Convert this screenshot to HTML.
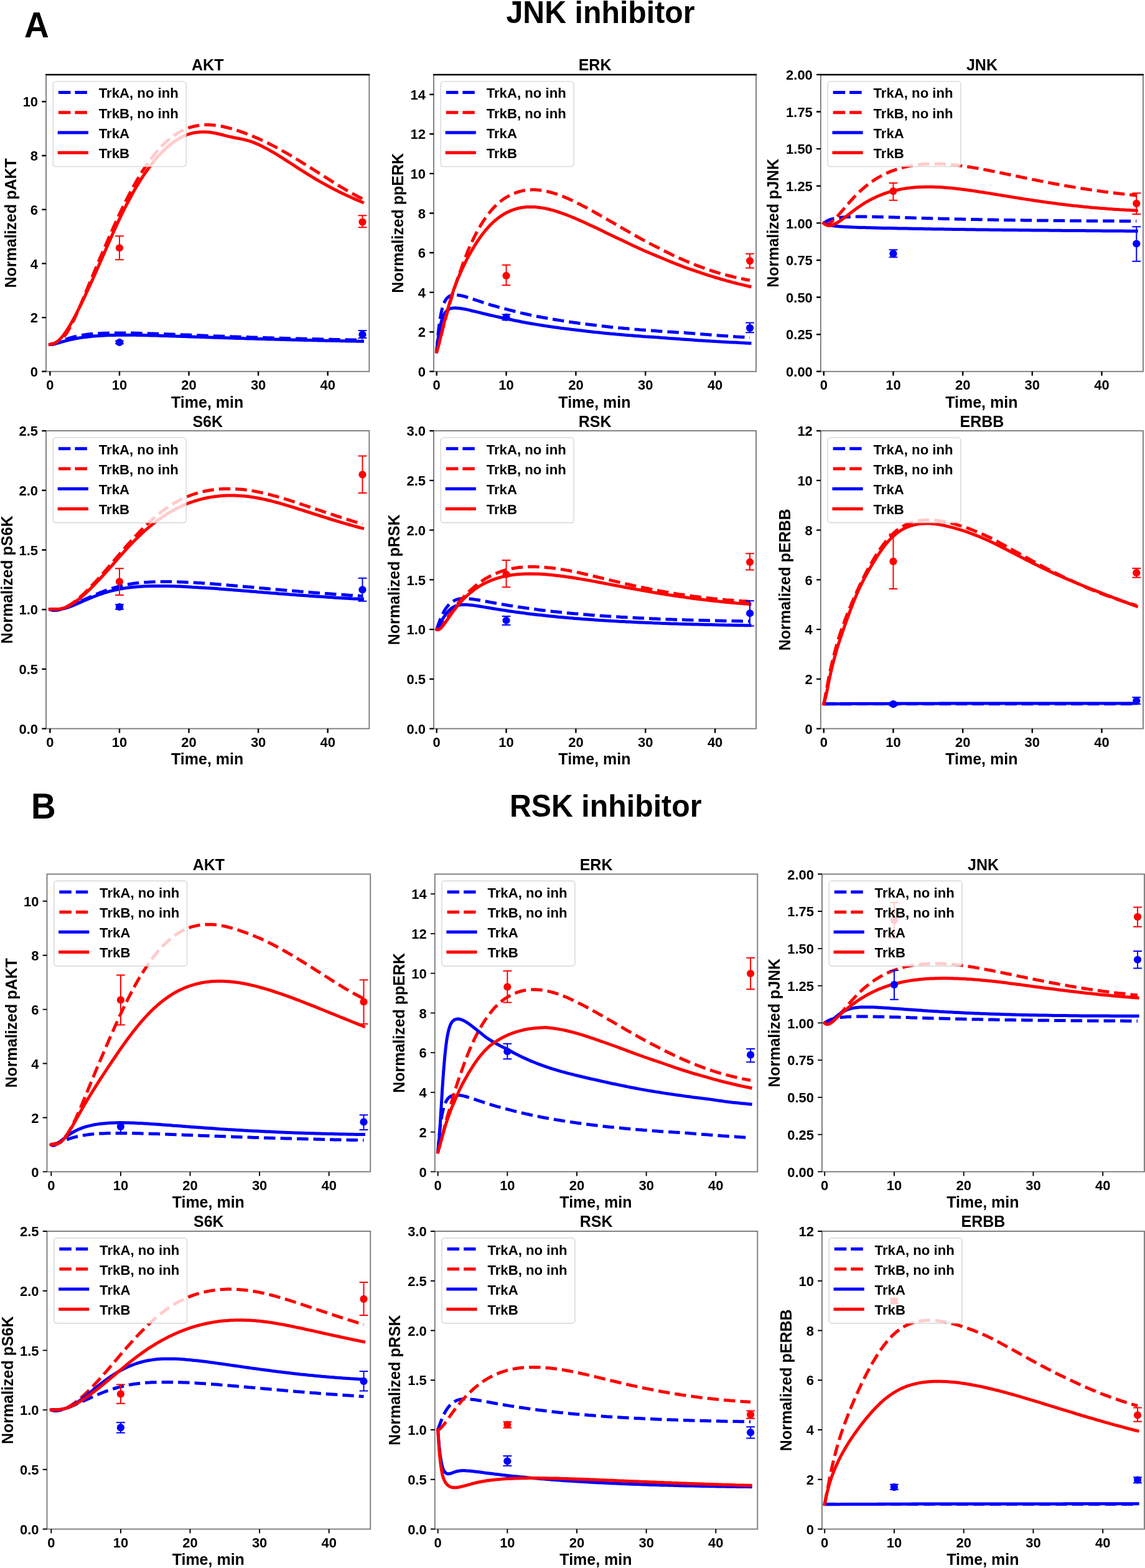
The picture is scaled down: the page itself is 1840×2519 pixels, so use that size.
<!DOCTYPE html>
<html lang="en"><head><meta charset="utf-8"><title>JNK inhibitor / RSK inhibitor</title>
<style>html,body{margin:0;padding:0;background:#fff;}svg{display:block;}text{font-family:"Liberation Sans", Arial, Helvetica, sans-serif;font-weight:bold;fill:#000;}</style>
</head><body>
<svg xmlns="http://www.w3.org/2000/svg" width="1840" height="2519" viewBox="0 0 1840 2519">
<rect x="0" y="0" width="1840" height="2519" fill="#ffffff"/>
<text transform="translate(39.00 60.00) scale(1 1.035)" font-size="55.0">A</text>
<text transform="translate(813.50 36.80) scale(1 1.035)" font-size="48.3">JNK inhibitor</text>
<text transform="translate(50.00 1314.60) scale(1 1.035)" font-size="55.0">B</text>
<text transform="translate(819.00 1312.20) scale(1 1.035)" font-size="48.3">RSK inhibitor</text>
<g id="panel-A1">
<clipPath id="clip0"><rect x="74.10" y="119.90" width="519.25" height="476.90"/></clipPath>
<g clip-path="url(#clip0)" fill="none" stroke-width="5.00" stroke-linejoin="round">
<path d="M80.4 553.4L81.3 553.5L82.2 553.5L83.1 553.4L84.0 553.2L84.9 553.0L85.8 552.8L86.6 552.5L87.5 552.2L88.4 551.9L89.3 551.6L90.2 551.3L91.1 550.9L92.0 550.5L92.9 550.2L93.8 549.8L94.7 549.5L95.6 549.1L96.5 548.7L97.4 548.4L98.3 548.0L99.1 547.7L100.0 547.3L100.9 547.0L101.8 546.6L102.7 546.3L103.6 545.9L104.5 545.6L105.4 545.3L106.3 545.0L107.2 544.7L108.1 544.4L109.0 544.1L109.9 543.8L110.7 543.5L111.6 543.2L112.5 543.0L113.4 542.7L114.3 542.4L115.2 542.2L116.1 541.9L117.0 541.7L117.9 541.5L118.8 541.2L119.7 541.0L120.6 540.8L121.5 540.6L122.4 540.4L123.2 540.2L124.1 540.0L125.0 539.8L129.2 538.9L133.4 538.2L137.6 537.6L141.8 537.1L146.0 536.6L150.2 536.3L154.4 536.0L158.6 535.7L162.8 535.5L167.0 535.3L171.2 535.2L175.4 535.1L179.6 535.0L183.8 535.0L188.0 534.9L192.2 534.9L196.4 534.9L200.6 535.0L204.8 535.0L209.0 535.1L213.2 535.1L217.4 535.2L221.6 535.3L225.7 535.4L229.9 535.5L234.1 535.7L238.3 535.8L242.5 535.9L246.7 536.0L250.9 536.2L255.1 536.3L259.3 536.5L263.5 536.6L267.7 536.8L271.9 537.0L276.1 537.1L280.3 537.3L284.5 537.4L288.7 537.6L292.9 537.8L297.1 537.9L301.3 538.1L305.5 538.3L309.7 538.4L313.9 538.6L318.1 538.7L322.3 538.9L326.5 539.1L330.7 539.2L334.9 539.4L339.1 539.5L343.3 539.7L347.5 539.9L351.6 540.0L355.8 540.2L360.0 540.3L364.2 540.5L368.4 540.6L372.6 540.8L376.8 540.9L381.0 541.1L385.2 541.2L389.4 541.4L393.6 541.5L397.8 541.6L402.0 541.8L406.2 541.9L410.4 542.0L414.6 542.2L418.8 542.3L423.0 542.4L427.2 542.6L431.4 542.7L435.6 542.8L439.8 542.9L444.0 543.1L448.2 543.2L452.4 543.3L456.6 543.4L460.8 543.5L465.0 543.7L469.2 543.8L473.4 543.9L477.5 544.0L481.7 544.1L485.9 544.2L490.1 544.3L494.3 544.4L498.5 544.5L502.7 544.6L506.9 544.7L511.1 544.8L515.3 544.9L519.5 545.0L523.7 545.1L527.9 545.2L532.1 545.3L536.3 545.4L540.5 545.5L544.7 545.6L548.9 545.7L553.1 545.8L557.3 545.8L561.5 545.9L565.7 546.0L569.9 546.1L574.1 546.2L578.3 546.2L582.5 546.3" stroke="#0000ff" stroke-dasharray="18.5 8.0"/>
<path d="M80.4 553.4L81.3 553.0L82.2 552.6L83.2 552.4L84.1 552.2L85.0 552.1L85.9 551.9L86.9 551.7L87.8 551.6L88.7 551.3L89.6 551.1L90.6 550.7L91.5 550.4L92.4 549.9L93.3 549.5L94.3 548.9L95.2 548.3L96.1 547.6L97.0 546.9L98.0 546.1L98.9 545.2L99.8 544.3L100.7 543.3L101.7 542.3L102.6 541.2L103.5 540.0L104.4 538.8L105.3 537.6L106.3 536.2L107.2 534.9L108.1 533.5L109.0 532.0L109.9 530.5L110.8 528.9L111.7 527.3L112.7 525.7L113.6 524.0L114.5 522.3L115.4 520.5L116.3 518.7L117.2 516.9L118.1 515.0L119.1 513.1L120.0 511.1L120.9 509.2L121.8 507.2L122.7 505.2L123.6 503.1L124.5 501.0L125.4 499.0L126.4 496.8L130.7 486.8L135.0 476.5L139.3 466.0L143.6 455.5L148.0 445.1L152.3 434.6L156.7 424.3L161.0 414.0L165.4 403.9L169.7 393.9L174.0 384.0L178.3 374.3L182.5 364.8L186.8 355.3L191.0 346.1L195.2 337.1L199.5 328.3L203.7 319.8L208.0 311.6L212.1 303.7L216.3 296.1L220.5 288.8L224.6 281.8L228.8 275.2L233.0 268.8L237.2 262.8L241.3 257.1L245.4 251.7L249.4 246.6L253.5 241.8L257.6 237.3L261.6 233.1L265.7 229.2L269.8 225.6L273.8 222.2L277.7 219.2L281.7 216.3L285.6 213.8L289.6 211.5L293.5 209.4L297.5 207.6L301.4 206.0L305.5 204.6L309.7 203.5L313.9 202.5L318.1 201.7L322.3 201.2L326.5 200.8L330.7 200.6L334.9 200.6L339.1 200.7L343.3 201.0L347.5 201.5L351.6 202.1L355.8 202.8L360.0 203.7L364.2 204.7L368.4 205.8L372.6 206.9L376.8 208.2L381.0 209.5L385.2 210.9L389.4 212.4L393.6 213.9L397.8 215.5L402.0 217.1L406.2 218.8L410.4 220.6L414.6 222.4L418.8 224.3L423.0 226.2L427.2 228.2L431.4 230.3L435.6 232.4L439.8 234.6L444.0 236.8L448.2 239.1L452.4 241.4L456.6 243.8L460.8 246.2L465.0 248.7L469.2 251.1L473.4 253.6L477.5 256.2L481.7 258.7L485.9 261.3L490.1 263.9L494.3 266.5L498.5 269.1L502.7 271.8L506.9 274.5L511.1 277.1L515.3 279.8L519.5 282.5L523.7 285.2L527.9 287.9L532.1 290.5L536.3 293.2L540.5 295.8L544.7 298.4L548.9 300.9L553.1 303.4L557.3 305.9L561.5 308.3L565.7 310.6L569.9 312.9L574.1 315.1L578.3 317.3L582.5 319.4" stroke="#ff0000" stroke-dasharray="18.5 8.0"/>
<path d="M80.4 553.4L81.3 553.5L82.2 553.4L83.1 553.4L84.0 553.3L84.9 553.1L85.8 553.0L86.6 552.8L87.5 552.6L88.4 552.3L89.3 552.1L90.2 551.9L91.1 551.6L92.0 551.4L92.9 551.1L93.8 550.9L94.7 550.6L95.6 550.3L96.5 550.1L97.4 549.8L98.3 549.6L99.1 549.3L100.0 549.1L100.9 548.8L101.8 548.6L102.7 548.3L103.6 548.1L104.5 547.8L105.4 547.6L106.3 547.4L107.2 547.1L108.1 546.9L109.0 546.7L109.9 546.5L110.7 546.2L111.6 546.0L112.5 545.8L113.4 545.6L114.3 545.4L115.2 545.2L116.1 545.0L117.0 544.9L117.9 544.7L118.8 544.5L119.7 544.3L120.6 544.1L121.5 544.0L122.4 543.8L123.2 543.6L124.1 543.5L125.0 543.3L129.2 542.6L133.4 542.0L137.6 541.4L141.8 540.9L146.0 540.5L150.2 540.1L154.4 539.7L158.6 539.4L162.8 539.2L167.0 538.9L171.2 538.7L175.4 538.6L179.6 538.5L183.8 538.4L188.0 538.3L192.2 538.2L196.4 538.2L200.6 538.2L204.8 538.2L209.0 538.2L213.2 538.3L217.4 538.3L221.6 538.4L225.7 538.5L229.9 538.6L234.1 538.7L238.3 538.8L242.5 538.9L246.7 539.0L250.9 539.1L255.1 539.2L259.3 539.4L263.5 539.5L267.7 539.6L271.9 539.7L276.1 539.9L280.3 540.0L284.5 540.2L288.7 540.3L292.9 540.4L297.1 540.6L301.3 540.7L305.5 540.9L309.7 541.0L313.9 541.2L318.1 541.3L322.3 541.4L326.5 541.6L330.7 541.7L334.9 541.9L339.1 542.0L343.3 542.2L347.5 542.3L351.6 542.4L355.8 542.6L360.0 542.7L364.2 542.8L368.4 543.0L372.6 543.1L376.8 543.2L381.0 543.4L385.2 543.5L389.4 543.6L393.6 543.8L397.8 543.9L402.0 544.0L406.2 544.1L410.4 544.3L414.6 544.4L418.8 544.5L423.0 544.6L427.2 544.8L431.4 544.9L435.6 545.0L439.8 545.1L444.0 545.2L448.2 545.3L452.4 545.4L456.6 545.6L460.8 545.7L465.0 545.8L469.2 545.9L473.4 546.0L477.5 546.1L481.7 546.2L485.9 546.3L490.1 546.4L494.3 546.5L498.5 546.6L502.7 546.7L506.9 546.8L511.1 546.9L515.3 547.0L519.5 547.1L523.7 547.2L527.9 547.3L532.1 547.3L536.3 547.4L540.5 547.5L544.7 547.6L548.9 547.7L553.1 547.8L557.3 547.9L561.5 547.9L565.7 548.0L569.9 548.1L574.1 548.2L578.3 548.3L582.5 548.3" stroke="#0000ff" stroke-linecap="square"/>
<path d="M80.4 553.4L81.3 553.3L82.2 553.1L83.2 552.9L84.1 552.7L85.0 552.4L85.9 552.1L86.9 551.8L87.8 551.3L88.7 550.9L89.6 550.3L90.6 549.8L91.5 549.1L92.4 548.4L93.3 547.7L94.3 546.9L95.2 546.0L96.1 545.1L97.0 544.2L98.0 543.2L98.9 542.2L99.8 541.1L100.7 540.0L101.7 538.8L102.6 537.6L103.5 536.3L104.4 535.1L105.3 533.8L106.3 532.4L107.2 531.0L108.1 529.6L109.0 528.2L109.9 526.7L110.8 525.3L111.7 523.7L112.7 522.2L113.6 520.6L114.5 519.0L115.4 517.4L116.3 515.8L117.2 514.1L118.1 512.4L119.1 510.7L120.0 509.0L120.9 507.3L121.8 505.5L122.7 503.8L123.6 502.0L124.5 500.2L125.4 498.4L126.4 496.6L130.7 487.8L135.0 478.8L139.3 469.5L143.6 460.1L148.0 450.6L152.3 440.9L156.7 431.2L161.0 421.3L165.4 411.4L169.7 401.5L174.0 391.7L178.3 381.9L182.5 372.4L186.8 363.0L191.0 353.9L195.2 345.1L199.5 336.5L203.7 328.2L208.0 320.2L212.1 312.5L216.3 305.1L220.5 298.0L224.6 291.2L228.8 284.7L233.0 278.4L237.2 272.5L241.3 266.9L245.4 261.6L249.4 256.5L253.5 251.7L257.6 247.3L261.6 243.1L265.7 239.2L269.8 235.5L273.8 232.2L277.7 229.1L281.7 226.3L285.6 223.8L289.6 221.5L293.5 219.4L297.5 217.7L301.4 216.1L305.5 214.8L309.7 213.8L313.9 213.0L318.1 212.4L322.3 212.0L326.5 211.9L330.7 211.9L334.9 212.3L339.1 212.8L343.3 213.5L347.5 214.3L351.6 215.3L355.8 216.3L360.0 217.3L364.2 218.4L368.4 219.4L372.6 220.3L376.8 221.2L381.0 222.0L385.2 222.8L389.4 223.6L393.6 224.6L397.8 225.7L402.0 226.9L406.2 228.4L410.4 230.1L414.6 231.9L418.8 233.8L423.0 235.9L427.2 238.1L431.4 240.4L435.6 242.8L439.8 245.2L444.0 247.7L448.2 250.3L452.4 252.9L456.6 255.6L460.8 258.3L465.0 261.0L469.2 263.7L473.4 266.4L477.5 269.1L481.7 271.8L485.9 274.5L490.1 277.2L494.3 279.8L498.5 282.4L502.7 284.9L506.9 287.5L511.1 289.9L515.3 292.3L519.5 294.7L523.7 297.0L527.9 299.3L532.1 301.5L536.3 303.7L540.5 305.8L544.7 307.9L548.9 309.9L553.1 311.9L557.3 313.9L561.5 315.8L565.7 317.7L569.9 319.6L574.1 321.4L578.3 323.2L582.5 325.0" stroke="#ff0000" stroke-linecap="square"/>
</g>
<g clip-path="url(#clip0)">
<path d="M191.97 552.14 V547.81 M185.07 552.14 H198.87 M185.07 547.81 H198.87" stroke="#0000ff" stroke-width="2.00" fill="none"/>
<circle cx="191.97" cy="549.98" r="6.10" fill="#0000ff"/>
<path d="M582.47 543.04 V530.90 M575.57 543.04 H589.37 M575.57 530.90 H589.37" stroke="#0000ff" stroke-width="2.00" fill="none"/>
<circle cx="582.47" cy="537.40" r="6.10" fill="#0000ff"/>
<path d="M191.97 417.31 V379.16 M185.07 417.31 H198.87 M185.07 379.16 H198.87" stroke="#ff0000" stroke-width="2.00" fill="none"/>
<circle cx="191.97" cy="398.24" r="6.10" fill="#ff0000"/>
<path d="M582.47 365.29 V346.21 M575.57 365.29 H589.37 M575.57 346.21 H589.37" stroke="#ff0000" stroke-width="2.00" fill="none"/>
<circle cx="582.47" cy="356.62" r="6.10" fill="#ff0000"/>
</g>
<rect x="74.10" y="119.90" width="519.25" height="476.90" fill="none" stroke="#7d7d7d" stroke-width="1.90"/>
<path d="M73.20 119.90 H594.25" stroke="#000" stroke-width="2.5" fill="none"/>
<path d="M80.40 596.80 v6.80 M191.97 596.80 v6.80 M303.54 596.80 v6.80 M415.11 596.80 v6.80 M526.68 596.80 v6.80 M74.10 596.80 h-6.80 M74.10 510.09 h-6.80 M74.10 423.38 h-6.80 M74.10 336.67 h-6.80 M74.10 249.96 h-6.80 M74.10 163.25 h-6.80" stroke="#000" stroke-width="2.40" fill="none"/>
<text transform="translate(80.40 626.40) scale(1 1.035)" font-size="22.0" text-anchor="middle">0</text>
<text transform="translate(191.97 626.40) scale(1 1.035)" font-size="22.0" text-anchor="middle">10</text>
<text transform="translate(303.54 626.40) scale(1 1.035)" font-size="22.0" text-anchor="middle">20</text>
<text transform="translate(415.11 626.40) scale(1 1.035)" font-size="22.0" text-anchor="middle">30</text>
<text transform="translate(526.68 626.40) scale(1 1.035)" font-size="22.0" text-anchor="middle">40</text>
<text transform="translate(61.10 605.00) scale(1 1.035)" font-size="22.0" text-anchor="end">0</text>
<text transform="translate(61.10 518.29) scale(1 1.035)" font-size="22.0" text-anchor="end">2</text>
<text transform="translate(61.10 431.58) scale(1 1.035)" font-size="22.0" text-anchor="end">4</text>
<text transform="translate(61.10 344.87) scale(1 1.035)" font-size="22.0" text-anchor="end">6</text>
<text transform="translate(61.10 258.16) scale(1 1.035)" font-size="22.0" text-anchor="end">8</text>
<text transform="translate(61.10 171.45) scale(1 1.035)" font-size="22.0" text-anchor="end">10</text>
<text transform="translate(333.73 113.30) scale(1 1.035)" font-size="25.0" text-anchor="middle">AKT</text>
<text transform="translate(333.12 654.50) scale(1 1.035)" font-size="25.0" text-anchor="middle">Time, min</text>
<text transform="translate(25.50 358.35) rotate(-90) scale(1 1.035)" font-size="25.0" text-anchor="middle">Normalized pAKT</text>
<rect x="85.30" y="130.90" width="213.90" height="136.70" rx="4.5" ry="4.5" fill="#ffffff" fill-opacity="0.8" stroke="#cccccc" stroke-opacity="0.8" stroke-width="1.4"/>
<path d="M93.90 148.50 H140.70" stroke="#0000ff" stroke-width="5.00" stroke-dasharray="19.5 7.0" fill="none"/>
<text transform="translate(158.70 157.40) scale(1 1.035)" font-size="22.2">TrkA, no inh</text>
<path d="M93.90 180.73 H140.70" stroke="#ff0000" stroke-width="5.00" stroke-dasharray="19.5 7.0" fill="none"/>
<text transform="translate(158.70 189.63) scale(1 1.035)" font-size="22.2">TrkB, no inh</text>
<path d="M95.20 212.96 H139.40" stroke="#0000ff" stroke-width="5.00" stroke-linecap="square" fill="none"/>
<text transform="translate(158.70 221.86) scale(1 1.035)" font-size="22.2">TrkA</text>
<path d="M95.20 245.19 H139.40" stroke="#ff0000" stroke-width="5.00" stroke-linecap="square" fill="none"/>
<text transform="translate(158.70 254.09) scale(1 1.035)" font-size="22.2">TrkB</text>
</g>
<g id="panel-A2">
<clipPath id="clip1"><rect x="697.05" y="119.90" width="518.00" height="476.90"/></clipPath>
<g clip-path="url(#clip1)" fill="none" stroke-width="5.00" stroke-linejoin="round">
<path d="M701.7 565.2L702.6 553.1L703.5 542.7L704.4 533.6L705.3 525.7L706.2 518.9L707.1 512.9L708.0 507.7L708.9 503.1L709.8 499.1L710.6 495.6L711.5 492.5L712.4 489.8L713.3 487.5L714.2 485.5L715.1 483.7L716.0 482.1L716.9 480.8L717.8 479.6L718.7 478.6L719.6 477.8L720.5 477.0L721.4 476.4L722.3 475.8L723.2 475.4L724.1 475.0L725.0 474.7L725.9 474.5L726.8 474.2L727.6 474.1L728.5 474.0L729.4 473.9L730.3 473.8L731.2 473.8L732.1 473.8L733.0 473.9L733.9 473.9L734.8 474.0L735.7 474.1L736.6 474.2L737.5 474.3L738.4 474.5L739.3 474.6L740.2 474.8L741.1 475.0L742.0 475.1L742.9 475.3L743.8 475.6L744.7 475.8L745.5 476.0L746.4 476.2L750.6 477.5L754.9 478.8L759.1 480.1L763.3 481.6L767.5 483.0L771.7 484.4L775.9 485.8L780.1 487.2L784.3 488.5L788.5 489.8L792.7 491.0L796.9 492.2L801.1 493.4L805.3 494.5L809.5 495.6L813.8 496.7L818.0 497.8L822.2 498.9L826.4 500.0L830.6 501.1L834.8 502.1L839.0 503.1L843.2 504.0L847.4 505.0L851.6 505.9L855.8 506.8L860.0 507.6L864.2 508.5L868.4 509.3L872.7 510.1L876.9 510.8L881.1 511.6L885.3 512.3L889.5 513.0L893.7 513.7L897.9 514.4L902.1 515.1L906.3 515.7L910.5 516.4L914.7 517.0L918.9 517.6L923.1 518.2L927.3 518.8L931.6 519.4L935.8 519.9L940.0 520.5L944.2 521.0L948.4 521.6L952.6 522.1L956.8 522.6L961.0 523.1L965.2 523.6L969.4 524.0L973.6 524.5L977.8 524.9L982.0 525.4L986.3 525.8L990.5 526.2L994.7 526.7L998.9 527.1L1003.1 527.5L1007.3 527.8L1011.5 528.2L1015.7 528.6L1019.9 529.0L1024.1 529.3L1028.3 529.7L1032.5 530.0L1036.7 530.3L1040.9 530.7L1045.2 531.0L1049.4 531.3L1053.6 531.6L1057.8 531.9L1062.0 532.2L1066.2 532.5L1070.4 532.8L1074.6 533.1L1078.8 533.3L1083.0 533.6L1087.2 533.9L1091.4 534.1L1095.6 534.4L1099.8 534.6L1104.1 534.9L1108.3 535.2L1112.5 535.6L1116.7 535.9L1120.9 536.3L1125.1 536.6L1129.3 536.9L1133.5 537.3L1137.7 537.6L1141.9 537.9L1146.1 538.3L1150.3 538.6L1154.5 538.9L1158.7 539.2L1163.0 539.5L1167.2 539.8L1171.4 540.1L1175.6 540.4L1179.8 540.7L1184.0 541.0L1188.2 541.2L1192.4 541.5L1196.6 541.8L1200.8 542.1L1205.0 542.3" stroke="#0000ff" stroke-dasharray="18.5 8.0"/>
<path d="M701.7 565.2L702.8 561.4L703.9 557.5L704.9 553.5L706.0 549.4L707.1 545.3L708.2 541.2L709.3 537.1L710.4 532.9L711.4 528.8L712.5 524.8L713.6 520.7L714.7 516.7L715.8 512.8L716.8 508.9L717.9 505.0L719.0 501.2L720.1 497.5L721.2 493.8L722.2 490.2L723.2 486.6L724.2 483.1L725.2 479.7L726.2 476.3L727.2 472.9L728.2 469.6L729.2 466.4L730.2 463.2L731.2 460.1L732.2 457.0L733.2 454.0L734.2 451.0L735.2 448.1L736.2 445.2L737.2 442.4L738.3 439.6L739.3 436.9L740.3 434.2L741.2 431.6L742.1 429.0L743.0 426.4L743.9 423.9L744.8 421.5L745.7 419.0L746.6 416.6L747.5 414.3L748.4 412.0L749.3 409.7L750.2 407.5L751.0 405.3L751.9 403.1L756.1 393.4L760.4 384.3L764.6 375.9L768.8 368.2L773.0 361.0L777.2 354.4L781.4 348.4L785.6 342.8L789.5 337.9L793.5 333.5L797.5 329.4L801.4 325.8L805.4 322.6L809.3 319.7L813.3 317.1L817.3 314.9L821.4 312.8L825.5 310.9L829.7 309.3L833.8 308.0L838.0 306.9L842.1 306.0L846.3 305.4L850.4 305.0L854.5 304.8L858.6 304.8L862.7 305.1L866.8 305.4L870.9 306.0L875.0 306.7L879.1 307.5L883.2 308.5L887.3 309.6L891.4 310.8L895.5 312.2L899.6 313.6L903.7 315.2L907.8 316.9L911.9 318.6L916.0 320.5L920.1 322.4L924.2 324.4L928.3 326.5L932.5 328.5L936.6 330.7L940.8 332.8L944.9 335.1L949.0 337.3L953.2 339.6L957.3 342.0L961.5 344.3L965.6 346.7L969.8 349.0L973.9 351.4L978.1 353.8L982.2 356.1L986.3 358.5L990.5 360.9L994.7 363.3L998.9 365.8L1003.1 368.3L1007.3 370.7L1011.5 373.2L1015.7 375.6L1019.9 378.0L1024.1 380.3L1028.3 382.7L1032.5 385.0L1036.7 387.2L1040.9 389.5L1045.2 391.7L1049.4 393.9L1053.6 396.0L1057.8 398.1L1062.0 400.3L1066.2 402.4L1070.4 404.5L1074.6 406.6L1078.8 408.7L1083.0 410.7L1087.2 412.6L1091.4 414.6L1095.6 416.4L1099.8 418.3L1104.1 420.1L1108.3 421.8L1112.5 423.5L1116.7 425.2L1120.9 426.9L1125.1 428.4L1129.3 430.0L1133.5 431.5L1137.7 433.0L1141.9 434.4L1146.1 435.8L1150.3 437.1L1154.5 438.4L1158.7 439.6L1163.0 440.8L1167.2 441.9L1171.4 443.0L1175.6 444.0L1179.8 445.1L1184.0 446.0L1188.2 447.0L1192.4 447.8L1196.6 448.7L1200.8 449.5L1205.0 450.3" stroke="#ff0000" stroke-dasharray="18.5 8.0"/>
<path d="M701.7 565.1L702.6 556.1L703.5 548.2L704.4 541.4L705.3 535.4L706.2 530.1L707.1 525.5L708.0 521.5L708.9 518.0L709.8 514.9L710.6 512.1L711.5 509.7L712.4 507.6L713.3 505.7L714.2 504.1L715.1 502.7L716.0 501.4L716.9 500.4L717.8 499.4L718.7 498.6L719.6 497.9L720.5 497.3L721.4 496.8L722.3 496.3L723.2 496.0L724.1 495.7L725.0 495.4L725.9 495.2L726.8 495.1L727.6 494.9L728.5 494.9L729.4 494.8L730.3 494.8L731.2 494.8L732.1 494.8L733.0 494.9L733.9 494.9L734.8 495.0L735.7 495.1L736.6 495.1L737.5 495.2L738.4 495.3L739.3 495.4L740.2 495.5L741.1 495.6L742.0 495.8L742.9 495.9L743.8 496.0L744.7 496.2L745.5 496.4L746.4 496.5L750.6 497.4L754.9 498.4L759.1 499.5L763.3 500.4L767.5 501.4L771.7 502.4L775.9 503.5L780.1 504.5L784.3 505.5L788.5 506.5L792.7 507.4L796.9 508.4L801.1 509.3L805.3 510.2L809.5 511.1L813.8 512.0L818.0 512.9L822.2 513.8L826.4 514.7L830.6 515.5L834.8 516.3L839.0 517.2L843.2 518.0L847.4 518.7L851.6 519.5L855.8 520.2L860.0 520.9L864.2 521.6L868.4 522.3L872.7 523.0L876.9 523.6L881.1 524.3L885.3 524.9L889.5 525.5L893.7 526.1L897.9 526.6L902.1 527.2L906.3 527.7L910.5 528.2L914.7 528.8L918.9 529.3L923.1 529.7L927.3 530.2L931.6 530.8L935.8 531.3L940.0 531.8L944.2 532.3L948.4 532.7L952.6 533.2L956.8 533.7L961.0 534.1L965.2 534.6L969.4 535.0L973.6 535.4L977.8 535.8L982.0 536.2L986.3 536.6L990.5 537.0L994.7 537.3L998.9 537.7L1003.1 538.1L1007.3 538.4L1011.5 538.8L1015.7 539.1L1019.9 539.4L1024.1 539.7L1028.3 540.0L1032.5 540.4L1036.7 540.7L1040.9 540.9L1045.2 541.2L1049.4 541.5L1053.6 541.8L1057.8 542.0L1062.0 542.4L1066.2 542.7L1070.4 543.0L1074.6 543.4L1078.8 543.7L1083.0 544.0L1087.2 544.3L1091.4 544.6L1095.6 544.9L1099.8 545.2L1104.1 545.5L1108.3 545.8L1112.5 546.1L1116.7 546.4L1120.9 546.7L1125.1 546.9L1129.3 547.2L1133.5 547.5L1137.7 547.7L1141.9 548.0L1146.1 548.2L1150.3 548.5L1154.5 548.7L1158.7 549.0L1163.0 549.2L1167.2 549.4L1171.4 549.7L1175.6 549.9L1179.8 550.1L1184.0 550.3L1188.2 550.6L1192.4 550.8L1196.6 551.0L1200.8 551.2L1205.0 551.4" stroke="#0000ff" stroke-linecap="square"/>
<path d="M701.7 565.1L702.8 562.0L703.8 558.4L704.9 554.6L705.9 550.5L707.0 546.3L708.0 541.9L709.1 537.5L710.1 533.2L711.2 528.8L712.2 524.4L713.3 520.2L714.4 515.9L715.4 511.8L716.5 507.8L717.5 503.9L718.6 500.0L719.6 496.3L720.7 492.7L721.7 489.2L722.6 485.8L723.6 482.6L724.5 479.4L725.5 476.4L726.4 473.4L727.3 470.5L728.3 467.8L729.2 465.0L730.1 462.4L731.1 459.9L732.0 457.4L733.0 454.9L733.9 452.5L734.8 450.2L735.8 447.9L736.7 445.7L737.6 443.5L738.6 441.4L739.5 439.3L740.4 437.2L741.3 435.2L742.2 433.2L743.1 431.3L744.0 429.3L744.9 427.5L745.8 425.6L746.7 423.8L747.6 422.0L748.5 420.2L749.3 418.4L750.2 416.7L754.4 408.9L758.7 401.5L762.9 394.4L767.1 387.9L771.3 381.7L775.5 376.0L779.7 370.7L783.9 365.8L788.1 361.3L792.3 357.2L796.5 353.5L800.7 350.1L804.9 347.1L809.1 344.4L813.3 342.0L817.6 339.9L821.7 338.1L825.9 336.6L830.1 335.3L834.3 334.3L838.4 333.5L842.6 332.9L846.8 332.5L851.0 332.4L855.2 332.4L859.3 332.6L863.5 333.0L867.7 333.5L871.9 334.1L876.1 334.9L880.3 335.8L884.5 336.8L888.7 337.9L892.8 339.2L897.0 340.5L901.2 341.9L905.4 343.4L909.6 344.9L913.8 346.5L918.0 348.2L922.2 349.9L926.4 351.7L930.5 353.6L934.7 355.4L938.9 357.3L943.1 359.2L947.3 361.2L951.5 363.1L955.7 365.1L959.9 367.1L964.1 369.1L968.3 371.1L972.5 373.2L976.7 375.2L980.9 377.2L985.1 379.2L989.3 381.2L993.5 383.2L997.6 385.1L1001.7 387.1L1005.8 389.1L1010.0 391.1L1014.1 393.0L1018.2 394.9L1022.3 396.8L1026.4 398.7L1030.5 400.5L1034.6 402.4L1038.7 404.2L1042.9 406.0L1047.0 407.7L1051.1 409.4L1055.2 411.1L1059.3 412.8L1063.4 414.5L1067.5 416.3L1071.7 418.0L1075.8 419.7L1079.9 421.4L1084.0 423.0L1088.1 424.6L1092.2 426.2L1096.3 427.8L1100.4 429.3L1104.6 430.8L1108.7 432.3L1112.8 433.7L1116.9 435.2L1121.0 436.5L1125.1 437.9L1129.3 439.3L1133.5 440.7L1137.7 442.1L1141.9 443.4L1146.1 444.7L1150.3 446.0L1154.5 447.2L1158.7 448.5L1163.0 449.7L1167.2 450.9L1171.4 452.0L1175.6 453.1L1179.8 454.3L1184.0 455.3L1188.2 456.4L1192.4 457.4L1196.6 458.4L1200.8 459.4L1205.0 460.4" stroke="#ff0000" stroke-linecap="square"/>
</g>
<g clip-path="url(#clip1)">
<path d="M813.55 514.14 V505.24 M806.65 514.14 H820.45 M806.65 505.24 H820.45" stroke="#0000ff" stroke-width="2.00" fill="none"/>
<circle cx="813.55" cy="509.69" r="6.10" fill="#0000ff"/>
<path d="M1205.03 534.17 V518.59 M1198.12 534.17 H1211.93 M1198.12 518.59 H1211.93" stroke="#0000ff" stroke-width="2.00" fill="none"/>
<circle cx="1205.03" cy="526.85" r="6.10" fill="#0000ff"/>
<path d="M813.55 458.18 V425.75 M806.65 458.18 H820.45 M806.65 425.75 H820.45" stroke="#ff0000" stroke-width="2.00" fill="none"/>
<circle cx="813.55" cy="442.92" r="6.10" fill="#ff0000"/>
<path d="M1205.03 430.52 V407.63 M1198.12 430.52 H1211.93 M1198.12 407.63 H1211.93" stroke="#ff0000" stroke-width="2.00" fill="none"/>
<circle cx="1205.03" cy="419.08" r="6.10" fill="#ff0000"/>
</g>
<rect x="697.05" y="119.90" width="518.00" height="476.90" fill="none" stroke="#7d7d7d" stroke-width="1.90"/>
<path d="M696.15 119.90 H1215.95" stroke="#000" stroke-width="2.5" fill="none"/>
<path d="M701.70 596.80 v6.80 M813.55 596.80 v6.80 M925.40 596.80 v6.80 M1037.25 596.80 v6.80 M1149.10 596.80 v6.80 M697.05 596.80 h-6.80 M697.05 533.21 h-6.80 M697.05 469.63 h-6.80 M697.05 406.04 h-6.80 M697.05 342.45 h-6.80 M697.05 278.87 h-6.80 M697.05 215.28 h-6.80 M697.05 151.69 h-6.80" stroke="#000" stroke-width="2.40" fill="none"/>
<text transform="translate(701.70 626.40) scale(1 1.035)" font-size="22.0" text-anchor="middle">0</text>
<text transform="translate(813.55 626.40) scale(1 1.035)" font-size="22.0" text-anchor="middle">10</text>
<text transform="translate(925.40 626.40) scale(1 1.035)" font-size="22.0" text-anchor="middle">20</text>
<text transform="translate(1037.25 626.40) scale(1 1.035)" font-size="22.0" text-anchor="middle">30</text>
<text transform="translate(1149.10 626.40) scale(1 1.035)" font-size="22.0" text-anchor="middle">40</text>
<text transform="translate(684.05 605.00) scale(1 1.035)" font-size="22.0" text-anchor="end">0</text>
<text transform="translate(684.05 541.41) scale(1 1.035)" font-size="22.0" text-anchor="end">2</text>
<text transform="translate(684.05 477.83) scale(1 1.035)" font-size="22.0" text-anchor="end">4</text>
<text transform="translate(684.05 414.24) scale(1 1.035)" font-size="22.0" text-anchor="end">6</text>
<text transform="translate(684.05 350.65) scale(1 1.035)" font-size="22.0" text-anchor="end">8</text>
<text transform="translate(684.05 287.07) scale(1 1.035)" font-size="22.0" text-anchor="end">10</text>
<text transform="translate(684.05 223.48) scale(1 1.035)" font-size="22.0" text-anchor="end">12</text>
<text transform="translate(684.05 159.89) scale(1 1.035)" font-size="22.0" text-anchor="end">14</text>
<text transform="translate(956.05 113.30) scale(1 1.035)" font-size="25.0" text-anchor="middle">ERK</text>
<text transform="translate(955.45 654.50) scale(1 1.035)" font-size="25.0" text-anchor="middle">Time, min</text>
<text transform="translate(647.85 358.35) rotate(-90) scale(1 1.035)" font-size="25.0" text-anchor="middle">Normalized ppERK</text>
<rect x="708.25" y="130.90" width="213.90" height="136.70" rx="4.5" ry="4.5" fill="#ffffff" fill-opacity="0.8" stroke="#cccccc" stroke-opacity="0.8" stroke-width="1.4"/>
<path d="M716.85 148.50 H763.65" stroke="#0000ff" stroke-width="5.00" stroke-dasharray="19.5 7.0" fill="none"/>
<text transform="translate(781.65 157.40) scale(1 1.035)" font-size="22.2">TrkA, no inh</text>
<path d="M716.85 180.73 H763.65" stroke="#ff0000" stroke-width="5.00" stroke-dasharray="19.5 7.0" fill="none"/>
<text transform="translate(781.65 189.63) scale(1 1.035)" font-size="22.2">TrkB, no inh</text>
<path d="M718.15 212.96 H762.35" stroke="#0000ff" stroke-width="5.00" stroke-linecap="square" fill="none"/>
<text transform="translate(781.65 221.86) scale(1 1.035)" font-size="22.2">TrkA</text>
<path d="M718.15 245.19 H762.35" stroke="#ff0000" stroke-width="5.00" stroke-linecap="square" fill="none"/>
<text transform="translate(781.65 254.09) scale(1 1.035)" font-size="22.2">TrkB</text>
</g>
<g id="panel-A3">
<clipPath id="clip2"><rect x="1318.85" y="119.90" width="518.15" height="476.90"/></clipPath>
<g clip-path="url(#clip2)" fill="none" stroke-width="5.00" stroke-linejoin="round">
<path d="M1323.8 358.5L1324.7 357.8L1325.6 357.1L1326.5 356.5L1327.4 355.9L1328.3 355.4L1329.2 354.9L1330.1 354.4L1330.9 354.0L1331.8 353.6L1332.7 353.3L1333.6 352.9L1334.5 352.6L1335.4 352.3L1336.3 352.1L1337.2 351.8L1338.1 351.6L1339.0 351.4L1339.9 351.1L1340.8 350.9L1341.7 350.8L1342.6 350.6L1343.5 350.4L1344.3 350.3L1345.2 350.1L1346.1 350.0L1347.0 349.9L1347.9 349.7L1348.8 349.6L1349.7 349.5L1350.6 349.4L1351.5 349.3L1352.4 349.2L1353.3 349.1L1354.2 349.1L1355.1 349.0L1356.0 348.9L1356.9 348.8L1357.7 348.8L1358.6 348.7L1359.5 348.7L1360.4 348.6L1361.3 348.6L1362.2 348.5L1363.1 348.5L1364.0 348.4L1364.9 348.4L1365.8 348.4L1366.7 348.3L1367.6 348.3L1368.5 348.3L1372.7 348.2L1376.9 348.1L1381.1 348.1L1385.3 348.1L1389.5 348.1L1393.7 348.1L1397.9 348.2L1402.1 348.2L1406.3 348.3L1410.5 348.4L1414.7 348.5L1418.9 348.6L1423.1 348.7L1427.3 348.8L1431.5 348.9L1435.7 349.0L1439.9 349.2L1444.1 349.3L1448.3 349.4L1452.5 349.5L1456.7 349.7L1460.9 349.8L1465.1 349.9L1469.3 350.1L1473.5 350.2L1477.7 350.3L1481.9 350.4L1486.1 350.6L1490.3 350.7L1494.5 350.8L1498.7 350.9L1502.9 351.0L1507.1 351.1L1511.3 351.3L1515.5 351.4L1519.7 351.5L1523.9 351.6L1528.1 351.7L1532.3 351.8L1536.5 351.9L1540.7 352.0L1544.9 352.1L1549.1 352.2L1553.3 352.3L1557.5 352.4L1561.7 352.5L1565.9 352.6L1570.1 352.6L1574.3 352.7L1578.5 352.8L1582.7 352.9L1586.9 353.0L1591.1 353.0L1595.3 353.1L1599.5 353.2L1603.7 353.3L1607.9 353.3L1612.1 353.4L1616.3 353.5L1620.5 353.5L1624.7 353.6L1628.9 353.7L1633.1 353.7L1637.3 353.8L1641.5 353.8L1645.7 353.9L1649.9 354.0L1654.1 354.0L1658.3 354.1L1662.5 354.1L1666.7 354.2L1670.9 354.2L1675.1 354.3L1679.3 354.3L1683.5 354.3L1687.7 354.4L1691.9 354.4L1696.1 354.5L1700.3 354.5L1704.5 354.6L1708.7 354.6L1712.9 354.6L1717.1 354.7L1721.3 354.7L1725.5 354.7L1729.7 354.8L1733.9 354.8L1738.1 354.8L1742.3 354.9L1746.5 354.9L1750.7 354.9L1754.9 354.9L1759.1 355.0L1763.3 355.0L1767.5 355.0L1771.7 355.0L1775.9 355.0L1780.1 355.1L1784.3 355.1L1788.5 355.1L1792.7 355.1L1796.9 355.1L1801.1 355.2L1805.3 355.2L1809.5 355.2L1813.7 355.2L1817.9 355.2L1822.1 355.2L1826.3 355.2" stroke="#0000ff" stroke-dasharray="18.5 8.0"/>
<path d="M1323.8 358.3L1324.7 359.1L1325.6 359.7L1326.5 360.0L1327.4 360.2L1328.3 360.3L1329.2 360.2L1330.1 360.0L1330.9 359.7L1331.8 359.3L1332.7 358.9L1333.6 358.3L1334.5 357.8L1335.4 357.1L1336.3 356.4L1337.2 355.7L1338.1 354.9L1339.0 354.1L1339.9 353.3L1340.8 352.5L1341.7 351.6L1342.6 350.7L1343.5 349.7L1344.3 348.8L1345.2 347.8L1346.1 346.9L1347.0 345.9L1347.9 344.9L1348.8 343.9L1349.7 342.8L1350.6 341.8L1351.5 340.8L1352.4 339.7L1353.3 338.7L1354.2 337.7L1355.1 336.6L1356.0 335.6L1356.9 334.5L1357.7 333.5L1358.6 332.4L1359.5 331.4L1360.4 330.3L1361.3 329.3L1362.2 328.2L1363.1 327.2L1364.0 326.2L1364.9 325.2L1365.8 324.1L1366.7 323.1L1367.6 322.1L1368.5 321.2L1372.7 316.6L1376.9 312.3L1381.1 308.2L1385.3 304.4L1389.5 300.7L1393.7 297.3L1397.9 294.1L1402.1 291.1L1406.3 288.3L1410.5 285.7L1414.7 283.3L1418.9 281.1L1423.1 279.0L1427.3 277.1L1431.5 275.4L1435.7 273.8L1439.9 272.3L1444.1 271.0L1448.3 269.7L1452.5 268.6L1456.7 267.7L1460.9 266.8L1465.1 266.0L1469.3 265.4L1473.5 264.8L1477.7 264.3L1481.9 263.9L1486.1 263.6L1490.3 263.4L1494.5 263.2L1498.7 263.2L1502.9 263.2L1507.1 263.2L1511.3 263.3L1515.5 263.5L1519.7 263.8L1523.9 264.1L1528.1 264.4L1532.3 264.8L1536.5 265.3L1540.7 265.8L1544.9 266.4L1549.1 266.9L1553.3 267.6L1557.5 268.2L1561.7 268.9L1565.9 269.6L1570.1 270.3L1574.3 271.1L1578.5 271.8L1582.7 272.6L1586.9 273.4L1591.1 274.2L1595.3 275.1L1599.5 275.9L1603.7 276.8L1607.9 277.6L1612.1 278.5L1616.3 279.4L1620.5 280.2L1624.7 281.1L1628.9 282.0L1633.1 282.9L1637.3 283.7L1641.5 284.6L1645.7 285.5L1649.9 286.4L1654.1 287.2L1658.3 288.1L1662.5 288.9L1666.7 289.8L1670.9 290.6L1675.1 291.4L1679.3 292.3L1683.5 293.1L1687.7 293.9L1691.9 294.7L1696.1 295.5L1700.3 296.2L1704.5 297.0L1708.7 297.7L1712.9 298.5L1717.1 299.2L1721.3 299.9L1725.5 300.6L1729.7 301.3L1733.9 302.0L1738.1 302.7L1742.3 303.3L1746.5 304.0L1750.7 304.6L1754.9 305.2L1759.1 305.9L1763.3 306.5L1767.5 307.0L1771.7 307.6L1775.9 308.2L1780.1 308.7L1784.3 309.3L1788.5 309.8L1792.7 310.3L1796.9 310.8L1801.1 311.3L1805.3 311.7L1809.5 312.2L1813.7 312.6L1817.9 313.1L1822.1 313.5L1826.3 313.9" stroke="#ff0000" stroke-dasharray="18.5 8.0"/>
<path d="M1323.8 358.5L1324.7 359.0L1325.6 359.4L1326.5 359.7L1327.4 360.1L1328.3 360.4L1329.2 360.7L1330.1 360.9L1330.9 361.2L1331.8 361.4L1332.7 361.6L1333.6 361.8L1334.5 362.0L1335.4 362.1L1336.3 362.3L1337.2 362.4L1338.1 362.6L1339.0 362.7L1339.9 362.8L1340.8 363.0L1341.7 363.1L1342.6 363.2L1343.5 363.3L1344.3 363.4L1345.2 363.5L1346.1 363.5L1347.0 363.6L1347.9 363.7L1348.8 363.8L1349.7 363.9L1350.6 363.9L1351.5 364.0L1352.4 364.1L1353.3 364.1L1354.2 364.2L1355.1 364.2L1356.0 364.3L1356.9 364.3L1357.7 364.4L1358.6 364.4L1359.5 364.5L1360.4 364.5L1361.3 364.6L1362.2 364.6L1363.1 364.7L1364.0 364.7L1364.9 364.8L1365.8 364.8L1366.7 364.8L1367.6 364.9L1368.5 364.9L1372.7 365.1L1376.9 365.2L1381.1 365.4L1385.3 365.5L1389.5 365.6L1393.7 365.7L1397.9 365.8L1402.1 366.0L1406.3 366.1L1410.5 366.2L1414.7 366.3L1418.9 366.4L1423.1 366.5L1427.3 366.5L1431.5 366.6L1435.7 366.7L1439.9 366.8L1444.1 366.9L1448.3 367.0L1452.5 367.1L1456.7 367.1L1460.9 367.2L1465.1 367.3L1469.3 367.4L1473.5 367.4L1477.7 367.5L1481.9 367.6L1486.1 367.7L1490.3 367.7L1494.5 367.8L1498.7 367.9L1502.9 367.9L1507.1 368.0L1511.3 368.1L1515.5 368.1L1519.7 368.2L1523.9 368.3L1528.1 368.3L1532.3 368.4L1536.5 368.4L1540.7 368.5L1544.9 368.6L1549.1 368.6L1553.3 368.7L1557.5 368.7L1561.7 368.8L1565.9 368.8L1570.1 368.9L1574.3 368.9L1578.5 369.0L1582.7 369.0L1586.9 369.1L1591.1 369.2L1595.3 369.2L1599.5 369.2L1603.7 369.3L1607.9 369.3L1612.1 369.4L1616.3 369.4L1620.5 369.5L1624.7 369.5L1628.9 369.6L1633.1 369.6L1637.3 369.7L1641.5 369.7L1645.7 369.8L1649.9 369.8L1654.1 369.8L1658.3 369.9L1662.5 369.9L1666.7 370.0L1670.9 370.0L1675.1 370.1L1679.3 370.1L1683.5 370.1L1687.7 370.2L1691.9 370.2L1696.1 370.2L1700.3 370.3L1704.5 370.3L1708.7 370.4L1712.9 370.4L1717.1 370.4L1721.3 370.5L1725.5 370.5L1729.7 370.5L1733.9 370.6L1738.1 370.6L1742.3 370.6L1746.5 370.7L1750.7 370.7L1754.9 370.7L1759.1 370.8L1763.3 370.8L1767.5 370.8L1771.7 370.9L1775.9 370.9L1780.1 370.9L1784.3 371.0L1788.5 371.0L1792.7 371.0L1796.9 371.1L1801.1 371.1L1805.3 371.1L1809.5 371.2L1813.7 371.2L1817.9 371.2L1822.1 371.2L1826.3 371.3" stroke="#0000ff" stroke-linecap="square"/>
<path d="M1323.8 358.5L1324.7 359.4L1325.6 360.2L1326.5 360.8L1327.4 361.3L1328.3 361.7L1329.2 362.0L1330.1 362.2L1330.9 362.4L1331.8 362.4L1332.7 362.4L1333.6 362.3L1334.5 362.2L1335.4 362.0L1336.3 361.8L1337.2 361.6L1338.1 361.3L1339.0 360.9L1339.9 360.6L1340.8 360.2L1341.7 359.8L1342.6 359.3L1343.5 358.8L1344.3 358.3L1345.2 357.8L1346.1 357.3L1347.0 356.7L1347.9 356.2L1348.8 355.6L1349.7 355.0L1350.6 354.4L1351.5 353.8L1352.4 353.2L1353.3 352.5L1354.2 351.9L1355.1 351.2L1356.0 350.5L1356.9 349.9L1357.7 349.2L1358.6 348.5L1359.5 347.8L1360.4 347.1L1361.3 346.4L1362.2 345.7L1363.1 345.0L1364.0 344.3L1364.9 343.6L1365.8 342.9L1366.7 342.2L1367.6 341.5L1368.5 340.9L1372.7 337.7L1376.9 334.6L1381.1 331.7L1385.3 328.9L1389.5 326.2L1393.7 323.7L1397.9 321.4L1402.1 319.2L1406.3 317.2L1410.5 315.3L1414.7 313.5L1418.9 311.9L1423.1 310.4L1427.3 309.0L1431.5 307.8L1435.7 306.6L1439.9 305.6L1444.1 304.7L1448.3 303.9L1452.5 303.1L1456.7 302.5L1460.9 301.9L1465.1 301.5L1469.3 301.1L1473.5 300.8L1477.7 300.6L1481.9 300.4L1486.1 300.3L1490.3 300.2L1494.5 300.2L1498.7 300.3L1502.9 300.4L1507.1 300.6L1511.3 300.8L1515.5 301.1L1519.7 301.4L1523.9 301.8L1528.1 302.1L1532.3 302.6L1536.5 303.0L1540.7 303.5L1544.9 304.0L1549.1 304.6L1553.3 305.1L1557.5 305.7L1561.7 306.3L1565.9 306.9L1570.1 307.5L1574.3 308.2L1578.5 308.8L1582.7 309.5L1586.9 310.1L1591.1 310.8L1595.3 311.5L1599.5 312.2L1603.7 312.9L1607.9 313.5L1612.1 314.2L1616.3 314.9L1620.5 315.6L1624.7 316.3L1628.9 317.0L1633.1 317.6L1637.3 318.3L1641.5 319.0L1645.7 319.6L1649.9 320.3L1654.1 320.9L1658.3 321.5L1662.5 322.2L1666.7 322.8L1670.9 323.4L1675.1 324.0L1679.3 324.6L1683.5 325.2L1687.7 325.7L1691.9 326.3L1696.1 326.8L1700.3 327.4L1704.5 327.9L1708.7 328.4L1712.9 328.9L1717.1 329.4L1721.3 329.9L1725.5 330.4L1729.7 330.8L1733.9 331.3L1738.1 331.7L1742.3 332.2L1746.5 332.6L1750.7 333.0L1754.9 333.4L1759.1 333.7L1763.3 334.1L1767.5 334.5L1771.7 334.8L1775.9 335.1L1780.1 335.5L1784.3 335.8L1788.5 336.1L1792.7 336.4L1796.9 336.6L1801.1 336.9L1805.3 337.1L1809.5 337.4L1813.7 337.6L1817.9 337.8L1822.1 338.0L1826.3 338.2" stroke="#ff0000" stroke-linecap="square"/>
</g>
<g clip-path="url(#clip2)">
<path d="M1435.47 413.19 V401.27 M1428.57 413.19 H1442.37 M1428.57 401.27 H1442.37" stroke="#0000ff" stroke-width="2.00" fill="none"/>
<circle cx="1435.47" cy="407.47" r="6.10" fill="#0000ff"/>
<path d="M1826.32 419.63 V364.31 M1819.41 419.63 H1833.22 M1819.41 364.31 H1833.22" stroke="#0000ff" stroke-width="2.00" fill="none"/>
<circle cx="1826.32" cy="391.49" r="6.10" fill="#0000ff"/>
<path d="M1435.47 321.63 V293.97 M1428.57 321.63 H1442.37 M1428.57 293.97 H1442.37" stroke="#ff0000" stroke-width="2.00" fill="none"/>
<circle cx="1435.47" cy="307.08" r="6.10" fill="#ff0000"/>
<path d="M1826.32 344.04 V310.18 M1819.41 344.04 H1833.22 M1819.41 310.18 H1833.22" stroke="#ff0000" stroke-width="2.00" fill="none"/>
<circle cx="1826.32" cy="326.87" r="6.10" fill="#ff0000"/>
</g>
<rect x="1318.85" y="119.90" width="518.15" height="476.90" fill="none" stroke="#7d7d7d" stroke-width="1.90"/>
<path d="M1317.95 119.90 H1837.90" stroke="#000" stroke-width="2.5" fill="none"/>
<path d="M1323.80 596.80 v6.80 M1435.47 596.80 v6.80 M1547.14 596.80 v6.80 M1658.81 596.80 v6.80 M1770.48 596.80 v6.80 M1318.85 596.80 h-6.80 M1318.85 537.19 h-6.80 M1318.85 477.57 h-6.80 M1318.85 417.96 h-6.80 M1318.85 358.35 h-6.80 M1318.85 298.74 h-6.80 M1318.85 239.12 h-6.80 M1318.85 179.51 h-6.80 M1318.85 119.90 h-6.80" stroke="#000" stroke-width="2.40" fill="none"/>
<text transform="translate(1323.80 626.40) scale(1 1.035)" font-size="22.0" text-anchor="middle">0</text>
<text transform="translate(1435.47 626.40) scale(1 1.035)" font-size="22.0" text-anchor="middle">10</text>
<text transform="translate(1547.14 626.40) scale(1 1.035)" font-size="22.0" text-anchor="middle">20</text>
<text transform="translate(1658.81 626.40) scale(1 1.035)" font-size="22.0" text-anchor="middle">30</text>
<text transform="translate(1770.48 626.40) scale(1 1.035)" font-size="22.0" text-anchor="middle">40</text>
<text transform="translate(1305.85 605.00) scale(1 1.035)" font-size="22.0" text-anchor="end">0.00</text>
<text transform="translate(1305.85 545.39) scale(1 1.035)" font-size="22.0" text-anchor="end">0.25</text>
<text transform="translate(1305.85 485.77) scale(1 1.035)" font-size="22.0" text-anchor="end">0.50</text>
<text transform="translate(1305.85 426.16) scale(1 1.035)" font-size="22.0" text-anchor="end">0.75</text>
<text transform="translate(1305.85 366.55) scale(1 1.035)" font-size="22.0" text-anchor="end">1.00</text>
<text transform="translate(1305.85 306.94) scale(1 1.035)" font-size="22.0" text-anchor="end">1.25</text>
<text transform="translate(1305.85 247.32) scale(1 1.035)" font-size="22.0" text-anchor="end">1.50</text>
<text transform="translate(1305.85 187.71) scale(1 1.035)" font-size="22.0" text-anchor="end">1.75</text>
<text transform="translate(1305.85 128.10) scale(1 1.035)" font-size="22.0" text-anchor="end">2.00</text>
<text transform="translate(1577.92 113.30) scale(1 1.035)" font-size="25.0" text-anchor="middle">JNK</text>
<text transform="translate(1577.33 654.50) scale(1 1.035)" font-size="25.0" text-anchor="middle">Time, min</text>
<text transform="translate(1250.65 358.35) rotate(-90) scale(1 1.035)" font-size="25.0" text-anchor="middle">Normalized pJNK</text>
<rect x="1330.05" y="130.90" width="213.90" height="136.70" rx="4.5" ry="4.5" fill="#ffffff" fill-opacity="0.8" stroke="#cccccc" stroke-opacity="0.8" stroke-width="1.4"/>
<path d="M1338.65 148.50 H1385.45" stroke="#0000ff" stroke-width="5.00" stroke-dasharray="19.5 7.0" fill="none"/>
<text transform="translate(1403.45 157.40) scale(1 1.035)" font-size="22.2">TrkA, no inh</text>
<path d="M1338.65 180.73 H1385.45" stroke="#ff0000" stroke-width="5.00" stroke-dasharray="19.5 7.0" fill="none"/>
<text transform="translate(1403.45 189.63) scale(1 1.035)" font-size="22.2">TrkB, no inh</text>
<path d="M1339.95 212.96 H1384.15" stroke="#0000ff" stroke-width="5.00" stroke-linecap="square" fill="none"/>
<text transform="translate(1403.45 221.86) scale(1 1.035)" font-size="22.2">TrkA</text>
<path d="M1339.95 245.19 H1384.15" stroke="#ff0000" stroke-width="5.00" stroke-linecap="square" fill="none"/>
<text transform="translate(1403.45 254.09) scale(1 1.035)" font-size="22.2">TrkB</text>
</g>
<g id="panel-A4">
<clipPath id="clip3"><rect x="74.10" y="692.10" width="519.25" height="478.50"/></clipPath>
<g clip-path="url(#clip3)" fill="none" stroke-width="5.00" stroke-linejoin="round">
<path d="M80.4 979.1L81.3 979.5L82.2 979.8L83.1 980.1L84.0 980.3L84.9 980.5L85.8 980.6L86.6 980.6L87.5 980.6L88.4 980.6L89.3 980.6L90.2 980.5L91.1 980.4L92.0 980.2L92.9 980.1L93.8 979.9L94.7 979.7L95.6 979.5L96.5 979.3L97.4 979.0L98.3 978.7L99.1 978.5L100.0 978.2L100.9 977.9L101.8 977.6L102.7 977.3L103.6 977.0L104.5 976.7L105.4 976.3L106.3 976.0L107.2 975.6L108.1 975.3L109.0 974.9L109.9 974.6L110.7 974.2L111.6 973.9L112.5 973.5L113.4 973.1L114.3 972.7L115.2 972.4L116.1 972.0L117.0 971.6L117.9 971.2L118.8 970.8L119.7 970.4L120.6 970.0L121.5 969.6L122.4 969.2L123.2 968.8L124.1 968.5L125.0 968.1L129.2 966.2L133.4 964.3L137.6 962.4L141.8 960.5L146.0 958.6L150.2 956.7L154.4 954.9L158.6 953.1L162.8 951.4L167.0 949.8L171.2 948.2L175.4 946.8L179.6 945.4L183.8 944.1L188.0 942.9L192.2 941.8L196.4 940.8L200.6 939.9L204.8 939.0L209.0 938.3L213.2 937.6L217.4 937.1L221.6 936.6L225.7 936.1L229.9 935.7L234.1 935.4L238.3 935.2L242.5 934.9L246.7 934.8L250.9 934.6L255.1 934.5L259.3 934.5L263.5 934.5L267.7 934.5L271.9 934.5L276.1 934.6L280.3 934.7L284.5 934.8L288.7 934.9L292.9 935.1L297.1 935.2L301.3 935.4L305.5 935.6L309.7 935.9L313.9 936.1L318.1 936.4L322.3 936.6L326.5 936.9L330.7 937.2L334.9 937.5L339.1 937.8L343.3 938.1L347.5 938.4L351.6 938.8L355.8 939.1L360.0 939.4L364.2 939.8L368.4 940.2L372.6 940.5L376.8 940.9L381.0 941.3L385.2 941.6L389.4 942.0L393.6 942.4L397.8 942.8L402.0 943.1L406.2 943.5L410.4 943.9L414.6 944.3L418.8 944.7L423.0 945.0L427.2 945.4L431.4 945.8L435.6 946.2L439.8 946.6L444.0 946.9L448.2 947.3L452.4 947.7L456.6 948.0L460.8 948.4L465.0 948.8L469.2 949.1L473.4 949.5L477.5 949.8L481.7 950.2L485.9 950.5L490.1 950.9L494.3 951.2L498.5 951.6L502.7 951.9L506.9 952.2L511.1 952.6L515.3 952.9L519.5 953.2L523.7 953.5L527.9 953.8L532.1 954.1L536.3 954.4L540.5 954.7L544.7 955.0L548.9 955.3L553.1 955.6L557.3 955.9L561.5 956.2L565.7 956.4L569.9 956.7L574.1 957.0L578.3 957.3L582.5 957.5" stroke="#0000ff" stroke-dasharray="18.5 8.0"/>
<path d="M80.4 979.1L81.3 979.0L82.2 978.9L83.1 979.0L84.0 979.0L84.9 979.0L85.8 979.1L86.6 979.1L87.5 979.2L88.4 979.2L89.3 979.2L90.2 979.2L91.1 979.2L92.0 979.1L92.9 979.1L93.8 979.0L94.7 978.8L95.6 978.7L96.5 978.5L97.4 978.3L98.3 978.1L99.1 977.9L100.0 977.6L100.9 977.3L101.8 977.0L102.7 976.7L103.6 976.3L104.5 975.9L105.4 975.5L106.3 975.1L107.2 974.7L108.1 974.2L109.0 973.7L109.9 973.2L110.7 972.7L111.6 972.2L112.5 971.6L113.4 971.1L114.3 970.5L115.2 969.9L116.1 969.3L117.0 968.6L117.9 968.0L118.8 967.3L119.7 966.7L120.6 966.0L121.5 965.3L122.4 964.6L123.2 963.9L124.1 963.2L125.0 962.4L129.2 958.8L133.4 955.0L137.6 951.0L141.8 946.8L146.0 942.5L150.2 938.1L154.4 933.6L158.6 928.9L162.8 924.3L167.0 919.5L171.2 914.7L175.4 909.8L179.6 904.9L183.8 899.9L188.0 895.0L192.2 890.0L196.4 885.1L200.6 880.3L204.8 875.5L209.0 870.8L213.2 866.2L217.4 861.6L221.6 857.2L225.7 852.8L229.9 848.6L234.1 844.4L238.3 840.4L242.5 836.5L246.7 832.7L250.9 829.1L255.1 825.6L259.3 822.3L263.5 819.1L267.7 816.1L271.9 813.3L276.1 810.6L280.3 808.0L284.5 805.7L288.7 803.5L292.9 801.4L297.1 799.5L301.3 797.7L305.5 796.0L309.7 794.5L313.9 793.1L318.1 791.9L322.3 790.7L326.5 789.7L330.7 788.8L334.9 788.0L339.1 787.3L343.3 786.7L347.5 786.2L351.6 785.8L355.8 785.5L360.0 785.3L364.2 785.2L368.4 785.2L372.6 785.3L376.8 785.4L381.0 785.7L385.2 786.0L389.4 786.3L393.6 786.8L397.8 787.3L402.0 788.0L406.2 788.6L410.4 789.4L414.6 790.2L418.8 791.1L423.0 792.0L427.2 793.0L431.4 794.0L435.6 795.1L439.8 796.3L444.0 797.4L448.2 798.6L452.4 799.9L456.6 801.1L460.8 802.4L465.0 803.7L469.2 805.1L473.4 806.4L477.5 807.8L481.7 809.2L485.9 810.6L490.1 812.0L494.3 813.4L498.5 814.8L502.7 816.2L506.9 817.6L511.1 819.0L515.3 820.4L519.5 821.8L523.7 823.2L527.9 824.6L532.1 826.0L536.3 827.4L540.5 828.8L544.7 830.2L548.9 831.5L553.1 832.8L557.3 834.2L561.5 835.5L565.7 836.8L569.9 838.1L574.1 839.4L578.3 840.6L582.5 841.8" stroke="#ff0000" stroke-dasharray="18.5 8.0"/>
<path d="M80.4 978.9L81.3 978.9L82.2 978.9L83.1 978.9L84.0 978.9L84.9 979.0L85.8 979.0L86.6 979.1L87.5 979.1L88.4 979.1L89.3 979.1L90.2 979.1L91.1 979.1L92.0 979.1L92.9 979.1L93.8 979.0L94.7 978.9L95.6 978.8L96.5 978.7L97.4 978.6L98.3 978.5L99.1 978.3L100.0 978.2L100.9 978.0L101.8 977.8L102.7 977.6L103.6 977.4L104.5 977.2L105.4 977.0L106.3 976.7L107.2 976.4L108.1 976.2L109.0 975.9L109.9 975.6L110.7 975.3L111.6 975.0L112.5 974.6L113.4 974.3L114.3 974.0L115.2 973.6L116.1 973.3L117.0 972.9L117.9 972.5L118.8 972.2L119.7 971.8L120.6 971.4L121.5 971.0L122.4 970.6L123.2 970.2L124.1 969.8L125.0 969.4L129.2 967.6L133.4 965.7L137.6 963.9L141.8 962.1L146.0 960.4L150.2 958.7L154.4 957.1L158.6 955.5L162.8 954.1L167.0 952.7L171.2 951.4L175.4 950.2L179.6 949.1L183.8 948.1L188.0 947.2L192.2 946.4L196.4 945.6L200.6 944.9L204.8 944.3L209.0 943.8L213.2 943.3L217.4 942.9L221.6 942.6L225.7 942.3L229.9 942.0L234.1 941.8L238.3 941.7L242.5 941.6L246.7 941.5L250.9 941.4L255.1 941.4L259.3 941.4L263.5 941.5L267.7 941.5L271.9 941.6L276.1 941.7L280.3 941.8L284.5 942.0L288.7 942.1L292.9 942.3L297.1 942.5L301.3 942.7L305.5 942.9L309.7 943.2L313.9 943.4L318.1 943.7L322.3 943.9L326.5 944.2L330.7 944.5L334.9 944.7L339.1 945.0L343.3 945.3L347.5 945.6L351.6 945.9L355.8 946.3L360.0 946.6L364.2 946.9L368.4 947.2L372.6 947.6L376.8 947.9L381.0 948.2L385.2 948.6L389.4 948.9L393.6 949.3L397.8 949.6L402.0 949.9L406.2 950.3L410.4 950.6L414.6 951.0L418.8 951.3L423.0 951.7L427.2 952.0L431.4 952.3L435.6 952.7L439.8 953.0L444.0 953.3L448.2 953.7L452.4 954.0L456.6 954.3L460.8 954.6L465.0 955.0L469.2 955.3L473.4 955.6L477.5 955.9L481.7 956.2L485.9 956.5L490.1 956.8L494.3 957.1L498.5 957.4L502.7 957.7L506.9 958.0L511.1 958.3L515.3 958.6L519.5 958.8L523.7 959.1L527.9 959.4L532.1 959.6L536.3 959.9L540.5 960.2L544.7 960.4L548.9 960.7L553.1 960.9L557.3 961.2L561.5 961.4L565.7 961.7L569.9 961.9L574.1 962.1L578.3 962.4L582.5 962.6" stroke="#0000ff" stroke-linecap="square"/>
<path d="M80.4 978.9L81.3 978.7L82.2 978.5L83.1 978.5L84.0 978.5L84.9 978.5L85.8 978.5L86.6 978.5L87.5 978.6L88.4 978.6L89.3 978.6L90.2 978.7L91.1 978.7L92.0 978.6L92.9 978.6L93.8 978.5L94.7 978.4L95.6 978.3L96.5 978.2L97.4 978.1L98.3 977.9L99.1 977.7L100.0 977.5L100.9 977.3L101.8 977.0L102.7 976.7L103.6 976.4L104.5 976.1L105.4 975.7L106.3 975.4L107.2 975.0L108.1 974.6L109.0 974.2L109.9 973.7L110.7 973.3L111.6 972.8L112.5 972.3L113.4 971.8L114.3 971.3L115.2 970.7L116.1 970.2L117.0 969.6L117.9 969.0L118.8 968.4L119.7 967.8L120.6 967.2L121.5 966.5L122.4 965.9L123.2 965.2L124.1 964.5L125.0 963.9L129.2 960.5L133.4 956.9L137.6 953.1L141.8 949.2L146.0 945.1L150.2 940.8L154.4 936.5L158.6 932.1L162.8 927.5L167.0 922.9L171.2 918.3L175.4 913.5L179.6 908.8L183.8 904.0L188.0 899.1L192.2 894.4L196.4 889.6L200.6 885.0L204.8 880.4L209.0 875.9L213.2 871.5L217.4 867.2L221.6 863.1L225.7 859.1L229.9 855.2L234.1 851.4L238.3 847.8L242.5 844.3L246.7 840.9L250.9 837.7L255.1 834.6L259.3 831.7L263.5 828.8L267.7 826.1L271.9 823.6L276.1 821.1L280.3 818.8L284.5 816.6L288.7 814.5L292.9 812.6L297.1 810.8L301.3 809.0L305.5 807.4L309.7 806.0L313.9 804.6L318.1 803.3L322.3 802.2L326.5 801.1L330.7 800.2L334.9 799.3L339.1 798.6L343.3 797.9L347.5 797.4L351.6 796.9L355.8 796.5L360.0 796.3L364.2 796.1L368.4 796.0L372.6 796.0L376.8 796.0L381.0 796.2L385.2 796.4L389.4 796.7L393.6 797.1L397.8 797.6L402.0 798.1L406.2 798.7L410.4 799.4L414.6 800.2L418.8 801.0L423.0 801.9L427.2 802.8L431.4 803.8L435.6 804.8L439.8 805.9L444.0 807.0L448.2 808.2L452.4 809.4L456.6 810.6L460.8 811.8L465.0 813.1L469.2 814.4L473.4 815.7L477.5 817.0L481.7 818.3L485.9 819.7L490.1 821.0L494.3 822.3L498.5 823.7L502.7 825.0L506.9 826.4L511.1 827.7L515.3 829.0L519.5 830.4L523.7 831.7L527.9 833.0L532.1 834.3L536.3 835.6L540.5 836.9L544.7 838.1L548.9 839.4L553.1 840.6L557.3 841.8L561.5 843.0L565.7 844.2L569.9 845.3L574.1 846.5L578.3 847.6L582.5 848.7" stroke="#ff0000" stroke-linecap="square"/>
</g>
<g clip-path="url(#clip3)">
<path d="M191.97 978.82 V971.16 M185.07 978.82 H198.87 M185.07 971.16 H198.87" stroke="#0000ff" stroke-width="2.00" fill="none"/>
<circle cx="191.97" cy="974.99" r="6.10" fill="#0000ff"/>
<path d="M582.47 965.80 V928.86 M575.57 965.80 H589.37 M575.57 928.86 H589.37" stroke="#0000ff" stroke-width="2.00" fill="none"/>
<circle cx="582.47" cy="947.43" r="6.10" fill="#0000ff"/>
<path d="M191.97 956.04 V913.36 M185.07 956.04 H198.87 M185.07 913.36 H198.87" stroke="#ff0000" stroke-width="2.00" fill="none"/>
<circle cx="191.97" cy="934.41" r="6.10" fill="#ff0000"/>
<path d="M582.47 792.01 V732.49 M575.57 792.01 H589.37 M575.57 732.49 H589.37" stroke="#ff0000" stroke-width="2.00" fill="none"/>
<circle cx="582.47" cy="762.34" r="6.10" fill="#ff0000"/>
</g>
<rect x="74.10" y="692.10" width="519.25" height="478.50" fill="none" stroke="#7d7d7d" stroke-width="1.90"/>
<path d="M80.40 1170.60 v6.80 M191.97 1170.60 v6.80 M303.54 1170.60 v6.80 M415.11 1170.60 v6.80 M526.68 1170.60 v6.80 M74.10 1170.60 h-6.80 M74.10 1074.90 h-6.80 M74.10 979.20 h-6.80 M74.10 883.50 h-6.80 M74.10 787.80 h-6.80 M74.10 692.10 h-6.80" stroke="#000" stroke-width="2.40" fill="none"/>
<text transform="translate(80.40 1200.20) scale(1 1.035)" font-size="22.0" text-anchor="middle">0</text>
<text transform="translate(191.97 1200.20) scale(1 1.035)" font-size="22.0" text-anchor="middle">10</text>
<text transform="translate(303.54 1200.20) scale(1 1.035)" font-size="22.0" text-anchor="middle">20</text>
<text transform="translate(415.11 1200.20) scale(1 1.035)" font-size="22.0" text-anchor="middle">30</text>
<text transform="translate(526.68 1200.20) scale(1 1.035)" font-size="22.0" text-anchor="middle">40</text>
<text transform="translate(61.10 1178.80) scale(1 1.035)" font-size="22.0" text-anchor="end">0.0</text>
<text transform="translate(61.10 1083.10) scale(1 1.035)" font-size="22.0" text-anchor="end">0.5</text>
<text transform="translate(61.10 987.40) scale(1 1.035)" font-size="22.0" text-anchor="end">1.0</text>
<text transform="translate(61.10 891.70) scale(1 1.035)" font-size="22.0" text-anchor="end">1.5</text>
<text transform="translate(61.10 796.00) scale(1 1.035)" font-size="22.0" text-anchor="end">2.0</text>
<text transform="translate(61.10 700.30) scale(1 1.035)" font-size="22.0" text-anchor="end">2.5</text>
<text transform="translate(333.73 685.50) scale(1 1.035)" font-size="25.0" text-anchor="middle">S6K</text>
<text transform="translate(333.12 1228.30) scale(1 1.035)" font-size="25.0" text-anchor="middle">Time, min</text>
<text transform="translate(19.90 931.35) rotate(-90) scale(1 1.035)" font-size="25.0" text-anchor="middle">Normalized pS6K</text>
<rect x="85.30" y="703.10" width="213.90" height="136.70" rx="4.5" ry="4.5" fill="#ffffff" fill-opacity="0.8" stroke="#cccccc" stroke-opacity="0.8" stroke-width="1.4"/>
<path d="M93.90 720.70 H140.70" stroke="#0000ff" stroke-width="5.00" stroke-dasharray="19.5 7.0" fill="none"/>
<text transform="translate(158.70 729.60) scale(1 1.035)" font-size="22.2">TrkA, no inh</text>
<path d="M93.90 752.93 H140.70" stroke="#ff0000" stroke-width="5.00" stroke-dasharray="19.5 7.0" fill="none"/>
<text transform="translate(158.70 761.83) scale(1 1.035)" font-size="22.2">TrkB, no inh</text>
<path d="M95.20 785.16 H139.40" stroke="#0000ff" stroke-width="5.00" stroke-linecap="square" fill="none"/>
<text transform="translate(158.70 794.06) scale(1 1.035)" font-size="22.2">TrkA</text>
<path d="M95.20 817.39 H139.40" stroke="#ff0000" stroke-width="5.00" stroke-linecap="square" fill="none"/>
<text transform="translate(158.70 826.29) scale(1 1.035)" font-size="22.2">TrkB</text>
</g>
<g id="panel-A5">
<clipPath id="clip4"><rect x="697.05" y="692.10" width="518.00" height="478.50"/></clipPath>
<g clip-path="url(#clip4)" fill="none" stroke-width="5.00" stroke-linejoin="round">
<path d="M701.7 1010.9L702.6 1008.3L703.5 1005.8L704.4 1003.3L705.3 1000.9L706.2 998.5L707.1 996.2L708.0 994.0L708.9 991.9L709.8 989.9L710.6 988.0L711.5 986.1L712.4 984.4L713.3 982.7L714.2 981.1L715.1 979.6L716.0 978.2L716.9 976.9L717.8 975.6L718.7 974.5L719.6 973.4L720.5 972.3L721.4 971.3L722.3 970.4L723.2 969.6L724.1 968.8L725.0 968.0L725.9 967.3L726.8 966.7L727.6 966.1L728.5 965.6L729.4 965.1L730.3 964.7L731.2 964.2L732.1 963.9L733.0 963.5L733.9 963.2L734.8 963.0L735.7 962.7L736.6 962.5L737.5 962.3L738.4 962.2L739.3 962.0L740.2 961.9L741.1 961.8L742.0 961.8L742.9 961.7L743.8 961.6L744.7 961.6L745.5 961.6L746.4 961.6L750.6 961.7L754.9 962.1L759.1 962.5L763.3 963.1L767.5 963.8L771.7 964.5L775.9 965.3L780.1 966.0L784.3 966.8L788.5 967.6L792.7 968.3L796.9 969.1L801.1 969.8L805.3 970.5L809.5 971.3L813.8 972.0L818.0 972.7L822.2 973.3L826.4 974.0L830.6 974.7L834.8 975.3L839.0 975.9L843.2 976.5L847.4 977.1L851.6 977.7L855.8 978.3L860.0 978.8L864.2 979.4L868.4 979.9L872.7 980.4L876.9 980.9L881.1 981.4L885.3 981.9L889.5 982.4L893.7 982.8L897.9 983.3L902.1 983.7L906.3 984.2L910.5 984.6L914.7 985.0L918.9 985.4L923.1 985.8L927.3 986.1L931.6 986.5L935.8 986.9L940.0 987.2L944.2 987.6L948.4 987.9L952.6 988.2L956.8 988.6L961.0 988.9L965.2 989.2L969.4 989.5L973.6 989.8L977.8 990.0L982.0 990.3L986.3 990.6L990.5 990.8L994.7 991.1L998.9 991.4L1003.1 991.6L1007.3 991.8L1011.5 992.1L1015.7 992.3L1019.9 992.5L1024.1 992.7L1028.3 992.9L1032.5 993.1L1036.7 993.3L1040.9 993.5L1045.2 993.7L1049.4 993.9L1053.6 994.1L1057.8 994.3L1062.0 994.4L1066.2 994.6L1070.4 994.8L1074.6 994.9L1078.8 995.1L1083.0 995.2L1087.2 995.4L1091.4 995.5L1095.6 995.6L1099.8 995.8L1104.1 995.9L1108.3 996.0L1112.5 996.2L1116.7 996.3L1120.9 996.4L1125.1 996.5L1129.3 996.6L1133.5 996.7L1137.7 996.8L1141.9 996.9L1146.1 997.0L1150.3 997.1L1154.5 997.2L1158.7 997.3L1163.0 997.4L1167.2 997.5L1171.4 997.5L1175.6 997.6L1179.8 997.7L1184.0 997.7L1188.2 997.8L1192.4 997.9L1196.6 997.9L1200.8 998.0L1205.0 998.1" stroke="#0000ff" stroke-dasharray="18.5 8.0"/>
<path d="M701.7 1010.9L702.6 1010.8L703.5 1010.5L704.4 1010.0L705.3 1009.4L706.2 1008.6L707.1 1007.7L708.0 1006.8L708.9 1005.8L709.8 1004.7L710.6 1003.6L711.5 1002.5L712.4 1001.3L713.3 1000.1L714.2 998.8L715.1 997.6L716.0 996.3L716.9 995.1L717.8 993.8L718.7 992.5L719.6 991.3L720.5 990.0L721.4 988.7L722.3 987.5L723.2 986.2L724.1 985.0L725.0 983.8L725.9 982.5L726.8 981.3L727.6 980.1L728.5 978.9L729.4 977.7L730.3 976.6L731.2 975.4L732.1 974.3L733.0 973.1L733.9 972.0L734.8 970.9L735.7 969.8L736.6 968.7L737.5 967.6L738.4 966.6L739.3 965.5L740.2 964.5L741.1 963.5L742.0 962.4L742.9 961.4L743.8 960.5L744.7 959.5L745.5 958.5L746.4 957.6L750.6 953.2L754.9 949.2L759.1 945.3L763.3 941.7L767.5 938.4L771.7 935.3L775.9 932.4L780.1 929.7L784.3 927.3L788.5 925.1L792.7 923.0L796.9 921.2L801.1 919.5L805.3 918.0L809.5 916.7L813.8 915.5L818.0 914.4L822.2 913.5L826.4 912.8L830.6 912.1L834.8 911.6L839.0 911.2L843.2 910.9L847.4 910.6L851.6 910.5L855.8 910.5L860.0 910.5L864.2 910.7L868.4 910.9L872.7 911.1L876.9 911.5L881.1 911.9L885.3 912.3L889.5 912.8L893.7 913.4L897.9 914.0L902.1 914.6L906.3 915.3L910.5 916.1L914.7 916.8L918.9 917.7L923.1 918.5L927.3 919.4L931.6 920.3L935.8 921.3L940.0 922.2L944.2 923.2L948.4 924.2L952.6 925.2L956.8 926.2L961.0 927.2L965.2 928.3L969.4 929.3L973.6 930.3L977.8 931.3L982.0 932.4L986.3 933.4L990.5 934.4L994.7 935.4L998.9 936.4L1003.1 937.3L1007.3 938.3L1011.5 939.3L1015.7 940.2L1019.9 941.1L1024.1 942.0L1028.3 942.9L1032.5 943.8L1036.7 944.7L1040.9 945.5L1045.2 946.4L1049.4 947.2L1053.6 948.0L1057.8 948.8L1062.0 949.6L1066.2 950.3L1070.4 951.1L1074.6 951.8L1078.8 952.5L1083.0 953.2L1087.2 953.9L1091.4 954.6L1095.6 955.2L1099.8 955.8L1104.1 956.4L1108.3 957.0L1112.5 957.6L1116.7 958.2L1120.9 958.7L1125.1 959.3L1129.3 959.8L1133.5 960.3L1137.7 960.7L1141.9 961.2L1146.1 961.7L1150.3 962.1L1154.5 962.5L1158.7 962.9L1163.0 963.3L1167.2 963.7L1171.4 964.0L1175.6 964.3L1179.8 964.7L1184.0 965.0L1188.2 965.3L1192.4 965.6L1196.6 965.8L1200.8 966.1L1205.0 966.3" stroke="#ff0000" stroke-dasharray="18.5 8.0"/>
<path d="M701.7 1011.1L702.6 1010.0L703.5 1008.7L704.4 1007.2L705.3 1005.7L706.2 1004.1L707.1 1002.4L708.0 1000.7L708.9 999.1L709.8 997.4L710.6 995.8L711.5 994.3L712.4 992.8L713.3 991.3L714.2 989.9L715.1 988.6L716.0 987.3L716.9 986.1L717.8 984.9L718.7 983.8L719.6 982.8L720.5 981.8L721.4 980.9L722.3 980.0L723.2 979.2L724.1 978.4L725.0 977.7L725.9 977.1L726.8 976.4L727.6 975.9L728.5 975.3L729.4 974.9L730.3 974.4L731.2 974.0L732.1 973.7L733.0 973.3L733.9 973.1L734.8 972.8L735.7 972.6L736.6 972.4L737.5 972.2L738.4 972.0L739.3 971.9L740.2 971.8L741.1 971.7L742.0 971.6L742.9 971.5L743.8 971.5L744.7 971.5L745.5 971.5L746.4 971.4L750.6 971.6L754.9 971.9L759.1 972.3L763.3 972.9L767.5 973.5L771.7 974.2L775.9 974.9L780.1 975.6L784.3 976.3L788.5 977.0L792.7 977.7L796.9 978.4L801.1 979.1L805.3 979.8L809.5 980.4L813.8 981.0L818.0 981.7L822.2 982.3L826.4 982.9L830.6 983.5L834.8 984.0L839.0 984.6L843.2 985.1L847.4 985.7L851.6 986.2L855.8 986.7L860.0 987.2L864.2 987.7L868.4 988.1L872.7 988.6L876.9 989.1L881.1 989.5L885.3 989.9L889.5 990.3L893.7 990.8L897.9 991.2L902.1 991.5L906.3 991.9L910.5 992.3L914.7 992.7L918.9 993.0L923.1 993.4L927.3 993.7L931.6 994.0L935.8 994.4L940.0 994.7L944.2 995.0L948.4 995.3L952.6 995.6L956.8 995.9L961.0 996.2L965.2 996.4L969.4 996.7L973.6 997.0L977.8 997.2L982.0 997.5L986.3 997.7L990.5 997.9L994.7 998.2L998.9 998.4L1003.1 998.6L1007.3 998.9L1011.5 999.1L1015.7 999.3L1019.9 999.5L1024.1 999.7L1028.3 999.9L1032.5 1000.1L1036.7 1000.2L1040.9 1000.4L1045.2 1000.6L1049.4 1000.8L1053.6 1000.9L1057.8 1001.1L1062.0 1001.3L1066.2 1001.4L1070.4 1001.6L1074.6 1001.7L1078.8 1001.9L1083.0 1002.0L1087.2 1002.1L1091.4 1002.3L1095.6 1002.4L1099.8 1002.5L1104.1 1002.7L1108.3 1002.8L1112.5 1002.9L1116.7 1003.0L1120.9 1003.1L1125.1 1003.2L1129.3 1003.3L1133.5 1003.4L1137.7 1003.5L1141.9 1003.6L1146.1 1003.7L1150.3 1003.8L1154.5 1003.9L1158.7 1004.0L1163.0 1004.1L1167.2 1004.2L1171.4 1004.3L1175.6 1004.3L1179.8 1004.4L1184.0 1004.5L1188.2 1004.6L1192.4 1004.6L1196.6 1004.7L1200.8 1004.8L1205.0 1004.8" stroke="#0000ff" stroke-linecap="square"/>
<path d="M701.7 1011.1L702.6 1011.6L703.5 1011.8L704.4 1011.7L705.3 1011.4L706.2 1010.9L707.1 1010.3L708.0 1009.5L708.9 1008.7L709.8 1007.7L710.6 1006.7L711.5 1005.6L712.4 1004.4L713.3 1003.2L714.2 1002.0L715.1 1000.8L716.0 999.5L716.9 998.2L717.8 996.9L718.7 995.7L719.6 994.4L720.5 993.1L721.4 991.8L722.3 990.5L723.2 989.2L724.1 988.0L725.0 986.7L725.9 985.4L726.8 984.2L727.6 983.0L728.5 981.8L729.4 980.6L730.3 979.4L731.2 978.2L732.1 977.1L733.0 975.9L733.9 974.8L734.8 973.7L735.7 972.6L736.6 971.6L737.5 970.5L738.4 969.5L739.3 968.4L740.2 967.4L741.1 966.4L742.0 965.5L742.9 964.5L743.8 963.6L744.7 962.6L745.5 961.7L746.4 960.8L750.6 956.8L754.9 953.1L759.1 949.7L763.3 946.5L767.5 943.7L771.7 941.0L775.9 938.6L780.1 936.5L784.3 934.5L788.5 932.7L792.7 931.1L796.9 929.6L801.1 928.3L805.3 927.1L809.5 926.1L813.8 925.2L818.0 924.5L822.2 923.8L826.4 923.2L830.6 922.8L834.8 922.4L839.0 922.2L843.2 922.0L847.4 921.9L851.6 921.8L855.8 921.9L860.0 921.9L864.2 922.1L868.4 922.3L872.7 922.5L876.9 922.8L881.1 923.2L885.3 923.6L889.5 924.0L893.7 924.4L897.9 924.9L902.1 925.5L906.3 926.0L910.5 926.6L914.7 927.2L918.9 927.8L923.1 928.5L927.3 929.2L931.6 929.9L935.8 930.6L940.0 931.3L944.2 932.1L948.4 932.8L952.6 933.6L956.8 934.4L961.0 935.2L965.2 936.0L969.4 936.8L973.6 937.6L977.8 938.4L982.0 939.2L986.3 940.0L990.5 940.8L994.7 941.6L998.9 942.4L1003.1 943.2L1007.3 944.0L1011.5 944.7L1015.7 945.5L1019.9 946.3L1024.1 947.1L1028.3 947.8L1032.5 948.6L1036.7 949.4L1040.9 950.1L1045.2 950.8L1049.4 951.6L1053.6 952.3L1057.8 953.0L1062.0 953.7L1066.2 954.4L1070.4 955.0L1074.6 955.7L1078.8 956.3L1083.0 957.0L1087.2 957.6L1091.4 958.2L1095.6 958.8L1099.8 959.4L1104.1 960.0L1108.3 960.6L1112.5 961.2L1116.7 961.7L1120.9 962.2L1125.1 962.8L1129.3 963.3L1133.5 963.8L1137.7 964.3L1141.9 964.8L1146.1 965.2L1150.3 965.7L1154.5 966.1L1158.7 966.6L1163.0 967.0L1167.2 967.4L1171.4 967.8L1175.6 968.2L1179.8 968.5L1184.0 968.9L1188.2 969.2L1192.4 969.6L1196.6 969.9L1200.8 970.2L1205.0 970.5" stroke="#ff0000" stroke-linecap="square"/>
</g>
<g clip-path="url(#clip4)">
<path d="M813.55 1003.92 V989.89 M806.65 1003.92 H820.45 M806.65 989.89 H820.45" stroke="#0000ff" stroke-width="2.00" fill="none"/>
<circle cx="813.55" cy="996.74" r="6.10" fill="#0000ff"/>
<path d="M1205.03 1005.52 V965.32 M1198.12 1005.52 H1211.93 M1198.12 965.32 H1211.93" stroke="#0000ff" stroke-width="2.00" fill="none"/>
<circle cx="1205.03" cy="985.26" r="6.10" fill="#0000ff"/>
<path d="M813.55 943.31 V900.09 M806.65 943.31 H820.45 M806.65 900.09 H820.45" stroke="#ff0000" stroke-width="2.00" fill="none"/>
<circle cx="813.55" cy="922.74" r="6.10" fill="#ff0000"/>
<path d="M1205.03 915.40 V889.24 M1198.12 915.40 H1211.93 M1198.12 889.24 H1211.93" stroke="#ff0000" stroke-width="2.00" fill="none"/>
<circle cx="1205.03" cy="902.96" r="6.10" fill="#ff0000"/>
</g>
<rect x="697.05" y="692.10" width="518.00" height="478.50" fill="none" stroke="#7d7d7d" stroke-width="1.90"/>
<path d="M701.70 1170.60 v6.80 M813.55 1170.60 v6.80 M925.40 1170.60 v6.80 M1037.25 1170.60 v6.80 M1149.10 1170.60 v6.80 M697.05 1170.60 h-6.80 M697.05 1090.85 h-6.80 M697.05 1011.10 h-6.80 M697.05 931.35 h-6.80 M697.05 851.60 h-6.80 M697.05 771.85 h-6.80 M697.05 692.10 h-6.80" stroke="#000" stroke-width="2.40" fill="none"/>
<text transform="translate(701.70 1200.20) scale(1 1.035)" font-size="22.0" text-anchor="middle">0</text>
<text transform="translate(813.55 1200.20) scale(1 1.035)" font-size="22.0" text-anchor="middle">10</text>
<text transform="translate(925.40 1200.20) scale(1 1.035)" font-size="22.0" text-anchor="middle">20</text>
<text transform="translate(1037.25 1200.20) scale(1 1.035)" font-size="22.0" text-anchor="middle">30</text>
<text transform="translate(1149.10 1200.20) scale(1 1.035)" font-size="22.0" text-anchor="middle">40</text>
<text transform="translate(684.05 1178.80) scale(1 1.035)" font-size="22.0" text-anchor="end">0.0</text>
<text transform="translate(684.05 1099.05) scale(1 1.035)" font-size="22.0" text-anchor="end">0.5</text>
<text transform="translate(684.05 1019.30) scale(1 1.035)" font-size="22.0" text-anchor="end">1.0</text>
<text transform="translate(684.05 939.55) scale(1 1.035)" font-size="22.0" text-anchor="end">1.5</text>
<text transform="translate(684.05 859.80) scale(1 1.035)" font-size="22.0" text-anchor="end">2.0</text>
<text transform="translate(684.05 780.05) scale(1 1.035)" font-size="22.0" text-anchor="end">2.5</text>
<text transform="translate(684.05 700.30) scale(1 1.035)" font-size="22.0" text-anchor="end">3.0</text>
<text transform="translate(956.05 685.50) scale(1 1.035)" font-size="25.0" text-anchor="middle">RSK</text>
<text transform="translate(955.45 1228.30) scale(1 1.035)" font-size="25.0" text-anchor="middle">Time, min</text>
<text transform="translate(641.65 931.35) rotate(-90) scale(1 1.035)" font-size="25.0" text-anchor="middle">Normalized pRSK</text>
<rect x="708.25" y="703.10" width="213.90" height="136.70" rx="4.5" ry="4.5" fill="#ffffff" fill-opacity="0.8" stroke="#cccccc" stroke-opacity="0.8" stroke-width="1.4"/>
<path d="M716.85 720.70 H763.65" stroke="#0000ff" stroke-width="5.00" stroke-dasharray="19.5 7.0" fill="none"/>
<text transform="translate(781.65 729.60) scale(1 1.035)" font-size="22.2">TrkA, no inh</text>
<path d="M716.85 752.93 H763.65" stroke="#ff0000" stroke-width="5.00" stroke-dasharray="19.5 7.0" fill="none"/>
<text transform="translate(781.65 761.83) scale(1 1.035)" font-size="22.2">TrkB, no inh</text>
<path d="M718.15 785.16 H762.35" stroke="#0000ff" stroke-width="5.00" stroke-linecap="square" fill="none"/>
<text transform="translate(781.65 794.06) scale(1 1.035)" font-size="22.2">TrkA</text>
<path d="M718.15 817.39 H762.35" stroke="#ff0000" stroke-width="5.00" stroke-linecap="square" fill="none"/>
<text transform="translate(781.65 826.29) scale(1 1.035)" font-size="22.2">TrkB</text>
</g>
<g id="panel-A6">
<clipPath id="clip5"><rect x="1318.85" y="692.10" width="518.15" height="478.50"/></clipPath>
<g clip-path="url(#clip5)" fill="none" stroke-width="5.00" stroke-linejoin="round">
<path d="M1323.8 1130.7L1324.7 1130.7L1325.6 1130.7L1326.5 1130.7L1327.4 1130.7L1328.3 1130.7L1329.2 1130.7L1330.1 1130.7L1330.9 1130.7L1331.8 1130.7L1332.7 1130.7L1333.6 1130.7L1334.5 1130.7L1335.4 1130.7L1336.3 1130.7L1337.2 1130.7L1338.1 1130.7L1339.0 1130.7L1339.9 1130.7L1340.8 1130.7L1341.7 1130.7L1342.6 1130.7L1343.5 1130.7L1344.3 1130.7L1345.2 1130.7L1346.1 1130.7L1347.0 1130.7L1347.9 1130.7L1348.8 1130.7L1349.7 1130.7L1350.6 1130.7L1351.5 1130.7L1352.4 1130.7L1353.3 1130.7L1354.2 1130.7L1355.1 1130.7L1356.0 1130.7L1356.9 1130.7L1357.7 1130.7L1358.6 1130.7L1359.5 1130.7L1360.4 1130.7L1361.3 1130.7L1362.2 1130.7L1363.1 1130.7L1364.0 1130.7L1364.9 1130.7L1365.8 1130.7L1366.7 1130.7L1367.6 1130.7L1368.5 1130.7L1372.7 1130.7L1376.9 1130.7L1381.1 1130.7L1385.3 1130.7L1389.5 1130.7L1393.7 1130.7L1397.9 1130.7L1402.1 1130.7L1406.3 1130.7L1410.5 1130.7L1414.7 1130.7L1418.9 1130.7L1423.1 1130.7L1427.3 1130.7L1431.5 1130.7L1435.7 1130.7L1439.9 1130.7L1444.1 1130.7L1448.3 1130.7L1452.5 1130.7L1456.7 1130.7L1460.9 1130.7L1465.1 1130.7L1469.3 1130.7L1473.5 1130.7L1477.7 1130.7L1481.9 1130.7L1486.1 1130.7L1490.3 1130.7L1494.5 1130.7L1498.7 1130.7L1502.9 1130.7L1507.1 1130.7L1511.3 1130.7L1515.5 1130.7L1519.7 1130.7L1523.9 1130.7L1528.1 1130.7L1532.3 1130.7L1536.5 1130.7L1540.7 1130.7L1544.9 1130.7L1549.1 1130.7L1553.3 1130.7L1557.5 1130.7L1561.7 1130.7L1565.9 1130.7L1570.1 1130.7L1574.3 1130.7L1578.5 1130.7L1582.7 1130.7L1586.9 1130.7L1591.1 1130.7L1595.3 1130.7L1599.5 1130.7L1603.7 1130.7L1607.9 1130.7L1612.1 1130.7L1616.3 1130.7L1620.5 1130.7L1624.7 1130.7L1628.9 1130.7L1633.1 1130.7L1637.3 1130.7L1641.5 1130.7L1645.7 1130.7L1649.9 1130.7L1654.1 1130.7L1658.3 1130.7L1662.5 1130.7L1666.7 1130.7L1670.9 1130.7L1675.1 1130.7L1679.3 1130.7L1683.5 1130.7L1687.7 1130.7L1691.9 1130.7L1696.1 1130.7L1700.3 1130.7L1704.5 1130.7L1708.7 1130.7L1712.9 1130.7L1717.1 1130.7L1721.3 1130.7L1725.5 1130.7L1729.7 1130.7L1733.9 1130.7L1738.1 1130.7L1742.3 1130.7L1746.5 1130.7L1750.7 1130.7L1754.9 1130.7L1759.1 1130.7L1763.3 1130.7L1767.5 1130.7L1771.7 1130.7L1775.9 1130.7L1780.1 1130.7L1784.3 1130.7L1788.5 1130.7L1792.7 1130.7L1796.9 1130.7L1801.1 1130.7L1805.3 1130.7L1809.5 1130.7L1813.7 1130.7L1817.9 1130.7L1822.1 1130.7L1826.3 1130.7" stroke="#0000ff" stroke-dasharray="18.5 8.0"/>
<path d="M1323.8 1130.7L1324.7 1126.1L1325.6 1121.4L1326.5 1116.6L1327.4 1111.9L1328.3 1107.2L1329.2 1102.5L1330.1 1097.9L1330.9 1093.3L1331.8 1088.9L1332.7 1084.5L1333.6 1080.2L1334.5 1076.0L1335.4 1071.9L1336.3 1068.0L1337.2 1064.1L1338.1 1060.3L1339.0 1056.6L1339.9 1053.0L1340.8 1049.5L1341.7 1046.1L1342.6 1042.8L1343.5 1039.6L1344.3 1036.5L1345.2 1033.4L1346.1 1030.4L1347.0 1027.5L1347.9 1024.7L1348.8 1021.9L1349.7 1019.1L1350.6 1016.4L1351.5 1013.8L1352.4 1011.2L1353.3 1008.6L1354.2 1006.1L1355.1 1003.6L1356.0 1001.2L1356.9 998.8L1357.7 996.4L1358.6 994.0L1359.5 991.7L1360.4 989.4L1361.3 987.1L1362.2 984.8L1363.1 982.6L1364.0 980.4L1364.9 978.2L1365.8 976.0L1366.7 973.9L1367.6 971.7L1368.5 969.6L1372.7 959.8L1376.9 950.4L1381.1 941.3L1385.3 932.6L1389.5 924.2L1393.7 916.2L1397.9 908.6L1402.1 901.2L1406.3 894.2L1410.5 887.6L1414.7 881.4L1418.9 875.6L1423.1 870.2L1427.3 865.2L1431.5 860.7L1435.7 856.7L1439.9 853.0L1444.1 849.8L1448.3 847.0L1452.5 844.6L1456.7 842.5L1460.9 840.7L1465.1 839.2L1469.3 837.9L1473.5 836.9L1477.7 836.2L1481.9 835.6L1486.1 835.3L1490.3 835.2L1494.5 835.2L1498.7 835.4L1502.9 835.7L1507.1 836.2L1511.3 836.8L1515.5 837.6L1519.7 838.4L1523.9 839.4L1528.1 840.4L1532.3 841.4L1536.5 842.5L1540.7 843.8L1544.9 845.1L1549.1 846.4L1553.3 847.9L1557.5 849.4L1561.7 851.0L1565.9 852.7L1570.1 854.4L1574.3 856.2L1578.5 858.0L1582.7 859.9L1586.9 861.8L1591.1 863.8L1595.3 865.9L1599.5 868.1L1603.7 870.4L1607.9 872.7L1612.1 875.0L1616.3 877.3L1620.5 879.6L1624.7 881.9L1628.9 884.3L1633.1 886.6L1637.3 889.0L1641.5 891.3L1645.7 893.7L1649.9 896.0L1654.1 898.3L1658.3 900.6L1662.5 902.9L1666.7 905.2L1670.9 907.5L1675.1 909.7L1679.3 911.9L1683.5 914.1L1687.7 916.3L1691.9 918.4L1696.1 920.5L1700.3 922.6L1704.5 924.7L1708.7 926.7L1712.9 928.7L1717.1 930.7L1721.3 932.6L1725.5 934.6L1729.7 936.5L1733.9 938.5L1738.1 940.4L1742.3 942.2L1746.5 944.1L1750.7 945.9L1754.9 947.7L1759.1 949.4L1763.3 951.1L1767.5 952.8L1771.7 954.4L1775.9 956.0L1780.1 957.5L1784.3 959.1L1788.5 960.6L1792.7 962.0L1796.9 963.5L1801.1 964.9L1805.3 966.3L1809.5 967.6L1813.7 968.9L1817.9 970.2L1822.1 971.4L1826.3 972.6" stroke="#ff0000" stroke-dasharray="18.5 8.0"/>
<path d="M1323.8 1130.7L1324.7 1130.7L1325.6 1130.8L1326.5 1130.8L1327.4 1130.8L1328.3 1130.8L1329.2 1130.8L1330.1 1130.8L1330.9 1130.8L1331.8 1130.8L1332.7 1130.8L1333.6 1130.8L1334.5 1130.8L1335.4 1130.8L1336.3 1130.8L1337.2 1130.8L1338.1 1130.8L1339.0 1130.8L1339.9 1130.8L1340.8 1130.8L1341.7 1130.8L1342.6 1130.8L1343.5 1130.8L1344.3 1130.8L1345.2 1130.8L1346.1 1130.8L1347.0 1130.8L1347.9 1130.8L1348.8 1130.8L1349.7 1130.7L1350.6 1130.7L1351.5 1130.7L1352.4 1130.7L1353.3 1130.7L1354.2 1130.7L1355.1 1130.7L1356.0 1130.7L1356.9 1130.7L1357.7 1130.7L1358.6 1130.7L1359.5 1130.7L1360.4 1130.7L1361.3 1130.7L1362.2 1130.7L1363.1 1130.7L1364.0 1130.7L1364.9 1130.7L1365.8 1130.7L1366.7 1130.7L1367.6 1130.6L1368.5 1130.6L1372.7 1130.6L1376.9 1130.6L1381.1 1130.6L1385.3 1130.6L1389.5 1130.5L1393.7 1130.5L1397.9 1130.5L1402.1 1130.5L1406.3 1130.5L1410.5 1130.4L1414.7 1130.4L1418.9 1130.4L1423.1 1130.4L1427.3 1130.4L1431.5 1130.4L1435.7 1130.3L1439.9 1130.3L1444.1 1130.3L1448.3 1130.3L1452.5 1130.3L1456.7 1130.3L1460.9 1130.3L1465.1 1130.2L1469.3 1130.2L1473.5 1130.2L1477.7 1130.2L1481.9 1130.2L1486.1 1130.2L1490.3 1130.2L1494.5 1130.2L1498.7 1130.2L1502.9 1130.2L1507.1 1130.2L1511.3 1130.1L1515.5 1130.1L1519.7 1130.1L1523.9 1130.1L1528.1 1130.1L1532.3 1130.1L1536.5 1130.1L1540.7 1130.1L1544.9 1130.1L1549.1 1130.1L1553.3 1130.1L1557.5 1130.1L1561.7 1130.1L1565.9 1130.1L1570.1 1130.1L1574.3 1130.0L1578.5 1130.0L1582.7 1130.0L1586.9 1130.0L1591.1 1130.0L1595.3 1130.0L1599.5 1130.0L1603.7 1130.0L1607.9 1130.0L1612.1 1130.0L1616.3 1130.0L1620.5 1130.0L1624.7 1130.0L1628.9 1130.0L1633.1 1130.0L1637.3 1130.0L1641.5 1130.0L1645.7 1130.0L1649.9 1130.0L1654.1 1130.0L1658.3 1130.0L1662.5 1130.0L1666.7 1130.0L1670.9 1130.0L1675.1 1130.0L1679.3 1130.0L1683.5 1130.0L1687.7 1130.0L1691.9 1130.0L1696.1 1130.0L1700.3 1130.0L1704.5 1130.0L1708.7 1129.9L1712.9 1129.9L1717.1 1129.9L1721.3 1129.9L1725.5 1129.9L1729.7 1129.9L1733.9 1129.9L1738.1 1129.9L1742.3 1129.9L1746.5 1129.9L1750.7 1129.9L1754.9 1129.9L1759.1 1129.9L1763.3 1129.9L1767.5 1129.9L1771.7 1129.9L1775.9 1129.9L1780.1 1129.9L1784.3 1129.9L1788.5 1129.9L1792.7 1129.9L1796.9 1129.9L1801.1 1129.9L1805.3 1129.9L1809.5 1129.9L1813.7 1129.9L1817.9 1129.9L1822.1 1129.9L1826.3 1129.9" stroke="#0000ff" stroke-linecap="square"/>
<path d="M1323.8 1130.7L1324.7 1128.1L1325.6 1124.9L1326.5 1121.2L1327.4 1117.3L1328.3 1113.2L1329.2 1108.9L1330.1 1104.6L1330.9 1100.2L1331.8 1095.8L1332.7 1091.5L1333.6 1087.3L1334.5 1083.1L1335.4 1079.1L1336.3 1075.2L1337.2 1071.4L1338.1 1067.7L1339.0 1064.2L1339.9 1060.7L1340.8 1057.4L1341.7 1054.1L1342.6 1051.0L1343.5 1047.9L1344.3 1044.8L1345.2 1041.9L1346.1 1038.9L1347.0 1036.1L1347.9 1033.2L1348.8 1030.5L1349.7 1027.7L1350.6 1025.0L1351.5 1022.3L1352.4 1019.7L1353.3 1017.1L1354.2 1014.5L1355.1 1011.9L1356.0 1009.3L1356.9 1006.8L1357.7 1004.3L1358.6 1001.8L1359.5 999.3L1360.4 996.8L1361.3 994.4L1362.2 991.9L1363.1 989.5L1364.0 987.1L1364.9 984.6L1365.8 982.2L1366.7 979.9L1367.6 977.5L1368.5 975.1L1372.7 964.4L1376.9 954.3L1381.1 944.9L1385.3 936.3L1389.5 928.1L1393.7 920.4L1397.9 913.1L1402.1 906.0L1406.3 899.1L1410.5 892.5L1414.7 886.2L1418.9 880.3L1423.1 874.8L1427.3 869.7L1431.5 865.2L1435.7 861.1L1439.9 857.5L1444.1 854.4L1448.3 851.7L1452.5 849.3L1456.7 847.3L1460.9 845.6L1465.1 844.3L1469.3 843.1L1473.5 842.3L1477.7 841.6L1481.9 841.2L1486.1 841.0L1490.3 841.0L1494.5 841.1L1498.7 841.4L1502.9 841.8L1507.1 842.4L1511.3 843.1L1515.5 843.9L1519.7 844.8L1523.9 845.9L1528.1 846.9L1532.3 847.9L1536.5 849.1L1540.7 850.3L1544.9 851.6L1549.1 853.0L1553.3 854.4L1557.5 855.9L1561.7 857.5L1565.9 859.1L1570.1 860.7L1574.3 862.4L1578.5 864.2L1582.7 866.0L1586.9 867.8L1591.1 869.7L1595.3 871.7L1599.5 873.8L1603.7 875.9L1607.9 878.0L1612.1 880.2L1616.3 882.3L1620.5 884.5L1624.7 886.7L1628.9 888.9L1633.1 891.0L1637.3 893.2L1641.5 895.4L1645.7 897.5L1649.9 899.7L1654.1 901.8L1658.3 903.9L1662.5 906.0L1666.7 908.1L1670.9 910.2L1675.1 912.2L1679.3 914.2L1683.5 916.2L1687.7 918.2L1691.9 920.1L1696.1 922.1L1700.3 923.9L1704.5 925.8L1708.7 927.6L1712.9 929.4L1717.1 931.2L1721.3 933.0L1725.5 934.7L1729.7 936.5L1733.9 938.2L1738.1 940.0L1742.3 941.7L1746.5 943.4L1750.7 945.1L1754.9 946.8L1759.1 948.4L1763.3 950.1L1767.5 951.7L1771.7 953.4L1775.9 955.0L1780.1 956.6L1784.3 958.2L1788.5 959.8L1792.7 961.3L1796.9 962.9L1801.1 964.5L1805.3 966.1L1809.5 967.7L1813.7 969.3L1817.9 970.9L1822.1 972.5L1826.3 974.0" stroke="#ff0000" stroke-linecap="square"/>
</g>
<g clip-path="url(#clip5)">
<path d="M1435.47 1133.52 V1128.73 M1428.57 1133.52 H1442.37 M1428.57 1128.73 H1442.37" stroke="#0000ff" stroke-width="2.00" fill="none"/>
<circle cx="1435.47" cy="1131.12" r="6.10" fill="#0000ff"/>
<path d="M1826.32 1131.12 V1120.16 M1819.41 1131.12 H1833.22 M1819.41 1120.16 H1833.22" stroke="#0000ff" stroke-width="2.00" fill="none"/>
<circle cx="1826.32" cy="1125.74" r="6.10" fill="#0000ff"/>
<path d="M1435.47 946.10 V857.98 M1428.57 946.10 H1442.37 M1428.57 857.98 H1442.37" stroke="#ff0000" stroke-width="2.00" fill="none"/>
<circle cx="1435.47" cy="901.84" r="6.10" fill="#ff0000"/>
<path d="M1826.32 927.76 V913.01 M1819.41 927.76 H1833.22 M1819.41 913.01 H1833.22" stroke="#ff0000" stroke-width="2.00" fill="none"/>
<circle cx="1826.32" cy="920.18" r="6.10" fill="#ff0000"/>
</g>
<rect x="1318.85" y="692.10" width="518.15" height="478.50" fill="none" stroke="#7d7d7d" stroke-width="1.90"/>
<path d="M1323.80 1170.60 v6.80 M1435.47 1170.60 v6.80 M1547.14 1170.60 v6.80 M1658.81 1170.60 v6.80 M1770.48 1170.60 v6.80 M1318.85 1170.60 h-6.80 M1318.85 1090.85 h-6.80 M1318.85 1011.10 h-6.80 M1318.85 931.35 h-6.80 M1318.85 851.60 h-6.80 M1318.85 771.85 h-6.80 M1318.85 692.10 h-6.80" stroke="#000" stroke-width="2.40" fill="none"/>
<text transform="translate(1323.80 1200.20) scale(1 1.035)" font-size="22.0" text-anchor="middle">0</text>
<text transform="translate(1435.47 1200.20) scale(1 1.035)" font-size="22.0" text-anchor="middle">10</text>
<text transform="translate(1547.14 1200.20) scale(1 1.035)" font-size="22.0" text-anchor="middle">20</text>
<text transform="translate(1658.81 1200.20) scale(1 1.035)" font-size="22.0" text-anchor="middle">30</text>
<text transform="translate(1770.48 1200.20) scale(1 1.035)" font-size="22.0" text-anchor="middle">40</text>
<text transform="translate(1305.85 1178.80) scale(1 1.035)" font-size="22.0" text-anchor="end">0</text>
<text transform="translate(1305.85 1099.05) scale(1 1.035)" font-size="22.0" text-anchor="end">2</text>
<text transform="translate(1305.85 1019.30) scale(1 1.035)" font-size="22.0" text-anchor="end">4</text>
<text transform="translate(1305.85 939.55) scale(1 1.035)" font-size="22.0" text-anchor="end">6</text>
<text transform="translate(1305.85 859.80) scale(1 1.035)" font-size="22.0" text-anchor="end">8</text>
<text transform="translate(1305.85 780.05) scale(1 1.035)" font-size="22.0" text-anchor="end">10</text>
<text transform="translate(1305.85 700.30) scale(1 1.035)" font-size="22.0" text-anchor="end">12</text>
<text transform="translate(1577.92 685.50) scale(1 1.035)" font-size="25.0" text-anchor="middle">ERBB</text>
<text transform="translate(1577.33 1228.30) scale(1 1.035)" font-size="25.0" text-anchor="middle">Time, min</text>
<text transform="translate(1270.05 931.35) rotate(-90) scale(1 1.035)" font-size="25.0" text-anchor="middle">Normalized pERBB</text>
<rect x="1330.05" y="703.10" width="213.90" height="136.70" rx="4.5" ry="4.5" fill="#ffffff" fill-opacity="0.8" stroke="#cccccc" stroke-opacity="0.8" stroke-width="1.4"/>
<path d="M1338.65 720.70 H1385.45" stroke="#0000ff" stroke-width="5.00" stroke-dasharray="19.5 7.0" fill="none"/>
<text transform="translate(1403.45 729.60) scale(1 1.035)" font-size="22.2">TrkA, no inh</text>
<path d="M1338.65 752.93 H1385.45" stroke="#ff0000" stroke-width="5.00" stroke-dasharray="19.5 7.0" fill="none"/>
<text transform="translate(1403.45 761.83) scale(1 1.035)" font-size="22.2">TrkB, no inh</text>
<path d="M1339.95 785.16 H1384.15" stroke="#0000ff" stroke-width="5.00" stroke-linecap="square" fill="none"/>
<text transform="translate(1403.45 794.06) scale(1 1.035)" font-size="22.2">TrkA</text>
<path d="M1339.95 817.39 H1384.15" stroke="#ff0000" stroke-width="5.00" stroke-linecap="square" fill="none"/>
<text transform="translate(1403.45 826.29) scale(1 1.035)" font-size="22.2">TrkB</text>
</g>
<g id="panel-B1">
<clipPath id="clip6"><rect x="75.50" y="1404.30" width="519.70" height="478.10"/></clipPath>
<g clip-path="url(#clip6)" fill="none" stroke-width="5.00" stroke-linejoin="round">
<path d="M82.3 1838.9L83.2 1839.0L84.1 1839.0L85.0 1838.9L85.9 1838.7L86.8 1838.5L87.7 1838.3L88.5 1838.0L89.4 1837.7L90.3 1837.4L91.2 1837.1L92.1 1836.7L93.0 1836.4L93.9 1836.0L94.8 1835.7L95.7 1835.3L96.6 1834.9L97.5 1834.6L98.4 1834.2L99.3 1833.9L100.2 1833.5L101.0 1833.1L101.9 1832.8L102.8 1832.4L103.7 1832.1L104.6 1831.8L105.5 1831.4L106.4 1831.1L107.3 1830.8L108.2 1830.5L109.1 1830.1L110.0 1829.8L110.9 1829.5L111.8 1829.3L112.7 1829.0L113.5 1828.7L114.4 1828.4L115.3 1828.2L116.2 1827.9L117.1 1827.6L118.0 1827.4L118.9 1827.1L119.8 1826.9L120.7 1826.7L121.6 1826.5L122.5 1826.2L123.4 1826.0L124.3 1825.8L125.2 1825.6L126.0 1825.4L126.9 1825.2L131.1 1824.4L135.3 1823.7L139.5 1823.1L143.7 1822.5L147.9 1822.1L152.1 1821.7L156.3 1821.4L160.5 1821.1L164.7 1820.9L168.9 1820.8L173.1 1820.6L177.3 1820.5L181.5 1820.4L185.7 1820.4L189.9 1820.4L194.1 1820.4L198.3 1820.4L202.5 1820.4L206.7 1820.5L210.9 1820.5L215.1 1820.6L219.3 1820.7L223.5 1820.8L227.7 1820.9L231.9 1821.0L236.1 1821.1L240.3 1821.2L244.5 1821.4L248.7 1821.5L252.9 1821.6L257.1 1821.8L261.3 1821.9L265.5 1822.1L269.7 1822.2L273.9 1822.4L278.1 1822.6L282.3 1822.7L286.5 1822.9L290.7 1823.1L294.9 1823.2L299.0 1823.4L303.2 1823.5L307.4 1823.7L311.6 1823.9L315.8 1824.0L320.0 1824.2L324.2 1824.4L328.4 1824.5L332.6 1824.7L336.8 1824.8L341.0 1825.0L345.2 1825.2L349.4 1825.3L353.6 1825.5L357.8 1825.6L362.0 1825.8L366.2 1825.9L370.4 1826.1L374.6 1826.2L378.8 1826.4L383.0 1826.5L387.2 1826.7L391.4 1826.8L395.6 1827.0L399.8 1827.1L404.0 1827.2L408.2 1827.4L412.4 1827.5L416.6 1827.6L420.8 1827.8L425.0 1827.9L429.2 1828.0L433.4 1828.2L437.6 1828.3L441.8 1828.4L446.0 1828.5L450.2 1828.7L454.4 1828.8L458.6 1828.9L462.8 1829.0L467.0 1829.1L471.2 1829.2L475.4 1829.4L479.6 1829.5L483.8 1829.6L488.0 1829.7L492.1 1829.8L496.3 1829.9L500.5 1830.0L504.7 1830.1L508.9 1830.2L513.1 1830.3L517.3 1830.4L521.5 1830.5L525.7 1830.6L529.9 1830.7L534.1 1830.8L538.3 1830.9L542.5 1831.0L546.7 1831.1L550.9 1831.1L555.1 1831.2L559.3 1831.3L563.5 1831.4L567.7 1831.5L571.9 1831.6L576.1 1831.6L580.3 1831.7L584.5 1831.8" stroke="#0000ff" stroke-dasharray="18.5 8.0"/>
<path d="M82.3 1838.9L83.2 1838.5L84.1 1838.1L85.1 1837.9L86.0 1837.7L86.9 1837.5L87.8 1837.4L88.8 1837.2L89.7 1837.0L90.6 1836.8L91.5 1836.6L92.5 1836.2L93.4 1835.9L94.3 1835.4L95.2 1834.9L96.2 1834.4L97.1 1833.8L98.0 1833.1L98.9 1832.4L99.9 1831.6L100.8 1830.7L101.7 1829.8L102.6 1828.8L103.6 1827.7L104.5 1826.6L105.4 1825.5L106.3 1824.3L107.2 1823.0L108.2 1821.7L109.1 1820.3L110.0 1818.9L110.9 1817.4L111.8 1815.9L112.7 1814.4L113.6 1812.8L114.6 1811.1L115.5 1809.4L116.4 1807.7L117.3 1805.9L118.2 1804.1L119.1 1802.3L120.0 1800.4L121.0 1798.5L121.9 1796.5L122.8 1794.6L123.7 1792.6L124.6 1790.5L125.5 1788.5L126.4 1786.4L127.4 1784.3L128.3 1782.2L132.6 1772.1L136.9 1761.8L141.2 1751.3L145.5 1740.8L149.9 1730.3L154.2 1719.8L158.6 1709.4L162.9 1699.2L167.3 1689.0L171.6 1679.0L175.9 1669.1L180.2 1659.4L184.4 1649.8L188.7 1640.3L192.9 1631.1L197.2 1622.0L201.4 1613.3L205.7 1604.7L209.9 1596.5L214.1 1588.6L218.2 1580.9L222.4 1573.6L226.6 1566.6L230.8 1560.0L234.9 1553.6L239.1 1547.6L243.2 1541.8L247.3 1536.4L251.4 1531.3L255.4 1526.5L259.5 1522.0L263.6 1517.8L267.7 1513.9L271.7 1510.2L275.8 1506.9L279.7 1503.8L283.6 1501.0L287.6 1498.4L291.5 1496.1L295.5 1494.1L299.4 1492.2L303.4 1490.6L307.4 1489.2L311.6 1488.1L315.8 1487.1L320.0 1486.3L324.2 1485.8L328.4 1485.4L332.6 1485.2L336.8 1485.2L341.0 1485.3L345.2 1485.6L349.4 1486.1L353.6 1486.7L357.8 1487.4L362.0 1488.3L366.2 1489.3L370.4 1490.4L374.6 1491.6L378.8 1492.8L383.0 1494.2L387.2 1495.6L391.4 1497.1L395.6 1498.6L399.8 1500.2L404.0 1501.8L408.2 1503.5L412.4 1505.2L416.6 1507.0L420.8 1508.9L425.0 1510.9L429.2 1512.9L433.4 1515.0L437.6 1517.1L441.8 1519.3L446.0 1521.5L450.2 1523.8L454.4 1526.1L458.6 1528.5L462.8 1530.9L467.0 1533.4L471.2 1535.9L475.4 1538.4L479.6 1540.9L483.8 1543.5L488.0 1546.0L492.1 1548.7L496.3 1551.3L500.5 1553.9L504.7 1556.6L508.9 1559.3L513.1 1561.9L517.3 1564.6L521.5 1567.3L525.7 1570.0L529.9 1572.7L534.1 1575.4L538.3 1578.0L542.5 1580.6L546.7 1583.2L550.9 1585.8L555.1 1588.3L559.3 1590.7L563.5 1593.2L567.7 1595.5L571.9 1597.8L576.1 1600.0L580.3 1602.2L584.5 1604.3" stroke="#ff0000" stroke-dasharray="18.5 8.0"/>
<path d="M82.3 1838.9L83.2 1839.6L84.1 1840.0L85.0 1840.2L85.9 1840.2L86.8 1840.1L87.7 1839.8L88.5 1839.5L89.4 1839.0L90.3 1838.5L91.2 1838.0L92.1 1837.4L93.0 1836.7L93.9 1836.1L94.8 1835.4L95.7 1834.7L96.6 1834.0L97.5 1833.2L98.4 1832.5L99.3 1831.8L100.2 1831.1L101.0 1830.3L101.9 1829.6L102.8 1828.9L103.7 1828.2L104.6 1827.5L105.5 1826.8L106.4 1826.1L107.3 1825.5L108.2 1824.8L109.1 1824.2L110.0 1823.5L110.9 1822.9L111.8 1822.3L112.7 1821.7L113.5 1821.1L114.4 1820.6L115.3 1820.0L116.2 1819.5L117.1 1819.0L118.0 1818.5L118.9 1818.0L119.8 1817.5L120.7 1817.0L121.6 1816.6L122.5 1816.1L123.4 1815.7L124.3 1815.3L125.2 1814.8L126.0 1814.4L126.9 1814.1L131.1 1812.4L135.3 1810.9L139.5 1809.6L143.7 1808.6L147.9 1807.6L152.1 1806.8L156.3 1806.1L160.5 1805.5L164.7 1805.1L168.9 1804.7L173.1 1804.3L177.3 1804.1L181.5 1803.9L185.7 1803.8L189.9 1803.7L194.1 1803.6L198.3 1803.7L202.5 1803.7L206.7 1803.8L210.9 1803.9L215.1 1804.0L219.3 1804.2L223.5 1804.4L227.7 1804.6L231.9 1804.9L236.1 1805.1L240.3 1805.4L244.5 1805.7L248.7 1806.0L252.9 1806.3L257.1 1806.6L261.3 1806.9L265.5 1807.2L269.7 1807.5L273.9 1807.8L278.1 1808.2L282.3 1808.5L286.5 1808.8L290.7 1809.1L294.9 1809.4L299.0 1809.8L303.2 1810.1L307.4 1810.4L311.6 1810.7L315.8 1811.0L320.0 1811.3L324.2 1811.6L328.4 1811.9L332.6 1812.2L336.8 1812.5L341.0 1812.8L345.2 1813.1L349.4 1813.4L353.6 1813.7L357.8 1813.9L362.0 1814.2L366.2 1814.5L370.4 1814.7L374.6 1815.0L378.8 1815.3L383.0 1815.5L387.2 1815.7L391.4 1816.0L395.6 1816.2L399.8 1816.5L404.0 1816.7L408.2 1816.9L412.4 1817.1L416.6 1817.3L420.8 1817.5L425.0 1817.7L429.2 1817.9L433.4 1818.1L437.6 1818.3L441.8 1818.5L446.0 1818.7L450.2 1818.9L454.4 1819.1L458.6 1819.2L462.8 1819.4L467.0 1819.6L471.2 1819.7L475.4 1819.9L479.6 1820.0L483.8 1820.2L488.0 1820.3L492.1 1820.5L496.3 1820.6L500.5 1820.7L504.7 1820.8L508.9 1821.0L513.1 1821.1L517.3 1821.2L521.5 1821.3L525.7 1821.4L529.9 1821.5L534.1 1821.6L538.3 1821.7L542.5 1821.8L546.7 1821.9L550.9 1822.0L555.1 1822.1L559.3 1822.2L563.5 1822.3L567.7 1822.3L571.9 1822.4L576.1 1822.5L580.3 1822.6L584.5 1822.6" stroke="#0000ff" stroke-linecap="square"/>
<path d="M82.3 1838.9L83.2 1838.7L84.1 1838.6L85.0 1838.6L85.9 1838.6L86.8 1838.6L87.7 1838.5L88.5 1838.4L89.4 1838.3L90.3 1838.2L91.2 1838.0L92.1 1837.7L93.0 1837.4L93.9 1837.0L94.8 1836.5L95.7 1836.0L96.6 1835.4L97.5 1834.8L98.4 1834.1L99.3 1833.3L100.2 1832.5L101.0 1831.6L101.9 1830.6L102.8 1829.6L103.7 1828.6L104.6 1827.4L105.5 1826.3L106.4 1825.1L107.3 1823.8L108.2 1822.5L109.1 1821.1L110.0 1819.7L110.9 1818.3L111.8 1816.8L112.7 1815.4L113.5 1813.8L114.4 1812.3L115.3 1810.8L116.2 1809.2L117.1 1807.7L118.0 1806.1L118.9 1804.5L119.8 1802.9L120.7 1801.3L121.6 1799.7L122.5 1798.1L123.4 1796.5L124.3 1795.0L125.2 1793.4L126.0 1791.8L126.9 1790.2L131.1 1782.8L135.3 1775.6L139.5 1768.5L143.7 1761.5L147.9 1754.7L152.1 1747.9L156.3 1741.3L160.5 1734.7L164.7 1728.3L168.9 1721.9L173.1 1715.5L177.3 1709.2L181.5 1703.0L185.7 1696.8L189.9 1690.6L194.1 1684.5L198.3 1678.6L202.5 1672.7L206.7 1667.0L210.9 1661.4L215.1 1656.0L219.3 1650.7L223.5 1645.6L227.7 1640.7L231.9 1635.9L236.1 1631.4L240.3 1627.0L244.5 1622.8L248.7 1618.8L252.9 1615.0L257.1 1611.5L261.3 1608.1L265.5 1604.9L269.7 1601.9L273.9 1599.1L278.1 1596.4L282.3 1594.0L286.5 1591.8L290.7 1589.7L294.9 1587.8L299.0 1586.1L303.2 1584.5L307.4 1583.1L311.6 1581.8L315.8 1580.7L320.0 1579.7L324.2 1578.8L328.4 1578.1L332.6 1577.5L336.8 1577.0L341.0 1576.6L345.2 1576.4L349.4 1576.2L353.6 1576.2L357.8 1576.3L362.0 1576.4L366.2 1576.7L370.4 1577.0L374.6 1577.5L378.8 1578.0L383.0 1578.6L387.2 1579.3L391.4 1580.0L395.6 1580.8L399.8 1581.7L404.0 1582.6L408.2 1583.6L412.4 1584.7L416.6 1585.8L420.8 1587.0L425.0 1588.2L429.2 1589.4L433.4 1590.7L437.6 1592.0L441.8 1593.4L446.0 1594.8L450.2 1596.2L454.4 1597.7L458.6 1599.1L462.8 1600.6L467.0 1602.2L471.2 1603.7L475.4 1605.3L479.6 1606.9L483.8 1608.5L488.0 1610.1L492.1 1611.8L496.3 1613.4L500.5 1615.1L504.7 1616.7L508.9 1618.4L513.1 1620.1L517.3 1621.8L521.5 1623.5L525.7 1625.2L529.9 1626.9L534.1 1628.6L538.3 1630.3L542.5 1632.0L546.7 1633.7L550.9 1635.4L555.1 1637.1L559.3 1638.8L563.5 1640.5L567.7 1642.2L571.9 1643.9L576.1 1645.6L580.3 1647.3L584.5 1649.0" stroke="#ff0000" stroke-linecap="square"/>
</g>
<g clip-path="url(#clip6)">
<path d="M193.90 1818.94 V1802.43 M187.00 1818.94 H200.80 M187.00 1802.43 H200.80" stroke="#0000ff" stroke-width="2.00" fill="none"/>
<circle cx="193.90" cy="1809.82" r="6.10" fill="#0000ff"/>
<path d="M584.50 1815.03 V1791.13 M577.60 1815.03 H591.40 M577.60 1791.13 H591.40" stroke="#0000ff" stroke-width="2.00" fill="none"/>
<circle cx="584.50" cy="1802.43" r="6.10" fill="#0000ff"/>
<path d="M193.90 1646.39 V1566.42 M187.00 1646.39 H200.80 M187.00 1566.42 H200.80" stroke="#ff0000" stroke-width="2.00" fill="none"/>
<circle cx="193.90" cy="1606.41" r="6.10" fill="#ff0000"/>
<path d="M584.50 1645.09 V1574.24 M577.60 1645.09 H591.40 M577.60 1574.24 H591.40" stroke="#ff0000" stroke-width="2.00" fill="none"/>
<circle cx="584.50" cy="1609.45" r="6.10" fill="#ff0000"/>
</g>
<rect x="75.50" y="1404.30" width="519.70" height="478.10" fill="none" stroke="#7d7d7d" stroke-width="1.90"/>
<path d="M82.30 1882.40 v6.80 M193.90 1882.40 v6.80 M305.50 1882.40 v6.80 M417.10 1882.40 v6.80 M528.70 1882.40 v6.80 M75.50 1882.40 h-6.80 M75.50 1795.47 h-6.80 M75.50 1708.55 h-6.80 M75.50 1621.62 h-6.80 M75.50 1534.69 h-6.80 M75.50 1447.76 h-6.80" stroke="#000" stroke-width="1.90" fill="none"/>
<text transform="translate(82.30 1912.00) scale(1 1.035)" font-size="22.0" text-anchor="middle">0</text>
<text transform="translate(193.90 1912.00) scale(1 1.035)" font-size="22.0" text-anchor="middle">10</text>
<text transform="translate(305.50 1912.00) scale(1 1.035)" font-size="22.0" text-anchor="middle">20</text>
<text transform="translate(417.10 1912.00) scale(1 1.035)" font-size="22.0" text-anchor="middle">30</text>
<text transform="translate(528.70 1912.00) scale(1 1.035)" font-size="22.0" text-anchor="middle">40</text>
<text transform="translate(62.50 1890.60) scale(1 1.035)" font-size="22.0" text-anchor="end">0</text>
<text transform="translate(62.50 1803.67) scale(1 1.035)" font-size="22.0" text-anchor="end">2</text>
<text transform="translate(62.50 1716.75) scale(1 1.035)" font-size="22.0" text-anchor="end">4</text>
<text transform="translate(62.50 1629.82) scale(1 1.035)" font-size="22.0" text-anchor="end">6</text>
<text transform="translate(62.50 1542.89) scale(1 1.035)" font-size="22.0" text-anchor="end">8</text>
<text transform="translate(62.50 1455.96) scale(1 1.035)" font-size="22.0" text-anchor="end">10</text>
<text transform="translate(335.35 1397.70) scale(1 1.035)" font-size="25.0" text-anchor="middle">AKT</text>
<text transform="translate(334.75 1940.10) scale(1 1.035)" font-size="25.0" text-anchor="middle">Time, min</text>
<text transform="translate(26.90 1643.35) rotate(-90) scale(1 1.035)" font-size="25.0" text-anchor="middle">Normalized pAKT</text>
<rect x="86.70" y="1415.30" width="213.90" height="136.70" rx="4.5" ry="4.5" fill="#ffffff" fill-opacity="0.8" stroke="#cccccc" stroke-opacity="0.8" stroke-width="1.4"/>
<path d="M95.30 1432.90 H142.10" stroke="#0000ff" stroke-width="5.00" stroke-dasharray="19.5 7.0" fill="none"/>
<text transform="translate(160.10 1441.80) scale(1 1.035)" font-size="22.2">TrkA, no inh</text>
<path d="M95.30 1465.13 H142.10" stroke="#ff0000" stroke-width="5.00" stroke-dasharray="19.5 7.0" fill="none"/>
<text transform="translate(160.10 1474.03) scale(1 1.035)" font-size="22.2">TrkB, no inh</text>
<path d="M96.60 1497.36 H140.80" stroke="#0000ff" stroke-width="5.00" stroke-linecap="square" fill="none"/>
<text transform="translate(160.10 1506.26) scale(1 1.035)" font-size="22.2">TrkA</text>
<path d="M96.60 1529.59 H140.80" stroke="#ff0000" stroke-width="5.00" stroke-linecap="square" fill="none"/>
<text transform="translate(160.10 1538.49) scale(1 1.035)" font-size="22.2">TrkB</text>
</g>
<g id="panel-B2">
<clipPath id="clip7"><rect x="698.80" y="1404.30" width="518.50" height="478.10"/></clipPath>
<g clip-path="url(#clip7)" fill="none" stroke-width="5.00" stroke-linejoin="round">
<path d="M703.7 1850.7L704.6 1838.6L705.5 1828.1L706.4 1819.1L707.3 1811.2L708.2 1804.3L709.1 1798.3L710.0 1793.0L710.8 1788.4L711.7 1784.4L712.6 1780.9L713.5 1777.9L714.4 1775.2L715.3 1772.8L716.2 1770.8L717.1 1769.0L718.0 1767.4L718.9 1766.1L719.8 1764.9L720.7 1763.9L721.6 1763.1L722.5 1762.3L723.4 1761.7L724.2 1761.1L725.1 1760.7L726.0 1760.3L726.9 1760.0L727.8 1759.7L728.7 1759.5L729.6 1759.4L730.5 1759.3L731.4 1759.2L732.3 1759.1L733.2 1759.1L734.1 1759.1L735.0 1759.2L735.9 1759.2L736.7 1759.3L737.6 1759.4L738.5 1759.5L739.4 1759.6L740.3 1759.8L741.2 1759.9L742.1 1760.1L743.0 1760.2L743.9 1760.4L744.8 1760.6L745.7 1760.9L746.6 1761.1L747.5 1761.3L748.4 1761.5L752.6 1762.8L756.8 1764.1L761.0 1765.5L765.2 1766.9L769.4 1768.3L773.6 1769.7L777.8 1771.1L782.0 1772.5L786.2 1773.8L790.4 1775.1L794.6 1776.4L798.8 1777.6L803.0 1778.7L807.2 1779.9L811.4 1781.0L815.6 1782.1L819.8 1783.2L824.0 1784.3L828.2 1785.4L832.4 1786.4L836.6 1787.4L840.8 1788.4L845.0 1789.4L849.2 1790.3L853.4 1791.2L857.6 1792.1L861.8 1793.0L866.0 1793.8L870.2 1794.7L874.4 1795.5L878.6 1796.2L882.7 1797.0L886.9 1797.7L891.1 1798.4L895.3 1799.1L899.5 1799.8L903.7 1800.5L907.9 1801.1L912.1 1801.8L916.3 1802.4L920.5 1803.0L924.7 1803.6L928.9 1804.2L933.1 1804.8L937.3 1805.4L941.5 1805.9L945.7 1806.4L949.9 1807.0L954.1 1807.5L958.3 1808.0L962.5 1808.5L966.7 1809.0L970.9 1809.5L975.1 1809.9L979.3 1810.4L983.5 1810.8L987.7 1811.2L991.9 1811.7L996.1 1812.1L1000.3 1812.5L1004.5 1812.9L1008.7 1813.3L1012.9 1813.7L1017.1 1814.0L1021.3 1814.4L1025.5 1814.8L1029.7 1815.1L1033.9 1815.5L1038.1 1815.8L1042.3 1816.1L1046.5 1816.4L1050.7 1816.8L1054.9 1817.1L1059.1 1817.4L1063.3 1817.7L1067.5 1818.0L1071.7 1818.2L1075.9 1818.5L1080.1 1818.8L1084.3 1819.1L1088.5 1819.3L1092.7 1819.6L1096.9 1819.8L1101.1 1820.1L1105.3 1820.3L1109.5 1820.7L1113.7 1821.0L1117.9 1821.4L1122.1 1821.7L1126.3 1822.1L1130.5 1822.4L1134.7 1822.7L1138.9 1823.1L1143.1 1823.4L1147.3 1823.7L1151.5 1824.0L1155.7 1824.3L1159.9 1824.7L1164.1 1825.0L1168.3 1825.3L1172.5 1825.6L1176.7 1825.9L1180.9 1826.1L1185.1 1826.4L1189.3 1826.7L1193.5 1827.0L1197.7 1827.3L1201.9 1827.5L1206.1 1827.8" stroke="#0000ff" stroke-dasharray="18.5 8.0"/>
<path d="M703.7 1850.7L704.8 1846.9L705.9 1843.0L706.9 1839.0L708.0 1834.9L709.1 1830.8L710.2 1826.6L711.3 1822.5L712.3 1818.4L713.4 1814.3L714.5 1810.2L715.6 1806.1L716.7 1802.1L717.7 1798.2L718.8 1794.3L719.9 1790.4L721.0 1786.6L722.1 1782.9L723.1 1779.2L724.2 1775.5L725.2 1772.0L726.2 1768.4L727.2 1765.0L728.2 1761.6L729.2 1758.2L730.2 1754.9L731.2 1751.7L732.2 1748.5L733.2 1745.4L734.2 1742.3L735.2 1739.2L736.2 1736.3L737.2 1733.3L738.2 1730.5L739.2 1727.6L740.2 1724.8L741.2 1722.1L742.2 1719.4L743.1 1716.8L744.0 1714.2L744.9 1711.6L745.8 1709.1L746.7 1706.6L747.6 1704.2L748.5 1701.8L749.4 1699.4L750.3 1697.1L751.2 1694.8L752.1 1692.6L753.0 1690.4L753.9 1688.2L758.1 1678.4L762.3 1669.4L766.5 1661.0L770.7 1653.2L774.9 1646.0L779.1 1639.4L783.3 1633.3L787.5 1627.8L791.4 1622.9L795.3 1618.4L799.3 1614.4L803.2 1610.7L807.2 1607.5L811.1 1604.6L815.1 1602.0L819.1 1599.8L823.2 1597.7L827.3 1595.8L831.5 1594.2L835.6 1592.8L839.7 1591.8L843.9 1590.9L848.0 1590.3L852.1 1589.8L856.2 1589.7L860.3 1589.7L864.4 1589.9L868.5 1590.3L872.6 1590.9L876.7 1591.6L880.8 1592.4L884.9 1593.4L889.0 1594.5L893.1 1595.7L897.2 1597.1L901.3 1598.5L905.3 1600.1L909.4 1601.8L913.5 1603.5L917.6 1605.4L921.7 1607.3L925.8 1609.4L929.9 1611.4L934.1 1613.5L938.2 1615.6L942.3 1617.8L946.5 1620.0L950.6 1622.3L954.7 1624.6L958.9 1626.9L963.0 1629.3L967.2 1631.6L971.3 1634.0L975.4 1636.4L979.6 1638.8L983.7 1641.1L987.8 1643.5L992.0 1645.9L996.1 1648.3L1000.3 1650.8L1004.5 1653.3L1008.7 1655.8L1012.9 1658.2L1017.1 1660.6L1021.3 1663.0L1025.5 1665.4L1029.7 1667.7L1033.9 1670.0L1038.1 1672.3L1042.3 1674.6L1046.5 1676.8L1050.7 1679.0L1054.9 1681.1L1059.1 1683.2L1063.3 1685.4L1067.5 1687.5L1071.7 1689.7L1075.9 1691.8L1080.1 1693.8L1084.3 1695.8L1088.5 1697.8L1092.7 1699.7L1096.9 1701.6L1101.1 1703.4L1105.3 1705.2L1109.5 1707.0L1113.7 1708.7L1117.9 1710.4L1122.1 1712.0L1126.3 1713.6L1130.5 1715.2L1134.7 1716.7L1138.9 1718.2L1143.1 1719.6L1147.3 1721.0L1151.5 1722.3L1155.7 1723.6L1159.9 1724.8L1164.1 1726.0L1168.3 1727.1L1172.5 1728.2L1176.7 1729.3L1180.9 1730.3L1185.1 1731.2L1189.3 1732.2L1193.5 1733.1L1197.7 1733.9L1201.9 1734.7L1206.1 1735.5" stroke="#ff0000" stroke-dasharray="18.5 8.0"/>
<path d="M703.7 1850.7L704.6 1843.4L705.5 1832.9L706.4 1820.4L707.3 1806.5L708.2 1792.0L709.1 1777.3L710.0 1762.8L710.8 1748.9L711.7 1735.8L712.6 1723.4L713.5 1712.0L714.4 1701.5L715.3 1692.1L716.2 1683.7L717.1 1676.4L718.0 1670.1L718.9 1664.7L719.8 1660.0L720.7 1656.1L721.6 1652.7L722.5 1649.9L723.4 1647.5L724.2 1645.4L725.1 1643.8L726.0 1642.4L726.9 1641.2L727.8 1640.3L728.7 1639.5L729.6 1638.8L730.5 1638.3L731.4 1637.9L732.3 1637.6L733.2 1637.3L734.1 1637.1L735.0 1637.0L735.9 1637.0L736.7 1637.0L737.6 1637.1L738.5 1637.3L739.4 1637.5L740.3 1637.7L741.2 1638.0L742.1 1638.3L743.0 1638.7L743.9 1639.1L744.8 1639.5L745.7 1639.9L746.6 1640.4L747.5 1640.9L748.4 1641.4L752.6 1644.1L756.8 1647.2L761.0 1650.4L765.2 1653.7L769.4 1657.1L773.6 1660.5L777.8 1663.9L782.0 1667.2L786.2 1669.9L790.4 1672.5L794.6 1675.0L798.8 1677.3L803.0 1679.6L807.2 1681.8L811.4 1683.8L815.6 1685.8L819.8 1688.2L824.0 1690.5L828.2 1692.7L832.4 1694.9L836.6 1697.0L840.8 1699.0L845.0 1700.9L849.2 1702.7L853.4 1704.6L857.6 1706.3L861.8 1708.0L866.0 1709.6L870.2 1711.2L874.4 1712.7L878.6 1714.1L882.7 1715.5L886.9 1716.8L891.1 1718.1L895.3 1719.4L899.5 1720.6L903.7 1721.8L907.9 1722.9L912.1 1724.1L916.3 1725.1L920.5 1726.2L924.7 1727.3L928.9 1728.3L933.1 1729.3L937.3 1730.3L941.5 1731.3L945.7 1732.2L949.9 1733.2L954.1 1734.1L958.3 1735.0L962.5 1736.0L966.7 1737.0L970.9 1737.9L975.1 1738.8L979.3 1739.8L983.5 1740.7L987.7 1741.5L991.9 1742.4L996.1 1743.3L1000.3 1744.1L1004.5 1745.0L1008.7 1745.9L1012.9 1746.7L1017.1 1747.5L1021.3 1748.3L1025.5 1749.1L1029.7 1749.9L1033.9 1750.6L1038.1 1751.4L1042.3 1752.1L1046.5 1752.8L1050.7 1753.5L1054.9 1754.1L1059.1 1754.8L1063.3 1755.5L1067.5 1756.1L1071.7 1756.8L1075.9 1757.4L1080.1 1758.0L1084.3 1758.6L1088.5 1759.2L1092.7 1759.8L1096.9 1760.4L1101.1 1761.0L1105.3 1761.6L1109.5 1762.1L1113.7 1762.7L1117.9 1763.2L1122.1 1763.7L1126.3 1764.2L1130.5 1764.8L1134.7 1765.3L1138.9 1765.8L1143.1 1766.4L1147.3 1767.0L1151.5 1767.6L1155.7 1768.2L1159.9 1768.8L1164.1 1769.4L1168.3 1769.9L1172.5 1770.5L1176.7 1771.0L1180.9 1771.4L1185.1 1771.8L1189.3 1772.3L1193.5 1772.7L1197.7 1773.1L1201.9 1773.5L1206.1 1774.0" stroke="#0000ff" stroke-linecap="square"/>
<path d="M703.7 1850.7L704.6 1847.8L705.5 1844.8L706.4 1841.7L707.3 1838.5L708.2 1835.3L709.1 1832.0L710.0 1828.8L710.8 1825.6L711.7 1822.3L712.6 1819.2L713.5 1816.0L714.4 1812.9L715.3 1809.9L716.2 1806.9L717.1 1803.9L718.0 1801.2L718.9 1798.5L719.8 1795.9L720.7 1793.4L721.6 1790.9L722.5 1788.5L723.4 1786.1L724.2 1783.8L725.1 1781.5L726.0 1779.3L726.9 1777.2L727.8 1775.1L728.7 1773.0L729.6 1771.0L730.5 1769.1L731.4 1766.8L732.3 1764.7L733.2 1762.6L734.1 1760.5L735.0 1758.5L735.9 1756.5L736.7 1754.6L737.6 1752.7L738.5 1750.8L739.4 1748.9L740.3 1747.1L741.2 1745.3L742.1 1743.5L743.0 1741.7L743.9 1740.0L744.8 1738.4L745.7 1736.8L746.6 1735.2L747.5 1733.6L748.4 1732.0L752.6 1724.5L756.8 1717.7L761.0 1711.1L765.2 1704.9L769.4 1699.3L773.6 1694.1L777.8 1689.3L782.0 1685.0L786.2 1681.0L790.4 1677.7L794.6 1674.8L798.8 1672.0L803.0 1669.4L807.2 1667.0L811.4 1664.9L815.6 1662.9L819.8 1661.2L824.0 1659.6L828.2 1658.2L832.4 1656.9L836.6 1655.8L840.8 1654.7L845.0 1653.7L849.2 1653.0L853.4 1652.5L857.6 1651.9L861.8 1651.5L866.0 1651.2L870.2 1651.0L874.4 1650.8L878.6 1650.8L882.7 1651.2L886.9 1651.7L891.1 1652.2L895.3 1652.9L899.5 1653.6L903.7 1654.4L907.9 1655.2L912.1 1656.2L916.3 1657.2L920.5 1658.3L924.7 1659.4L928.9 1660.6L933.1 1661.9L937.3 1663.2L941.5 1664.5L945.7 1665.9L949.9 1667.4L954.1 1668.7L958.3 1670.2L962.5 1671.6L966.7 1673.1L970.9 1674.5L975.1 1676.0L979.3 1677.5L983.5 1679.0L987.7 1680.5L991.9 1682.0L996.1 1683.6L1000.3 1685.2L1004.5 1686.7L1008.7 1688.3L1012.9 1689.9L1017.1 1691.4L1021.3 1693.0L1025.5 1694.5L1029.7 1696.0L1033.9 1697.5L1038.1 1699.0L1042.3 1700.5L1046.5 1701.9L1050.7 1703.3L1054.9 1704.7L1059.1 1706.1L1063.3 1707.5L1067.5 1709.0L1071.7 1710.5L1075.9 1711.9L1080.1 1713.4L1084.3 1714.9L1088.5 1716.3L1092.7 1717.7L1096.9 1719.0L1101.1 1720.4L1105.3 1721.7L1109.5 1723.0L1113.7 1724.3L1117.9 1725.5L1122.1 1726.7L1126.3 1727.9L1130.5 1729.1L1134.7 1730.2L1138.9 1731.4L1143.1 1732.6L1147.3 1733.8L1151.5 1734.9L1155.7 1736.1L1159.9 1737.2L1164.1 1738.2L1168.3 1739.3L1172.5 1740.3L1176.7 1741.3L1180.9 1742.3L1185.1 1743.3L1189.3 1744.2L1193.5 1745.1L1197.7 1746.0L1201.9 1746.8L1206.1 1747.7" stroke="#ff0000" stroke-linecap="square"/>
</g>
<g clip-path="url(#clip7)">
<path d="M815.35 1701.36 V1676.82 M808.45 1701.36 H822.25 M808.45 1676.82 H822.25" stroke="#0000ff" stroke-width="2.00" fill="none"/>
<circle cx="815.35" cy="1689.25" r="6.10" fill="#0000ff"/>
<path d="M1206.12 1706.14 V1685.10 M1199.22 1706.14 H1213.03 M1199.22 1685.10 H1213.03" stroke="#0000ff" stroke-width="2.00" fill="none"/>
<circle cx="1206.12" cy="1694.67" r="6.10" fill="#0000ff"/>
<path d="M815.35 1610.52 V1559.84 M808.45 1610.52 H822.25 M808.45 1559.84 H822.25" stroke="#ff0000" stroke-width="2.00" fill="none"/>
<circle cx="815.35" cy="1585.34" r="6.10" fill="#ff0000"/>
<path d="M1206.12 1589.17 V1538.81 M1199.22 1589.17 H1213.03 M1199.22 1538.81 H1213.03" stroke="#ff0000" stroke-width="2.00" fill="none"/>
<circle cx="1206.12" cy="1563.99" r="6.10" fill="#ff0000"/>
</g>
<rect x="698.80" y="1404.30" width="518.50" height="478.10" fill="none" stroke="#7d7d7d" stroke-width="1.90"/>
<path d="M703.70 1882.40 v6.80 M815.35 1882.40 v6.80 M927.00 1882.40 v6.80 M1038.65 1882.40 v6.80 M1150.30 1882.40 v6.80 M698.80 1882.40 h-6.80 M698.80 1818.65 h-6.80 M698.80 1754.91 h-6.80 M698.80 1691.16 h-6.80 M698.80 1627.41 h-6.80 M698.80 1563.67 h-6.80 M698.80 1499.92 h-6.80 M698.80 1436.17 h-6.80" stroke="#000" stroke-width="1.90" fill="none"/>
<text transform="translate(703.70 1912.00) scale(1 1.035)" font-size="22.0" text-anchor="middle">0</text>
<text transform="translate(815.35 1912.00) scale(1 1.035)" font-size="22.0" text-anchor="middle">10</text>
<text transform="translate(927.00 1912.00) scale(1 1.035)" font-size="22.0" text-anchor="middle">20</text>
<text transform="translate(1038.65 1912.00) scale(1 1.035)" font-size="22.0" text-anchor="middle">30</text>
<text transform="translate(1150.30 1912.00) scale(1 1.035)" font-size="22.0" text-anchor="middle">40</text>
<text transform="translate(685.80 1890.60) scale(1 1.035)" font-size="22.0" text-anchor="end">0</text>
<text transform="translate(685.80 1826.85) scale(1 1.035)" font-size="22.0" text-anchor="end">2</text>
<text transform="translate(685.80 1763.11) scale(1 1.035)" font-size="22.0" text-anchor="end">4</text>
<text transform="translate(685.80 1699.36) scale(1 1.035)" font-size="22.0" text-anchor="end">6</text>
<text transform="translate(685.80 1635.61) scale(1 1.035)" font-size="22.0" text-anchor="end">8</text>
<text transform="translate(685.80 1571.87) scale(1 1.035)" font-size="22.0" text-anchor="end">10</text>
<text transform="translate(685.80 1508.12) scale(1 1.035)" font-size="22.0" text-anchor="end">12</text>
<text transform="translate(685.80 1444.37) scale(1 1.035)" font-size="22.0" text-anchor="end">14</text>
<text transform="translate(958.05 1397.70) scale(1 1.035)" font-size="25.0" text-anchor="middle">ERK</text>
<text transform="translate(957.45 1940.10) scale(1 1.035)" font-size="25.0" text-anchor="middle">Time, min</text>
<text transform="translate(649.60 1643.35) rotate(-90) scale(1 1.035)" font-size="25.0" text-anchor="middle">Normalized ppERK</text>
<rect x="710.00" y="1415.30" width="213.90" height="136.70" rx="4.5" ry="4.5" fill="#ffffff" fill-opacity="0.8" stroke="#cccccc" stroke-opacity="0.8" stroke-width="1.4"/>
<path d="M718.60 1432.90 H765.40" stroke="#0000ff" stroke-width="5.00" stroke-dasharray="19.5 7.0" fill="none"/>
<text transform="translate(783.40 1441.80) scale(1 1.035)" font-size="22.2">TrkA, no inh</text>
<path d="M718.60 1465.13 H765.40" stroke="#ff0000" stroke-width="5.00" stroke-dasharray="19.5 7.0" fill="none"/>
<text transform="translate(783.40 1474.03) scale(1 1.035)" font-size="22.2">TrkB, no inh</text>
<path d="M719.90 1497.36 H764.10" stroke="#0000ff" stroke-width="5.00" stroke-linecap="square" fill="none"/>
<text transform="translate(783.40 1506.26) scale(1 1.035)" font-size="22.2">TrkA</text>
<path d="M719.90 1529.59 H764.10" stroke="#ff0000" stroke-width="5.00" stroke-linecap="square" fill="none"/>
<text transform="translate(783.40 1538.49) scale(1 1.035)" font-size="22.2">TrkB</text>
</g>
<g id="panel-B3">
<clipPath id="clip8"><rect x="1321.00" y="1404.30" width="518.00" height="478.10"/></clipPath>
<g clip-path="url(#clip8)" fill="none" stroke-width="5.00" stroke-linejoin="round">
<path d="M1325.2 1643.5L1326.1 1642.8L1327.0 1642.1L1327.9 1641.5L1328.8 1640.9L1329.7 1640.4L1330.6 1639.9L1331.5 1639.4L1332.4 1639.0L1333.2 1638.6L1334.1 1638.3L1335.0 1637.9L1335.9 1637.6L1336.8 1637.3L1337.7 1637.1L1338.6 1636.8L1339.5 1636.6L1340.4 1636.3L1341.3 1636.1L1342.2 1635.9L1343.1 1635.7L1344.0 1635.6L1344.9 1635.4L1345.8 1635.3L1346.7 1635.1L1347.5 1635.0L1348.4 1634.8L1349.3 1634.7L1350.2 1634.6L1351.1 1634.5L1352.0 1634.4L1352.9 1634.3L1353.8 1634.2L1354.7 1634.1L1355.6 1634.0L1356.5 1634.0L1357.4 1633.9L1358.3 1633.8L1359.2 1633.8L1360.1 1633.7L1361.0 1633.6L1361.9 1633.6L1362.7 1633.5L1363.6 1633.5L1364.5 1633.5L1365.4 1633.4L1366.3 1633.4L1367.2 1633.3L1368.1 1633.3L1369.0 1633.3L1369.9 1633.3L1374.1 1633.1L1378.3 1633.1L1382.5 1633.1L1386.7 1633.0L1390.9 1633.1L1395.1 1633.1L1399.3 1633.1L1403.5 1633.2L1407.7 1633.3L1411.9 1633.4L1416.1 1633.5L1420.3 1633.6L1424.5 1633.7L1428.7 1633.8L1433.0 1633.9L1437.2 1634.0L1441.4 1634.1L1445.6 1634.3L1449.8 1634.4L1454.0 1634.5L1458.2 1634.6L1462.4 1634.8L1466.6 1634.9L1470.8 1635.0L1475.0 1635.2L1479.2 1635.3L1483.4 1635.4L1487.6 1635.5L1491.8 1635.7L1496.0 1635.8L1500.2 1635.9L1504.4 1636.0L1508.6 1636.1L1512.8 1636.2L1517.0 1636.3L1521.2 1636.5L1525.4 1636.6L1529.6 1636.7L1533.8 1636.8L1538.0 1636.9L1542.2 1637.0L1546.4 1637.1L1550.6 1637.2L1554.9 1637.3L1559.1 1637.4L1563.3 1637.5L1567.5 1637.5L1571.7 1637.6L1575.9 1637.7L1580.1 1637.8L1584.3 1637.9L1588.5 1638.0L1592.7 1638.0L1596.9 1638.1L1601.1 1638.2L1605.3 1638.3L1609.5 1638.3L1613.7 1638.4L1617.9 1638.5L1622.1 1638.5L1626.3 1638.6L1630.5 1638.7L1634.7 1638.7L1638.9 1638.8L1643.1 1638.8L1647.3 1638.9L1651.5 1639.0L1655.7 1639.0L1659.9 1639.1L1664.1 1639.1L1668.3 1639.2L1672.5 1639.2L1676.8 1639.3L1681.0 1639.3L1685.2 1639.3L1689.4 1639.4L1693.6 1639.4L1697.8 1639.5L1702.0 1639.5L1706.2 1639.6L1710.4 1639.6L1714.6 1639.6L1718.8 1639.7L1723.0 1639.7L1727.2 1639.7L1731.4 1639.8L1735.6 1639.8L1739.8 1639.8L1744.0 1639.8L1748.2 1639.9L1752.4 1639.9L1756.6 1639.9L1760.8 1640.0L1765.0 1640.0L1769.2 1640.0L1773.4 1640.0L1777.6 1640.0L1781.8 1640.1L1786.0 1640.1L1790.2 1640.1L1794.4 1640.1L1798.7 1640.1L1802.9 1640.1L1807.1 1640.2L1811.3 1640.2L1815.5 1640.2L1819.7 1640.2L1823.9 1640.2L1828.1 1640.2" stroke="#0000ff" stroke-dasharray="18.5 8.0"/>
<path d="M1325.2 1643.3L1326.1 1644.1L1327.0 1644.7L1327.9 1645.0L1328.8 1645.2L1329.7 1645.3L1330.6 1645.2L1331.5 1645.0L1332.4 1644.7L1333.2 1644.3L1334.1 1643.9L1335.0 1643.3L1335.9 1642.8L1336.8 1642.1L1337.7 1641.4L1338.6 1640.7L1339.5 1639.9L1340.4 1639.1L1341.3 1638.3L1342.2 1637.4L1343.1 1636.5L1344.0 1635.6L1344.9 1634.7L1345.8 1633.8L1346.7 1632.8L1347.5 1631.8L1348.4 1630.8L1349.3 1629.8L1350.2 1628.8L1351.1 1627.8L1352.0 1626.8L1352.9 1625.7L1353.8 1624.7L1354.7 1623.7L1355.6 1622.6L1356.5 1621.6L1357.4 1620.5L1358.3 1619.4L1359.2 1618.4L1360.1 1617.3L1361.0 1616.3L1361.9 1615.2L1362.7 1614.2L1363.6 1613.2L1364.5 1612.1L1365.4 1611.1L1366.3 1610.1L1367.2 1609.1L1368.1 1608.1L1369.0 1607.1L1369.9 1606.1L1374.1 1601.5L1378.3 1597.2L1382.5 1593.1L1386.7 1589.2L1390.9 1585.6L1395.1 1582.2L1399.3 1579.0L1403.5 1576.0L1407.7 1573.2L1411.9 1570.6L1416.1 1568.1L1420.3 1565.9L1424.5 1563.8L1428.7 1561.9L1433.0 1560.2L1437.2 1558.5L1441.4 1557.1L1445.6 1555.7L1449.8 1554.5L1454.0 1553.4L1458.2 1552.4L1462.4 1551.6L1466.6 1550.8L1470.8 1550.1L1475.0 1549.6L1479.2 1549.1L1483.4 1548.7L1487.6 1548.4L1491.8 1548.2L1496.0 1548.0L1500.2 1547.9L1504.4 1547.9L1508.6 1548.0L1512.8 1548.1L1517.0 1548.3L1521.2 1548.5L1525.4 1548.8L1529.6 1549.2L1533.8 1549.6L1538.0 1550.1L1542.2 1550.6L1546.4 1551.1L1550.6 1551.7L1554.9 1552.3L1559.1 1553.0L1563.3 1553.6L1567.5 1554.4L1571.7 1555.1L1575.9 1555.8L1580.1 1556.6L1584.3 1557.4L1588.5 1558.2L1592.7 1559.0L1596.9 1559.9L1601.1 1560.7L1605.3 1561.6L1609.5 1562.4L1613.7 1563.3L1617.9 1564.2L1622.1 1565.0L1626.3 1565.9L1630.5 1566.8L1634.7 1567.7L1638.9 1568.6L1643.1 1569.4L1647.3 1570.3L1651.5 1571.2L1655.7 1572.0L1659.9 1572.9L1664.1 1573.8L1668.3 1574.6L1672.5 1575.4L1676.8 1576.3L1681.0 1577.1L1685.2 1577.9L1689.4 1578.7L1693.6 1579.5L1697.8 1580.3L1702.0 1581.1L1706.2 1581.8L1710.4 1582.6L1714.6 1583.3L1718.8 1584.1L1723.0 1584.8L1727.2 1585.5L1731.4 1586.2L1735.6 1586.9L1739.8 1587.5L1744.0 1588.2L1748.2 1588.9L1752.4 1589.5L1756.6 1590.1L1760.8 1590.7L1765.0 1591.3L1769.2 1591.9L1773.4 1592.5L1777.6 1593.0L1781.8 1593.6L1786.0 1594.1L1790.2 1594.7L1794.4 1595.2L1798.7 1595.7L1802.9 1596.1L1807.1 1596.6L1811.3 1597.1L1815.5 1597.5L1819.7 1598.0L1823.9 1598.4L1828.1 1598.8" stroke="#ff0000" stroke-dasharray="18.5 8.0"/>
<path d="M1325.2 1643.4L1326.1 1644.0L1327.0 1644.3L1327.9 1644.4L1328.8 1644.3L1329.7 1644.1L1330.6 1643.7L1331.5 1643.2L1332.4 1642.6L1333.2 1642.0L1334.1 1641.4L1335.0 1640.6L1335.9 1639.9L1336.8 1639.1L1337.7 1638.4L1338.6 1637.6L1339.5 1636.8L1340.4 1636.0L1341.3 1635.3L1342.2 1634.5L1343.1 1633.7L1344.0 1633.0L1344.9 1632.3L1345.8 1631.5L1346.7 1630.8L1347.5 1630.2L1348.4 1629.5L1349.3 1628.9L1350.2 1628.2L1351.1 1627.6L1352.0 1627.1L1352.9 1626.5L1353.8 1626.0L1354.7 1625.4L1355.6 1624.9L1356.5 1624.5L1357.4 1624.0L1358.3 1623.6L1359.2 1623.1L1360.1 1622.7L1361.0 1622.4L1361.9 1622.0L1362.7 1621.7L1363.6 1621.4L1364.5 1621.1L1365.4 1620.8L1366.3 1620.5L1367.2 1620.3L1368.1 1620.1L1369.0 1619.8L1369.9 1619.6L1374.1 1618.9L1378.3 1618.4L1382.5 1618.1L1386.7 1617.9L1390.9 1617.9L1395.1 1617.9L1399.3 1618.0L1403.5 1618.1L1407.7 1618.3L1411.9 1618.6L1416.1 1618.8L1420.3 1619.1L1424.5 1619.3L1428.7 1619.6L1433.0 1619.9L1437.2 1620.2L1441.4 1620.5L1445.6 1620.8L1449.8 1621.1L1454.0 1621.4L1458.2 1621.7L1462.4 1622.0L1466.6 1622.3L1470.8 1622.6L1475.0 1622.9L1479.2 1623.1L1483.4 1623.4L1487.6 1623.7L1491.8 1624.0L1496.0 1624.2L1500.2 1624.5L1504.4 1624.7L1508.6 1625.0L1512.8 1625.2L1517.0 1625.5L1521.2 1625.7L1525.4 1625.9L1529.6 1626.1L1533.8 1626.4L1538.0 1626.6L1542.2 1626.8L1546.4 1627.0L1550.6 1627.2L1554.9 1627.4L1559.1 1627.6L1563.3 1627.7L1567.5 1627.9L1571.7 1628.1L1575.9 1628.3L1580.1 1628.4L1584.3 1628.6L1588.5 1628.7L1592.7 1628.9L1596.9 1629.0L1601.1 1629.2L1605.3 1629.3L1609.5 1629.4L1613.7 1629.6L1617.9 1629.7L1622.1 1629.8L1626.3 1629.9L1630.5 1630.0L1634.7 1630.2L1638.9 1630.3L1643.1 1630.4L1647.3 1630.5L1651.5 1630.6L1655.7 1630.7L1659.9 1630.7L1664.1 1630.8L1668.3 1630.9L1672.5 1631.0L1676.8 1631.1L1681.0 1631.1L1685.2 1631.2L1689.4 1631.3L1693.6 1631.4L1697.8 1631.4L1702.0 1631.5L1706.2 1631.5L1710.4 1631.6L1714.6 1631.6L1718.8 1631.7L1723.0 1631.7L1727.2 1631.8L1731.4 1631.8L1735.6 1631.9L1739.8 1631.9L1744.0 1631.9L1748.2 1632.0L1752.4 1632.0L1756.6 1632.0L1760.8 1632.0L1765.0 1632.1L1769.2 1632.1L1773.4 1632.1L1777.6 1632.1L1781.8 1632.1L1786.0 1632.2L1790.2 1632.2L1794.4 1632.2L1798.7 1632.2L1802.9 1632.2L1807.1 1632.2L1811.3 1632.2L1815.5 1632.2L1819.7 1632.2L1823.9 1632.2L1828.1 1632.2" stroke="#0000ff" stroke-linecap="square"/>
<path d="M1325.2 1643.3L1326.1 1644.3L1327.0 1645.0L1327.9 1645.4L1328.8 1645.6L1329.7 1645.6L1330.6 1645.5L1331.5 1645.2L1332.4 1644.9L1333.2 1644.5L1334.1 1644.0L1335.0 1643.4L1335.9 1642.8L1336.8 1642.1L1337.7 1641.4L1338.6 1640.7L1339.5 1639.9L1340.4 1639.1L1341.3 1638.3L1342.2 1637.5L1343.1 1636.7L1344.0 1635.8L1344.9 1635.0L1345.8 1634.2L1346.7 1633.3L1347.5 1632.5L1348.4 1631.6L1349.3 1630.8L1350.2 1630.0L1351.1 1629.2L1352.0 1628.3L1352.9 1627.5L1353.8 1626.7L1354.7 1625.9L1355.6 1625.1L1356.5 1624.3L1357.4 1623.6L1358.3 1622.8L1359.2 1622.0L1360.1 1621.3L1361.0 1620.6L1361.9 1619.8L1362.7 1619.1L1363.6 1618.4L1364.5 1617.7L1365.4 1617.0L1366.3 1616.3L1367.2 1615.6L1368.1 1614.9L1369.0 1614.2L1369.9 1613.6L1374.1 1610.6L1378.3 1607.7L1382.5 1604.9L1386.7 1602.3L1390.9 1599.8L1395.1 1597.5L1399.3 1595.3L1403.5 1593.2L1407.7 1591.3L1411.9 1589.4L1416.1 1587.7L1420.3 1586.1L1424.5 1584.6L1428.7 1583.2L1433.0 1582.0L1437.2 1580.8L1441.4 1579.7L1445.6 1578.7L1449.8 1577.8L1454.0 1576.9L1458.2 1576.1L1462.4 1575.4L1466.6 1574.8L1470.8 1574.3L1475.0 1573.8L1479.2 1573.3L1483.4 1572.9L1487.6 1572.6L1491.8 1572.3L1496.0 1572.1L1500.2 1571.9L1504.4 1571.8L1508.6 1571.7L1512.8 1571.6L1517.0 1571.6L1521.2 1571.6L1525.4 1571.7L1529.6 1571.7L1533.8 1571.9L1538.0 1572.0L1542.2 1572.2L1546.4 1572.4L1550.6 1572.6L1554.9 1572.9L1559.1 1573.1L1563.3 1573.4L1567.5 1573.8L1571.7 1574.1L1575.9 1574.5L1580.1 1574.9L1584.3 1575.3L1588.5 1575.7L1592.7 1576.1L1596.9 1576.6L1601.1 1577.1L1605.3 1577.6L1609.5 1578.1L1613.7 1578.6L1617.9 1579.1L1622.1 1579.7L1626.3 1580.2L1630.5 1580.7L1634.7 1581.3L1638.9 1581.8L1643.1 1582.4L1647.3 1583.0L1651.5 1583.5L1655.7 1584.1L1659.9 1584.7L1664.1 1585.2L1668.3 1585.8L1672.5 1586.3L1676.8 1586.9L1681.0 1587.5L1685.2 1588.0L1689.4 1588.6L1693.6 1589.1L1697.8 1589.6L1702.0 1590.2L1706.2 1590.7L1710.4 1591.2L1714.6 1591.7L1718.8 1592.3L1723.0 1592.8L1727.2 1593.3L1731.4 1593.8L1735.6 1594.2L1739.8 1594.7L1744.0 1595.2L1748.2 1595.7L1752.4 1596.1L1756.6 1596.6L1760.8 1597.0L1765.0 1597.5L1769.2 1597.9L1773.4 1598.3L1777.6 1598.7L1781.8 1599.1L1786.0 1599.5L1790.2 1599.9L1794.4 1600.3L1798.7 1600.7L1802.9 1601.0L1807.1 1601.4L1811.3 1601.7L1815.5 1602.1L1819.7 1602.4L1823.9 1602.7L1828.1 1603.1" stroke="#ff0000" stroke-linecap="square"/>
</g>
<g clip-path="url(#clip8)">
<path d="M1436.95 1605.82 V1558.97 M1430.05 1605.82 H1443.85 M1430.05 1558.97 H1443.85" stroke="#0000ff" stroke-width="2.00" fill="none"/>
<circle cx="1436.95" cy="1581.91" r="6.10" fill="#0000ff"/>
<path d="M1828.08 1555.38 V1527.89 M1821.17 1555.38 H1834.98 M1821.17 1527.89 H1834.98" stroke="#0000ff" stroke-width="2.00" fill="none"/>
<circle cx="1828.08" cy="1541.75" r="6.10" fill="#0000ff"/>
<path d="M1436.95 1507.09 V1449.72 M1430.05 1507.09 H1443.85 M1430.05 1449.72 H1443.85" stroke="#ff0000" stroke-width="2.00" fill="none"/>
<circle cx="1436.95" cy="1478.41" r="6.10" fill="#ff0000"/>
<path d="M1828.08 1488.68 V1457.61 M1821.17 1488.68 H1834.98 M1821.17 1457.61 H1834.98" stroke="#ff0000" stroke-width="2.00" fill="none"/>
<circle cx="1828.08" cy="1472.91" r="6.10" fill="#ff0000"/>
</g>
<rect x="1321.00" y="1404.30" width="518.00" height="478.10" fill="none" stroke="#7d7d7d" stroke-width="1.90"/>
<path d="M1325.20 1882.40 v6.80 M1436.95 1882.40 v6.80 M1548.70 1882.40 v6.80 M1660.45 1882.40 v6.80 M1772.20 1882.40 v6.80 M1321.00 1882.40 h-6.80 M1321.00 1822.64 h-6.80 M1321.00 1762.88 h-6.80 M1321.00 1703.11 h-6.80 M1321.00 1643.35 h-6.80 M1321.00 1583.59 h-6.80 M1321.00 1523.83 h-6.80 M1321.00 1464.06 h-6.80 M1321.00 1404.30 h-6.80" stroke="#000" stroke-width="1.90" fill="none"/>
<text transform="translate(1325.20 1912.00) scale(1 1.035)" font-size="22.0" text-anchor="middle">0</text>
<text transform="translate(1436.95 1912.00) scale(1 1.035)" font-size="22.0" text-anchor="middle">10</text>
<text transform="translate(1548.70 1912.00) scale(1 1.035)" font-size="22.0" text-anchor="middle">20</text>
<text transform="translate(1660.45 1912.00) scale(1 1.035)" font-size="22.0" text-anchor="middle">30</text>
<text transform="translate(1772.20 1912.00) scale(1 1.035)" font-size="22.0" text-anchor="middle">40</text>
<text transform="translate(1308.00 1890.60) scale(1 1.035)" font-size="22.0" text-anchor="end">0.00</text>
<text transform="translate(1308.00 1830.84) scale(1 1.035)" font-size="22.0" text-anchor="end">0.25</text>
<text transform="translate(1308.00 1771.08) scale(1 1.035)" font-size="22.0" text-anchor="end">0.50</text>
<text transform="translate(1308.00 1711.31) scale(1 1.035)" font-size="22.0" text-anchor="end">0.75</text>
<text transform="translate(1308.00 1651.55) scale(1 1.035)" font-size="22.0" text-anchor="end">1.00</text>
<text transform="translate(1308.00 1591.79) scale(1 1.035)" font-size="22.0" text-anchor="end">1.25</text>
<text transform="translate(1308.00 1532.03) scale(1 1.035)" font-size="22.0" text-anchor="end">1.50</text>
<text transform="translate(1308.00 1472.26) scale(1 1.035)" font-size="22.0" text-anchor="end">1.75</text>
<text transform="translate(1308.00 1412.50) scale(1 1.035)" font-size="22.0" text-anchor="end">2.00</text>
<text transform="translate(1580.00 1397.70) scale(1 1.035)" font-size="25.0" text-anchor="middle">JNK</text>
<text transform="translate(1579.40 1940.10) scale(1 1.035)" font-size="25.0" text-anchor="middle">Time, min</text>
<text transform="translate(1252.80 1643.35) rotate(-90) scale(1 1.035)" font-size="25.0" text-anchor="middle">Normalized pJNK</text>
<rect x="1332.20" y="1415.30" width="213.90" height="136.70" rx="4.5" ry="4.5" fill="#ffffff" fill-opacity="0.8" stroke="#cccccc" stroke-opacity="0.8" stroke-width="1.4"/>
<path d="M1340.80 1432.90 H1387.60" stroke="#0000ff" stroke-width="5.00" stroke-dasharray="19.5 7.0" fill="none"/>
<text transform="translate(1405.60 1441.80) scale(1 1.035)" font-size="22.2">TrkA, no inh</text>
<path d="M1340.80 1465.13 H1387.60" stroke="#ff0000" stroke-width="5.00" stroke-dasharray="19.5 7.0" fill="none"/>
<text transform="translate(1405.60 1474.03) scale(1 1.035)" font-size="22.2">TrkB, no inh</text>
<path d="M1342.10 1497.36 H1386.30" stroke="#0000ff" stroke-width="5.00" stroke-linecap="square" fill="none"/>
<text transform="translate(1405.60 1506.26) scale(1 1.035)" font-size="22.2">TrkA</text>
<path d="M1342.10 1529.59 H1386.30" stroke="#ff0000" stroke-width="5.00" stroke-linecap="square" fill="none"/>
<text transform="translate(1405.60 1538.49) scale(1 1.035)" font-size="22.2">TrkB</text>
</g>
<g id="panel-B4">
<clipPath id="clip9"><rect x="75.50" y="1978.00" width="519.70" height="478.50"/></clipPath>
<g clip-path="url(#clip9)" fill="none" stroke-width="5.00" stroke-linejoin="round">
<path d="M82.3 2265.0L83.2 2265.4L84.1 2265.7L85.0 2266.0L85.9 2266.2L86.8 2266.4L87.7 2266.5L88.5 2266.5L89.4 2266.5L90.3 2266.5L91.2 2266.5L92.1 2266.4L93.0 2266.3L93.9 2266.1L94.8 2266.0L95.7 2265.8L96.6 2265.6L97.5 2265.4L98.4 2265.2L99.3 2264.9L100.2 2264.6L101.0 2264.4L101.9 2264.1L102.8 2263.8L103.7 2263.5L104.6 2263.2L105.5 2262.9L106.4 2262.6L107.3 2262.2L108.2 2261.9L109.1 2261.5L110.0 2261.2L110.9 2260.8L111.8 2260.5L112.7 2260.1L113.5 2259.8L114.4 2259.4L115.3 2259.0L116.2 2258.6L117.1 2258.3L118.0 2257.9L118.9 2257.5L119.8 2257.1L120.7 2256.7L121.6 2256.3L122.5 2255.9L123.4 2255.5L124.3 2255.1L125.2 2254.7L126.0 2254.4L126.9 2254.0L131.1 2252.1L135.3 2250.2L139.5 2248.3L143.7 2246.4L147.9 2244.5L152.1 2242.6L156.3 2240.8L160.5 2239.0L164.7 2237.3L168.9 2235.7L173.1 2234.1L177.3 2232.7L181.5 2231.3L185.7 2230.0L189.9 2228.8L194.1 2227.7L198.3 2226.7L202.5 2225.8L206.7 2224.9L210.9 2224.2L215.1 2223.5L219.3 2223.0L223.5 2222.5L227.7 2222.0L231.9 2221.6L236.1 2221.3L240.3 2221.1L244.5 2220.8L248.7 2220.7L252.9 2220.5L257.1 2220.4L261.3 2220.4L265.5 2220.4L269.7 2220.4L273.9 2220.4L278.1 2220.5L282.3 2220.6L286.5 2220.7L290.7 2220.8L294.9 2221.0L299.0 2221.1L303.2 2221.3L307.4 2221.5L311.6 2221.8L315.8 2222.0L320.0 2222.3L324.2 2222.5L328.4 2222.8L332.6 2223.1L336.8 2223.4L341.0 2223.7L345.2 2224.0L349.4 2224.3L353.6 2224.7L357.8 2225.0L362.0 2225.3L366.2 2225.7L370.4 2226.1L374.6 2226.4L378.8 2226.8L383.0 2227.2L387.2 2227.5L391.4 2227.9L395.6 2228.3L399.8 2228.7L404.0 2229.0L408.2 2229.4L412.4 2229.8L416.6 2230.2L420.8 2230.6L425.0 2230.9L429.2 2231.3L433.4 2231.7L437.6 2232.1L441.8 2232.5L446.0 2232.8L450.2 2233.2L454.4 2233.6L458.6 2233.9L462.8 2234.3L467.0 2234.7L471.2 2235.0L475.4 2235.4L479.6 2235.7L483.8 2236.1L488.0 2236.4L492.1 2236.8L496.3 2237.1L500.5 2237.5L504.7 2237.8L508.9 2238.1L513.1 2238.5L517.3 2238.8L521.5 2239.1L525.7 2239.4L529.9 2239.7L534.1 2240.0L538.3 2240.3L542.5 2240.6L546.7 2240.9L550.9 2241.2L555.1 2241.5L559.3 2241.8L563.5 2242.1L567.7 2242.3L571.9 2242.6L576.1 2242.9L580.3 2243.2L584.5 2243.4" stroke="#0000ff" stroke-dasharray="18.5 8.0"/>
<path d="M82.3 2265.0L83.2 2264.9L84.1 2264.8L85.0 2264.9L85.9 2264.9L86.8 2264.9L87.7 2265.0L88.5 2265.0L89.4 2265.1L90.3 2265.1L91.2 2265.1L92.1 2265.1L93.0 2265.1L93.9 2265.0L94.8 2265.0L95.7 2264.9L96.6 2264.7L97.5 2264.6L98.4 2264.4L99.3 2264.2L100.2 2264.0L101.0 2263.8L101.9 2263.5L102.8 2263.2L103.7 2262.9L104.6 2262.6L105.5 2262.2L106.4 2261.8L107.3 2261.4L108.2 2261.0L109.1 2260.6L110.0 2260.1L110.9 2259.6L111.8 2259.1L112.7 2258.6L113.5 2258.1L114.4 2257.5L115.3 2257.0L116.2 2256.4L117.1 2255.8L118.0 2255.2L118.9 2254.5L119.8 2253.9L120.7 2253.2L121.6 2252.6L122.5 2251.9L123.4 2251.2L124.3 2250.5L125.2 2249.8L126.0 2249.1L126.9 2248.3L131.1 2244.7L135.3 2240.9L139.5 2236.9L143.7 2232.7L147.9 2228.4L152.1 2224.0L156.3 2219.5L160.5 2214.8L164.7 2210.2L168.9 2205.4L173.1 2200.6L177.3 2195.7L181.5 2190.8L185.7 2185.8L189.9 2180.9L194.1 2175.9L198.3 2171.0L202.5 2166.2L206.7 2161.4L210.9 2156.7L215.1 2152.1L219.3 2147.5L223.5 2143.1L227.7 2138.7L231.9 2134.5L236.1 2130.3L240.3 2126.3L244.5 2122.4L248.7 2118.6L252.9 2115.0L257.1 2111.5L261.3 2108.2L265.5 2105.0L269.7 2102.0L273.9 2099.2L278.1 2096.5L282.3 2093.9L286.5 2091.6L290.7 2089.4L294.9 2087.3L299.0 2085.4L303.2 2083.6L307.4 2081.9L311.6 2080.4L315.8 2079.0L320.0 2077.8L324.2 2076.6L328.4 2075.6L332.6 2074.7L336.8 2073.9L341.0 2073.2L345.2 2072.6L349.4 2072.1L353.6 2071.7L357.8 2071.4L362.0 2071.2L366.2 2071.1L370.4 2071.1L374.6 2071.2L378.8 2071.3L383.0 2071.6L387.2 2071.9L391.4 2072.2L395.6 2072.7L399.8 2073.2L404.0 2073.9L408.2 2074.5L412.4 2075.3L416.6 2076.1L420.8 2077.0L425.0 2077.9L429.2 2078.9L433.4 2079.9L437.6 2081.0L441.8 2082.2L446.0 2083.3L450.2 2084.5L454.4 2085.8L458.6 2087.0L462.8 2088.3L467.0 2089.6L471.2 2091.0L475.4 2092.3L479.6 2093.7L483.8 2095.1L488.0 2096.5L492.1 2097.9L496.3 2099.3L500.5 2100.7L504.7 2102.1L508.9 2103.5L513.1 2104.9L517.3 2106.3L521.5 2107.7L525.7 2109.1L529.9 2110.5L534.1 2111.9L538.3 2113.3L542.5 2114.7L546.7 2116.1L550.9 2117.4L555.1 2118.7L559.3 2120.1L563.5 2121.4L567.7 2122.7L571.9 2124.0L576.1 2125.3L580.3 2126.5L584.5 2127.7" stroke="#ff0000" stroke-dasharray="18.5 8.0"/>
<path d="M82.3 2265.0L83.2 2264.8L84.1 2264.6L85.0 2264.5L85.9 2264.5L86.8 2264.5L87.7 2264.5L88.5 2264.5L89.4 2264.6L90.3 2264.6L91.2 2264.6L92.1 2264.6L93.0 2264.6L93.9 2264.6L94.8 2264.5L95.7 2264.4L96.6 2264.4L97.5 2264.3L98.4 2264.2L99.3 2264.0L100.2 2263.9L101.0 2263.7L101.9 2263.5L102.8 2263.3L103.7 2263.0L104.6 2262.8L105.5 2262.5L106.4 2262.2L107.3 2261.9L108.2 2261.5L109.1 2261.2L110.0 2260.8L110.9 2260.4L111.8 2260.0L112.7 2259.6L113.5 2259.2L114.4 2258.7L115.3 2258.3L116.2 2257.8L117.1 2257.3L118.0 2256.8L118.9 2256.3L119.8 2255.7L120.7 2255.2L121.6 2254.6L122.5 2254.0L123.4 2253.5L124.3 2252.9L125.2 2252.3L126.0 2251.6L126.9 2251.0L131.1 2247.9L135.3 2244.6L139.5 2241.2L143.7 2237.8L147.9 2234.3L152.1 2230.9L156.3 2227.5L160.5 2224.1L164.7 2220.9L168.9 2217.7L173.1 2214.7L177.3 2211.8L181.5 2209.0L185.7 2206.3L189.9 2203.8L194.1 2201.5L198.3 2199.3L202.5 2197.2L206.7 2195.3L210.9 2193.6L215.1 2192.0L219.3 2190.5L223.5 2189.2L227.7 2188.0L231.9 2186.9L236.1 2186.0L240.3 2185.2L244.5 2184.6L248.7 2184.0L252.9 2183.6L257.1 2183.3L261.3 2183.0L265.5 2182.9L269.7 2182.9L273.9 2182.9L278.1 2183.0L282.3 2183.1L286.5 2183.3L290.7 2183.5L294.9 2183.8L299.0 2184.2L303.2 2184.5L307.4 2184.9L311.6 2185.4L315.8 2185.8L320.0 2186.3L324.2 2186.8L328.4 2187.3L332.6 2187.8L336.8 2188.4L341.0 2188.9L345.2 2189.5L349.4 2190.1L353.6 2190.7L357.8 2191.3L362.0 2191.9L366.2 2192.5L370.4 2193.1L374.6 2193.7L378.8 2194.3L383.0 2194.9L387.2 2195.5L391.4 2196.1L395.6 2196.7L399.8 2197.3L404.0 2197.9L408.2 2198.4L412.4 2199.0L416.6 2199.6L420.8 2200.2L425.0 2200.7L429.2 2201.3L433.4 2201.8L437.6 2202.4L441.8 2202.9L446.0 2203.5L450.2 2204.0L454.4 2204.5L458.6 2205.0L462.8 2205.5L467.0 2206.0L471.2 2206.5L475.4 2206.9L479.6 2207.4L483.8 2207.9L488.0 2208.3L492.1 2208.7L496.3 2209.2L500.5 2209.6L504.7 2210.0L508.9 2210.4L513.1 2210.8L517.3 2211.2L521.5 2211.5L525.7 2211.9L529.9 2212.3L534.1 2212.6L538.3 2212.9L542.5 2213.3L546.7 2213.6L550.9 2213.9L555.1 2214.2L559.3 2214.5L563.5 2214.8L567.7 2215.0L571.9 2215.3L576.1 2215.6L580.3 2215.8L584.5 2216.0" stroke="#0000ff" stroke-linecap="square"/>
<path d="M82.3 2265.0L83.2 2264.8L84.1 2264.7L85.0 2264.7L85.9 2264.6L86.8 2264.6L87.7 2264.6L88.5 2264.6L89.4 2264.6L90.3 2264.6L91.2 2264.6L92.1 2264.6L93.0 2264.6L93.9 2264.5L94.8 2264.4L95.7 2264.4L96.6 2264.3L97.5 2264.2L98.4 2264.0L99.3 2263.9L100.2 2263.7L101.0 2263.6L101.9 2263.4L102.8 2263.1L103.7 2262.9L104.6 2262.7L105.5 2262.4L106.4 2262.2L107.3 2261.9L108.2 2261.6L109.1 2261.3L110.0 2260.9L110.9 2260.6L111.8 2260.2L112.7 2259.9L113.5 2259.5L114.4 2259.1L115.3 2258.7L116.2 2258.3L117.1 2257.9L118.0 2257.4L118.9 2257.0L119.8 2256.5L120.7 2256.0L121.6 2255.6L122.5 2255.1L123.4 2254.6L124.3 2254.1L125.2 2253.6L126.0 2253.0L126.9 2252.5L131.1 2249.9L135.3 2247.2L139.5 2244.3L143.7 2241.3L147.9 2238.2L152.1 2235.0L156.3 2231.8L160.5 2228.5L164.7 2225.1L168.9 2221.6L173.1 2218.1L177.3 2214.6L181.5 2211.1L185.7 2207.5L189.9 2203.9L194.1 2200.3L198.3 2196.8L202.5 2193.3L206.7 2189.9L210.9 2186.5L215.1 2183.3L219.3 2180.0L223.5 2176.9L227.7 2173.9L231.9 2170.9L236.1 2168.0L240.3 2165.2L244.5 2162.6L248.7 2160.0L252.9 2157.4L257.1 2155.0L261.3 2152.7L265.5 2150.4L269.7 2148.3L273.9 2146.2L278.1 2144.2L282.3 2142.3L286.5 2140.5L290.7 2138.8L294.9 2137.1L299.0 2135.6L303.2 2134.1L307.4 2132.7L311.6 2131.4L315.8 2130.2L320.0 2129.0L324.2 2127.9L328.4 2127.0L332.6 2126.0L336.8 2125.2L341.0 2124.4L345.2 2123.7L349.4 2123.1L353.6 2122.6L357.8 2122.1L362.0 2121.7L366.2 2121.4L370.4 2121.1L374.6 2120.9L378.8 2120.8L383.0 2120.7L387.2 2120.7L391.4 2120.7L395.6 2120.9L399.8 2121.0L404.0 2121.3L408.2 2121.5L412.4 2121.9L416.6 2122.3L420.8 2122.7L425.0 2123.3L429.2 2123.8L433.4 2124.4L437.6 2125.0L441.8 2125.7L446.0 2126.4L450.2 2127.2L454.4 2127.9L458.6 2128.7L462.8 2129.5L467.0 2130.4L471.2 2131.2L475.4 2132.1L479.6 2133.0L483.8 2133.8L488.0 2134.8L492.1 2135.7L496.3 2136.6L500.5 2137.5L504.7 2138.4L508.9 2139.4L513.1 2140.3L517.3 2141.3L521.5 2142.2L525.7 2143.1L529.9 2144.1L534.1 2145.0L538.3 2145.9L542.5 2146.8L546.7 2147.7L550.9 2148.6L555.1 2149.5L559.3 2150.4L563.5 2151.3L567.7 2152.2L571.9 2153.0L576.1 2153.9L580.3 2154.7L584.5 2155.6" stroke="#ff0000" stroke-linecap="square"/>
</g>
<g clip-path="url(#clip9)">
<path d="M193.90 2301.66 V2285.20 M187.00 2301.66 H200.80 M187.00 2285.20 H200.80" stroke="#0000ff" stroke-width="2.00" fill="none"/>
<circle cx="193.90" cy="2293.43" r="6.10" fill="#0000ff"/>
<path d="M584.50 2234.48 V2202.89 M577.60 2234.48 H591.40 M577.60 2202.89 H591.40" stroke="#0000ff" stroke-width="2.00" fill="none"/>
<circle cx="584.50" cy="2218.97" r="6.10" fill="#0000ff"/>
<path d="M193.90 2254.76 V2224.14 M187.00 2254.76 H200.80 M187.00 2224.14 H200.80" stroke="#ff0000" stroke-width="2.00" fill="none"/>
<circle cx="193.90" cy="2239.45" r="6.10" fill="#ff0000"/>
<path d="M584.50 2112.94 V2060.11 M577.60 2112.94 H591.40 M577.60 2060.11 H591.40" stroke="#ff0000" stroke-width="2.00" fill="none"/>
<circle cx="584.50" cy="2086.91" r="6.10" fill="#ff0000"/>
</g>
<rect x="75.50" y="1978.00" width="519.70" height="478.50" fill="none" stroke="#7d7d7d" stroke-width="1.90"/>
<path d="M82.30 2456.50 v6.80 M193.90 2456.50 v6.80 M305.50 2456.50 v6.80 M417.10 2456.50 v6.80 M528.70 2456.50 v6.80 M75.50 2456.50 h-6.80 M75.50 2360.80 h-6.80 M75.50 2265.10 h-6.80 M75.50 2169.40 h-6.80 M75.50 2073.70 h-6.80 M75.50 1978.00 h-6.80" stroke="#000" stroke-width="1.90" fill="none"/>
<text transform="translate(82.30 2486.10) scale(1 1.035)" font-size="22.0" text-anchor="middle">0</text>
<text transform="translate(193.90 2486.10) scale(1 1.035)" font-size="22.0" text-anchor="middle">10</text>
<text transform="translate(305.50 2486.10) scale(1 1.035)" font-size="22.0" text-anchor="middle">20</text>
<text transform="translate(417.10 2486.10) scale(1 1.035)" font-size="22.0" text-anchor="middle">30</text>
<text transform="translate(528.70 2486.10) scale(1 1.035)" font-size="22.0" text-anchor="middle">40</text>
<text transform="translate(62.50 2464.70) scale(1 1.035)" font-size="22.0" text-anchor="end">0.0</text>
<text transform="translate(62.50 2369.00) scale(1 1.035)" font-size="22.0" text-anchor="end">0.5</text>
<text transform="translate(62.50 2273.30) scale(1 1.035)" font-size="22.0" text-anchor="end">1.0</text>
<text transform="translate(62.50 2177.60) scale(1 1.035)" font-size="22.0" text-anchor="end">1.5</text>
<text transform="translate(62.50 2081.90) scale(1 1.035)" font-size="22.0" text-anchor="end">2.0</text>
<text transform="translate(62.50 1986.20) scale(1 1.035)" font-size="22.0" text-anchor="end">2.5</text>
<text transform="translate(335.35 1971.40) scale(1 1.035)" font-size="25.0" text-anchor="middle">S6K</text>
<text transform="translate(334.75 2514.20) scale(1 1.035)" font-size="25.0" text-anchor="middle">Time, min</text>
<text transform="translate(21.30 2217.25) rotate(-90) scale(1 1.035)" font-size="25.0" text-anchor="middle">Normalized pS6K</text>
<rect x="86.70" y="1989.00" width="213.90" height="136.70" rx="4.5" ry="4.5" fill="#ffffff" fill-opacity="0.8" stroke="#cccccc" stroke-opacity="0.8" stroke-width="1.4"/>
<path d="M95.30 2006.60 H142.10" stroke="#0000ff" stroke-width="5.00" stroke-dasharray="19.5 7.0" fill="none"/>
<text transform="translate(160.10 2015.50) scale(1 1.035)" font-size="22.2">TrkA, no inh</text>
<path d="M95.30 2038.83 H142.10" stroke="#ff0000" stroke-width="5.00" stroke-dasharray="19.5 7.0" fill="none"/>
<text transform="translate(160.10 2047.73) scale(1 1.035)" font-size="22.2">TrkB, no inh</text>
<path d="M96.60 2071.06 H140.80" stroke="#0000ff" stroke-width="5.00" stroke-linecap="square" fill="none"/>
<text transform="translate(160.10 2079.96) scale(1 1.035)" font-size="22.2">TrkA</text>
<path d="M96.60 2103.29 H140.80" stroke="#ff0000" stroke-width="5.00" stroke-linecap="square" fill="none"/>
<text transform="translate(160.10 2112.19) scale(1 1.035)" font-size="22.2">TrkB</text>
</g>
<g id="panel-B5">
<clipPath id="clip10"><rect x="698.80" y="1978.00" width="518.50" height="478.50"/></clipPath>
<g clip-path="url(#clip10)" fill="none" stroke-width="5.00" stroke-linejoin="round">
<path d="M703.7 2296.8L704.6 2294.2L705.5 2291.7L706.4 2289.2L707.3 2286.8L708.2 2284.4L709.1 2282.1L710.0 2279.9L710.8 2277.8L711.7 2275.8L712.6 2273.8L713.5 2272.0L714.4 2270.2L715.3 2268.6L716.2 2267.0L717.1 2265.5L718.0 2264.1L718.9 2262.8L719.8 2261.5L720.7 2260.4L721.6 2259.3L722.5 2258.2L723.4 2257.2L724.2 2256.3L725.1 2255.5L726.0 2254.7L726.9 2253.9L727.8 2253.2L728.7 2252.6L729.6 2252.0L730.5 2251.5L731.4 2251.0L732.3 2250.6L733.2 2250.1L734.1 2249.8L735.0 2249.4L735.9 2249.1L736.7 2248.9L737.6 2248.6L738.5 2248.4L739.4 2248.2L740.3 2248.1L741.2 2247.9L742.1 2247.8L743.0 2247.7L743.9 2247.7L744.8 2247.6L745.7 2247.5L746.6 2247.5L747.5 2247.5L748.4 2247.5L752.6 2247.6L756.8 2248.0L761.0 2248.4L765.2 2249.0L769.4 2249.7L773.6 2250.4L777.8 2251.2L782.0 2251.9L786.2 2252.7L790.4 2253.5L794.6 2254.2L798.8 2255.0L803.0 2255.7L807.2 2256.4L811.4 2257.2L815.6 2257.9L819.8 2258.6L824.0 2259.2L828.2 2259.9L832.4 2260.6L836.6 2261.2L840.8 2261.8L845.0 2262.4L849.2 2263.0L853.4 2263.6L857.6 2264.2L861.8 2264.7L866.0 2265.3L870.2 2265.8L874.4 2266.3L878.6 2266.8L882.7 2267.3L886.9 2267.8L891.1 2268.3L895.3 2268.7L899.5 2269.2L903.7 2269.6L907.9 2270.1L912.1 2270.5L916.3 2270.9L920.5 2271.3L924.7 2271.7L928.9 2272.0L933.1 2272.4L937.3 2272.8L941.5 2273.1L945.7 2273.5L949.9 2273.8L954.1 2274.1L958.3 2274.5L962.5 2274.8L966.7 2275.1L970.9 2275.4L975.1 2275.7L979.3 2275.9L983.5 2276.2L987.7 2276.5L991.9 2276.7L996.1 2277.0L1000.3 2277.3L1004.5 2277.5L1008.7 2277.7L1012.9 2278.0L1017.1 2278.2L1021.3 2278.4L1025.5 2278.6L1029.7 2278.8L1033.9 2279.0L1038.1 2279.2L1042.3 2279.4L1046.5 2279.6L1050.7 2279.8L1054.9 2280.0L1059.1 2280.2L1063.3 2280.3L1067.5 2280.5L1071.7 2280.7L1075.9 2280.8L1080.1 2281.0L1084.3 2281.1L1088.5 2281.3L1092.7 2281.4L1096.9 2281.5L1101.1 2281.7L1105.3 2281.8L1109.5 2281.9L1113.7 2282.1L1117.9 2282.2L1122.1 2282.3L1126.3 2282.4L1130.5 2282.5L1134.7 2282.6L1138.9 2282.7L1143.1 2282.8L1147.3 2282.9L1151.5 2283.0L1155.7 2283.1L1159.9 2283.2L1164.1 2283.3L1168.3 2283.4L1172.5 2283.4L1176.7 2283.5L1180.9 2283.6L1185.1 2283.6L1189.3 2283.7L1193.5 2283.8L1197.7 2283.8L1201.9 2283.9L1206.1 2284.0" stroke="#0000ff" stroke-dasharray="18.5 8.0"/>
<path d="M703.7 2296.8L704.6 2296.7L705.5 2296.4L706.4 2295.9L707.3 2295.3L708.2 2294.5L709.1 2293.6L710.0 2292.7L710.8 2291.7L711.7 2290.6L712.6 2289.5L713.5 2288.4L714.4 2287.2L715.3 2286.0L716.2 2284.7L717.1 2283.5L718.0 2282.2L718.9 2281.0L719.8 2279.7L720.7 2278.4L721.6 2277.2L722.5 2275.9L723.4 2274.6L724.2 2273.4L725.1 2272.1L726.0 2270.9L726.9 2269.7L727.8 2268.4L728.7 2267.2L729.6 2266.0L730.5 2264.8L731.4 2263.6L732.3 2262.5L733.2 2261.3L734.1 2260.2L735.0 2259.0L735.9 2257.9L736.7 2256.8L737.6 2255.7L738.5 2254.6L739.4 2253.5L740.3 2252.5L741.2 2251.4L742.1 2250.4L743.0 2249.4L743.9 2248.3L744.8 2247.3L745.7 2246.4L746.6 2245.4L747.5 2244.4L748.4 2243.5L752.6 2239.1L756.8 2235.1L761.0 2231.2L765.2 2227.6L769.4 2224.3L773.6 2221.2L777.8 2218.3L782.0 2215.6L786.2 2213.2L790.4 2211.0L794.6 2208.9L798.8 2207.1L803.0 2205.4L807.2 2203.9L811.4 2202.6L815.6 2201.4L819.8 2200.3L824.0 2199.4L828.2 2198.7L832.4 2198.0L836.6 2197.5L840.8 2197.1L845.0 2196.8L849.2 2196.5L853.4 2196.4L857.6 2196.4L861.8 2196.4L866.0 2196.6L870.2 2196.8L874.4 2197.0L878.6 2197.4L882.7 2197.8L886.9 2198.2L891.1 2198.7L895.3 2199.3L899.5 2199.9L903.7 2200.5L907.9 2201.2L912.1 2202.0L916.3 2202.8L920.5 2203.6L924.7 2204.4L928.9 2205.3L933.1 2206.2L937.3 2207.2L941.5 2208.1L945.7 2209.1L949.9 2210.1L954.1 2211.1L958.3 2212.1L962.5 2213.1L966.7 2214.2L970.9 2215.2L975.1 2216.2L979.3 2217.2L983.5 2218.3L987.7 2219.3L991.9 2220.3L996.1 2221.3L1000.3 2222.3L1004.5 2223.2L1008.7 2224.2L1012.9 2225.2L1017.1 2226.1L1021.3 2227.0L1025.5 2227.9L1029.7 2228.8L1033.9 2229.7L1038.1 2230.6L1042.3 2231.4L1046.5 2232.3L1050.7 2233.1L1054.9 2233.9L1059.1 2234.7L1063.3 2235.5L1067.5 2236.2L1071.7 2237.0L1075.9 2237.7L1080.1 2238.4L1084.3 2239.1L1088.5 2239.8L1092.7 2240.5L1096.9 2241.1L1101.1 2241.7L1105.3 2242.3L1109.5 2242.9L1113.7 2243.5L1117.9 2244.1L1122.1 2244.6L1126.3 2245.2L1130.5 2245.7L1134.7 2246.2L1138.9 2246.6L1143.1 2247.1L1147.3 2247.6L1151.5 2248.0L1155.7 2248.4L1159.9 2248.8L1164.1 2249.2L1168.3 2249.6L1172.5 2249.9L1176.7 2250.2L1180.9 2250.6L1185.1 2250.9L1189.3 2251.2L1193.5 2251.5L1197.7 2251.7L1201.9 2252.0L1206.1 2252.2" stroke="#ff0000" stroke-dasharray="18.5 8.0"/>
<path d="M703.7 2296.8L704.6 2309.8L705.5 2320.6L706.4 2329.6L707.3 2337.0L708.2 2343.2L709.1 2348.3L710.0 2352.5L710.8 2355.9L711.7 2358.7L712.6 2361.0L713.5 2362.8L714.4 2364.2L715.3 2365.3L716.2 2366.2L717.1 2366.8L718.0 2367.3L718.9 2367.5L719.8 2367.7L720.7 2367.7L721.6 2367.6L722.5 2367.5L723.4 2367.3L724.2 2367.1L725.1 2366.8L726.0 2366.5L726.9 2366.2L727.8 2365.8L728.7 2365.5L729.6 2365.2L730.5 2364.9L731.4 2364.5L732.3 2364.3L733.2 2364.0L734.1 2363.7L735.0 2363.5L735.9 2363.3L736.7 2363.2L737.6 2363.0L738.5 2362.9L739.4 2362.8L740.3 2362.7L741.2 2362.7L742.1 2362.6L743.0 2362.6L743.9 2362.6L744.8 2362.6L745.7 2362.6L746.6 2362.6L747.5 2362.6L748.4 2362.7L752.6 2362.9L756.8 2363.3L761.0 2363.8L765.2 2364.3L769.4 2364.8L773.6 2365.3L777.8 2365.9L782.0 2366.4L786.2 2366.9L790.4 2367.4L794.6 2368.0L798.8 2368.5L803.0 2369.0L807.2 2369.5L811.4 2369.9L815.6 2370.4L819.8 2370.9L824.0 2371.4L828.2 2371.8L832.4 2372.2L836.6 2372.7L840.8 2373.1L845.0 2373.5L849.2 2373.9L853.4 2374.3L857.6 2374.7L861.8 2375.1L866.0 2375.4L870.2 2375.8L874.4 2376.1L878.6 2376.5L882.7 2376.8L886.9 2377.2L891.1 2377.5L895.3 2377.8L899.5 2378.1L903.7 2378.4L907.9 2378.7L912.1 2379.0L916.3 2379.2L920.5 2379.5L924.7 2379.8L928.9 2380.0L933.1 2380.3L937.3 2380.5L941.5 2380.8L945.7 2381.0L949.9 2381.3L954.1 2381.5L958.3 2381.7L962.5 2381.9L966.7 2382.1L970.9 2382.3L975.1 2382.5L979.3 2382.7L983.5 2382.9L987.7 2383.1L991.9 2383.3L996.1 2383.5L1000.3 2383.7L1004.5 2383.8L1008.7 2384.0L1012.9 2384.2L1017.1 2384.3L1021.3 2384.5L1025.5 2384.6L1029.7 2384.8L1033.9 2384.9L1038.1 2385.1L1042.3 2385.2L1046.5 2385.4L1050.7 2385.5L1054.9 2385.6L1059.1 2385.7L1063.3 2385.9L1067.5 2386.0L1071.7 2386.1L1075.9 2386.2L1080.1 2386.3L1084.3 2386.4L1088.5 2386.6L1092.7 2386.7L1096.9 2386.8L1101.1 2386.9L1105.3 2387.0L1109.5 2387.1L1113.7 2387.1L1117.9 2387.2L1122.1 2387.3L1126.3 2387.4L1130.5 2387.5L1134.7 2387.6L1138.9 2387.7L1143.1 2387.7L1147.3 2387.8L1151.5 2387.9L1155.7 2388.0L1159.9 2388.0L1164.1 2388.1L1168.3 2388.2L1172.5 2388.2L1176.7 2388.3L1180.9 2388.3L1185.1 2388.4L1189.3 2388.5L1193.5 2388.5L1197.7 2388.6L1201.9 2388.6L1206.1 2388.7" stroke="#0000ff" stroke-linecap="square"/>
<path d="M703.7 2296.8L704.6 2312.7L705.5 2325.9L706.4 2336.7L707.3 2345.7L708.2 2353.1L709.1 2359.2L710.0 2364.2L710.8 2368.4L711.7 2371.8L712.6 2374.7L713.5 2377.0L714.4 2379.0L715.3 2380.7L716.2 2382.1L717.1 2383.3L718.0 2384.4L718.9 2385.3L719.8 2386.2L720.7 2386.9L721.6 2387.5L722.5 2388.0L723.4 2388.4L724.2 2388.8L725.1 2389.1L726.0 2389.4L726.9 2389.5L727.8 2389.7L728.7 2389.8L729.6 2389.8L730.5 2389.9L731.4 2389.8L732.3 2389.8L733.2 2389.7L734.1 2389.7L735.0 2389.5L735.9 2389.4L736.7 2389.3L737.6 2389.1L738.5 2388.9L739.4 2388.7L740.3 2388.5L741.2 2388.3L742.1 2388.1L743.0 2387.9L743.9 2387.7L744.8 2387.4L745.7 2387.2L746.6 2386.9L747.5 2386.7L748.4 2386.5L752.6 2385.3L756.8 2384.1L761.0 2383.0L765.2 2382.0L769.4 2381.0L773.6 2380.2L777.8 2379.5L782.0 2378.8L786.2 2378.2L790.4 2377.7L794.6 2377.2L798.8 2376.8L803.0 2376.4L807.2 2376.1L811.4 2375.8L815.6 2375.6L819.8 2375.4L824.0 2375.2L828.2 2375.0L832.4 2374.9L836.6 2374.8L840.8 2374.7L845.0 2374.7L849.2 2374.6L853.4 2374.6L857.6 2374.6L861.8 2374.6L866.0 2374.6L870.2 2374.7L874.4 2374.7L878.6 2374.8L882.7 2374.9L886.9 2374.9L891.1 2375.0L895.3 2375.1L899.5 2375.2L903.7 2375.4L907.9 2375.5L912.1 2375.6L916.3 2375.7L920.5 2375.9L924.7 2376.0L928.9 2376.2L933.1 2376.3L937.3 2376.5L941.5 2376.6L945.7 2376.8L949.9 2377.0L954.1 2377.1L958.3 2377.3L962.5 2377.5L966.7 2377.7L970.9 2377.8L975.1 2378.0L979.3 2378.2L983.5 2378.3L987.7 2378.5L991.9 2378.7L996.1 2378.9L1000.3 2379.0L1004.5 2379.2L1008.7 2379.4L1012.9 2379.6L1017.1 2379.7L1021.3 2379.9L1025.5 2380.1L1029.7 2380.3L1033.9 2380.4L1038.1 2380.6L1042.3 2380.8L1046.5 2381.0L1050.7 2381.1L1054.9 2381.3L1059.1 2381.5L1063.3 2381.6L1067.5 2381.8L1071.7 2381.9L1075.9 2382.1L1080.1 2382.3L1084.3 2382.4L1088.5 2382.6L1092.7 2382.7L1096.9 2382.9L1101.1 2383.0L1105.3 2383.2L1109.5 2383.4L1113.7 2383.5L1117.9 2383.7L1122.1 2383.8L1126.3 2383.9L1130.5 2384.1L1134.7 2384.2L1138.9 2384.4L1143.1 2384.5L1147.3 2384.7L1151.5 2384.8L1155.7 2384.9L1159.9 2385.1L1164.1 2385.2L1168.3 2385.3L1172.5 2385.5L1176.7 2385.6L1180.9 2385.7L1185.1 2385.9L1189.3 2386.0L1193.5 2386.1L1197.7 2386.2L1201.9 2386.3L1206.1 2386.5" stroke="#ff0000" stroke-linecap="square"/>
</g>
<g clip-path="url(#clip10)">
<path d="M815.35 2354.74 V2338.95 M808.45 2354.74 H822.25 M808.45 2338.95 H822.25" stroke="#0000ff" stroke-width="2.00" fill="none"/>
<circle cx="815.35" cy="2347.24" r="6.10" fill="#0000ff"/>
<path d="M1206.12 2310.56 V2292.22 M1199.22 2310.56 H1213.03 M1199.22 2292.22 H1213.03" stroke="#0000ff" stroke-width="2.00" fill="none"/>
<circle cx="1206.12" cy="2301.31" r="6.10" fill="#0000ff"/>
<path d="M815.35 2293.81 V2284.24 M808.45 2293.81 H822.25 M808.45 2284.24 H822.25" stroke="#ff0000" stroke-width="2.00" fill="none"/>
<circle cx="815.35" cy="2288.87" r="6.10" fill="#ff0000"/>
<path d="M1206.12 2278.82 V2266.38 M1199.22 2278.82 H1213.03 M1199.22 2266.38 H1213.03" stroke="#ff0000" stroke-width="2.00" fill="none"/>
<circle cx="1206.12" cy="2272.60" r="6.10" fill="#ff0000"/>
</g>
<rect x="698.80" y="1978.00" width="518.50" height="478.50" fill="none" stroke="#7d7d7d" stroke-width="1.90"/>
<path d="M703.70 2456.50 v6.80 M815.35 2456.50 v6.80 M927.00 2456.50 v6.80 M1038.65 2456.50 v6.80 M1150.30 2456.50 v6.80 M698.80 2456.50 h-6.80 M698.80 2376.75 h-6.80 M698.80 2297.00 h-6.80 M698.80 2217.25 h-6.80 M698.80 2137.50 h-6.80 M698.80 2057.75 h-6.80 M698.80 1978.00 h-6.80" stroke="#000" stroke-width="1.90" fill="none"/>
<text transform="translate(703.70 2486.10) scale(1 1.035)" font-size="22.0" text-anchor="middle">0</text>
<text transform="translate(815.35 2486.10) scale(1 1.035)" font-size="22.0" text-anchor="middle">10</text>
<text transform="translate(927.00 2486.10) scale(1 1.035)" font-size="22.0" text-anchor="middle">20</text>
<text transform="translate(1038.65 2486.10) scale(1 1.035)" font-size="22.0" text-anchor="middle">30</text>
<text transform="translate(1150.30 2486.10) scale(1 1.035)" font-size="22.0" text-anchor="middle">40</text>
<text transform="translate(685.80 2464.70) scale(1 1.035)" font-size="22.0" text-anchor="end">0.0</text>
<text transform="translate(685.80 2384.95) scale(1 1.035)" font-size="22.0" text-anchor="end">0.5</text>
<text transform="translate(685.80 2305.20) scale(1 1.035)" font-size="22.0" text-anchor="end">1.0</text>
<text transform="translate(685.80 2225.45) scale(1 1.035)" font-size="22.0" text-anchor="end">1.5</text>
<text transform="translate(685.80 2145.70) scale(1 1.035)" font-size="22.0" text-anchor="end">2.0</text>
<text transform="translate(685.80 2065.95) scale(1 1.035)" font-size="22.0" text-anchor="end">2.5</text>
<text transform="translate(685.80 1986.20) scale(1 1.035)" font-size="22.0" text-anchor="end">3.0</text>
<text transform="translate(958.05 1971.40) scale(1 1.035)" font-size="25.0" text-anchor="middle">RSK</text>
<text transform="translate(957.45 2514.20) scale(1 1.035)" font-size="25.0" text-anchor="middle">Time, min</text>
<text transform="translate(643.40 2217.25) rotate(-90) scale(1 1.035)" font-size="25.0" text-anchor="middle">Normalized pRSK</text>
<rect x="710.00" y="1989.00" width="213.90" height="136.70" rx="4.5" ry="4.5" fill="#ffffff" fill-opacity="0.8" stroke="#cccccc" stroke-opacity="0.8" stroke-width="1.4"/>
<path d="M718.60 2006.60 H765.40" stroke="#0000ff" stroke-width="5.00" stroke-dasharray="19.5 7.0" fill="none"/>
<text transform="translate(783.40 2015.50) scale(1 1.035)" font-size="22.2">TrkA, no inh</text>
<path d="M718.60 2038.83 H765.40" stroke="#ff0000" stroke-width="5.00" stroke-dasharray="19.5 7.0" fill="none"/>
<text transform="translate(783.40 2047.73) scale(1 1.035)" font-size="22.2">TrkB, no inh</text>
<path d="M719.90 2071.06 H764.10" stroke="#0000ff" stroke-width="5.00" stroke-linecap="square" fill="none"/>
<text transform="translate(783.40 2079.96) scale(1 1.035)" font-size="22.2">TrkA</text>
<path d="M719.90 2103.29 H764.10" stroke="#ff0000" stroke-width="5.00" stroke-linecap="square" fill="none"/>
<text transform="translate(783.40 2112.19) scale(1 1.035)" font-size="22.2">TrkB</text>
</g>
<g id="panel-B6">
<clipPath id="clip11"><rect x="1321.00" y="1978.00" width="518.00" height="478.50"/></clipPath>
<g clip-path="url(#clip11)" fill="none" stroke-width="5.00" stroke-linejoin="round">
<path d="M1325.2 2416.6L1326.1 2416.6L1327.0 2416.6L1327.9 2416.6L1328.8 2416.6L1329.7 2416.6L1330.6 2416.6L1331.5 2416.6L1332.4 2416.6L1333.2 2416.6L1334.1 2416.6L1335.0 2416.6L1335.9 2416.6L1336.8 2416.6L1337.7 2416.6L1338.6 2416.6L1339.5 2416.6L1340.4 2416.6L1341.3 2416.6L1342.2 2416.6L1343.1 2416.6L1344.0 2416.6L1344.9 2416.6L1345.8 2416.6L1346.7 2416.6L1347.5 2416.6L1348.4 2416.6L1349.3 2416.6L1350.2 2416.6L1351.1 2416.6L1352.0 2416.6L1352.9 2416.6L1353.8 2416.6L1354.7 2416.6L1355.6 2416.6L1356.5 2416.6L1357.4 2416.6L1358.3 2416.6L1359.2 2416.6L1360.1 2416.6L1361.0 2416.6L1361.9 2416.6L1362.7 2416.6L1363.6 2416.6L1364.5 2416.6L1365.4 2416.6L1366.3 2416.6L1367.2 2416.6L1368.1 2416.6L1369.0 2416.6L1369.9 2416.6L1374.1 2416.6L1378.3 2416.6L1382.5 2416.6L1386.7 2416.6L1390.9 2416.6L1395.1 2416.6L1399.3 2416.6L1403.5 2416.6L1407.7 2416.6L1411.9 2416.6L1416.1 2416.6L1420.3 2416.6L1424.5 2416.6L1428.7 2416.6L1433.0 2416.6L1437.2 2416.6L1441.4 2416.6L1445.6 2416.6L1449.8 2416.6L1454.0 2416.6L1458.2 2416.6L1462.4 2416.6L1466.6 2416.6L1470.8 2416.6L1475.0 2416.6L1479.2 2416.6L1483.4 2416.6L1487.6 2416.6L1491.8 2416.6L1496.0 2416.6L1500.2 2416.6L1504.4 2416.6L1508.6 2416.6L1512.8 2416.6L1517.0 2416.6L1521.2 2416.6L1525.4 2416.6L1529.6 2416.6L1533.8 2416.6L1538.0 2416.6L1542.2 2416.6L1546.4 2416.6L1550.6 2416.6L1554.9 2416.6L1559.1 2416.6L1563.3 2416.6L1567.5 2416.6L1571.7 2416.6L1575.9 2416.6L1580.1 2416.6L1584.3 2416.6L1588.5 2416.6L1592.7 2416.6L1596.9 2416.6L1601.1 2416.6L1605.3 2416.6L1609.5 2416.6L1613.7 2416.6L1617.9 2416.6L1622.1 2416.6L1626.3 2416.6L1630.5 2416.6L1634.7 2416.6L1638.9 2416.6L1643.1 2416.6L1647.3 2416.6L1651.5 2416.6L1655.7 2416.6L1659.9 2416.6L1664.1 2416.6L1668.3 2416.6L1672.5 2416.6L1676.8 2416.6L1681.0 2416.6L1685.2 2416.6L1689.4 2416.6L1693.6 2416.6L1697.8 2416.6L1702.0 2416.6L1706.2 2416.6L1710.4 2416.6L1714.6 2416.6L1718.8 2416.6L1723.0 2416.6L1727.2 2416.6L1731.4 2416.6L1735.6 2416.6L1739.8 2416.6L1744.0 2416.6L1748.2 2416.6L1752.4 2416.6L1756.6 2416.6L1760.8 2416.6L1765.0 2416.6L1769.2 2416.6L1773.4 2416.6L1777.6 2416.6L1781.8 2416.6L1786.0 2416.6L1790.2 2416.6L1794.4 2416.6L1798.7 2416.6L1802.9 2416.6L1807.1 2416.6L1811.3 2416.6L1815.5 2416.6L1819.7 2416.6L1823.9 2416.6L1828.1 2416.6" stroke="#0000ff" stroke-dasharray="18.5 8.0"/>
<path d="M1325.2 2416.6L1326.1 2412.0L1327.0 2407.3L1327.9 2402.5L1328.8 2397.8L1329.7 2393.1L1330.6 2388.4L1331.5 2383.8L1332.4 2379.2L1333.2 2374.8L1334.1 2370.4L1335.0 2366.1L1335.9 2361.9L1336.8 2357.8L1337.7 2353.9L1338.6 2350.0L1339.5 2346.2L1340.4 2342.5L1341.3 2338.9L1342.2 2335.4L1343.1 2332.0L1344.0 2328.7L1344.9 2325.5L1345.8 2322.4L1346.7 2319.3L1347.5 2316.3L1348.4 2313.4L1349.3 2310.6L1350.2 2307.8L1351.1 2305.0L1352.0 2302.3L1352.9 2299.7L1353.8 2297.1L1354.7 2294.5L1355.6 2292.0L1356.5 2289.5L1357.4 2287.1L1358.3 2284.7L1359.2 2282.3L1360.1 2279.9L1361.0 2277.6L1361.9 2275.3L1362.7 2273.0L1363.6 2270.7L1364.5 2268.5L1365.4 2266.3L1366.3 2264.1L1367.2 2261.9L1368.1 2259.8L1369.0 2257.6L1369.9 2255.5L1374.1 2245.7L1378.3 2236.3L1382.5 2227.2L1386.7 2218.5L1390.9 2210.1L1395.1 2202.1L1399.3 2194.5L1403.5 2187.1L1407.7 2180.1L1411.9 2173.5L1416.1 2167.3L1420.3 2161.5L1424.5 2156.1L1428.7 2151.1L1433.0 2146.6L1437.2 2142.6L1441.4 2138.9L1445.6 2135.7L1449.8 2132.9L1454.0 2130.5L1458.2 2128.4L1462.4 2126.6L1466.6 2125.1L1470.8 2123.8L1475.0 2122.8L1479.2 2122.1L1483.4 2121.5L1487.6 2121.2L1491.8 2121.1L1496.0 2121.1L1500.2 2121.3L1504.4 2121.6L1508.6 2122.1L1512.8 2122.7L1517.0 2123.5L1521.2 2124.3L1525.4 2125.3L1529.6 2126.3L1533.8 2127.3L1538.0 2128.4L1542.2 2129.7L1546.4 2131.0L1550.6 2132.3L1554.9 2133.8L1559.1 2135.3L1563.3 2136.9L1567.5 2138.6L1571.7 2140.3L1575.9 2142.1L1580.1 2143.9L1584.3 2145.8L1588.5 2147.7L1592.7 2149.7L1596.9 2151.8L1601.1 2154.0L1605.3 2156.3L1609.5 2158.6L1613.7 2160.9L1617.9 2163.2L1622.1 2165.5L1626.3 2167.8L1630.5 2170.2L1634.7 2172.5L1638.9 2174.9L1643.1 2177.2L1647.3 2179.6L1651.5 2181.9L1655.7 2184.2L1659.9 2186.5L1664.1 2188.8L1668.3 2191.1L1672.5 2193.4L1676.8 2195.6L1681.0 2197.8L1685.2 2200.0L1689.4 2202.2L1693.6 2204.3L1697.8 2206.4L1702.0 2208.5L1706.2 2210.6L1710.4 2212.6L1714.6 2214.6L1718.8 2216.6L1723.0 2218.5L1727.2 2220.5L1731.4 2222.4L1735.6 2224.4L1739.8 2226.3L1744.0 2228.1L1748.2 2230.0L1752.4 2231.8L1756.6 2233.6L1760.8 2235.3L1765.0 2237.0L1769.2 2238.7L1773.4 2240.3L1777.6 2241.9L1781.8 2243.4L1786.0 2245.0L1790.2 2246.5L1794.4 2247.9L1798.7 2249.4L1802.9 2250.8L1807.1 2252.2L1811.3 2253.5L1815.5 2254.8L1819.7 2256.1L1823.9 2257.3L1828.1 2258.5" stroke="#ff0000" stroke-dasharray="18.5 8.0"/>
<path d="M1325.2 2416.6L1326.1 2416.6L1327.0 2416.7L1327.9 2416.7L1328.8 2416.7L1329.7 2416.7L1330.6 2416.7L1331.5 2416.7L1332.4 2416.7L1333.2 2416.7L1334.1 2416.7L1335.0 2416.7L1335.9 2416.7L1336.8 2416.7L1337.7 2416.7L1338.6 2416.7L1339.5 2416.7L1340.4 2416.7L1341.3 2416.7L1342.2 2416.7L1343.1 2416.7L1344.0 2416.7L1344.9 2416.7L1345.8 2416.7L1346.7 2416.7L1347.5 2416.7L1348.4 2416.7L1349.3 2416.7L1350.2 2416.7L1351.1 2416.6L1352.0 2416.6L1352.9 2416.6L1353.8 2416.6L1354.7 2416.6L1355.6 2416.6L1356.5 2416.6L1357.4 2416.6L1358.3 2416.6L1359.2 2416.6L1360.1 2416.6L1361.0 2416.6L1361.9 2416.6L1362.7 2416.6L1363.6 2416.6L1364.5 2416.6L1365.4 2416.6L1366.3 2416.6L1367.2 2416.6L1368.1 2416.6L1369.0 2416.5L1369.9 2416.5L1374.1 2416.5L1378.3 2416.5L1382.5 2416.5L1386.7 2416.5L1390.9 2416.4L1395.1 2416.4L1399.3 2416.4L1403.5 2416.4L1407.7 2416.4L1411.9 2416.3L1416.1 2416.3L1420.3 2416.3L1424.5 2416.3L1428.7 2416.3L1433.0 2416.3L1437.2 2416.2L1441.4 2416.2L1445.6 2416.2L1449.8 2416.2L1454.0 2416.2L1458.2 2416.2L1462.4 2416.2L1466.6 2416.1L1470.8 2416.1L1475.0 2416.1L1479.2 2416.1L1483.4 2416.1L1487.6 2416.1L1491.8 2416.1L1496.0 2416.1L1500.2 2416.1L1504.4 2416.1L1508.6 2416.1L1512.8 2416.0L1517.0 2416.0L1521.2 2416.0L1525.4 2416.0L1529.6 2416.0L1533.8 2416.0L1538.0 2416.0L1542.2 2416.0L1546.4 2416.0L1550.6 2416.0L1554.9 2416.0L1559.1 2416.0L1563.3 2416.0L1567.5 2416.0L1571.7 2416.0L1575.9 2415.9L1580.1 2415.9L1584.3 2415.9L1588.5 2415.9L1592.7 2415.9L1596.9 2415.9L1601.1 2415.9L1605.3 2415.9L1609.5 2415.9L1613.7 2415.9L1617.9 2415.9L1622.1 2415.9L1626.3 2415.9L1630.5 2415.9L1634.7 2415.9L1638.9 2415.9L1643.1 2415.9L1647.3 2415.9L1651.5 2415.9L1655.7 2415.9L1659.9 2415.9L1664.1 2415.9L1668.3 2415.9L1672.5 2415.9L1676.8 2415.9L1681.0 2415.9L1685.2 2415.9L1689.4 2415.9L1693.6 2415.9L1697.8 2415.9L1702.0 2415.9L1706.2 2415.9L1710.4 2415.8L1714.6 2415.8L1718.8 2415.8L1723.0 2415.8L1727.2 2415.8L1731.4 2415.8L1735.6 2415.8L1739.8 2415.8L1744.0 2415.8L1748.2 2415.8L1752.4 2415.8L1756.6 2415.8L1760.8 2415.8L1765.0 2415.8L1769.2 2415.8L1773.4 2415.8L1777.6 2415.8L1781.8 2415.8L1786.0 2415.8L1790.2 2415.8L1794.4 2415.8L1798.7 2415.8L1802.9 2415.8L1807.1 2415.8L1811.3 2415.8L1815.5 2415.8L1819.7 2415.8L1823.9 2415.8L1828.1 2415.8" stroke="#0000ff" stroke-linecap="square"/>
<path d="M1325.2 2416.6L1326.1 2411.8L1327.0 2407.4L1327.9 2403.2L1328.8 2399.3L1329.7 2395.7L1330.6 2392.2L1331.5 2388.9L1332.4 2385.7L1333.2 2382.7L1334.1 2379.8L1335.0 2377.1L1335.9 2374.4L1336.8 2371.9L1337.7 2369.4L1338.6 2367.0L1339.5 2364.7L1340.4 2362.5L1341.3 2360.3L1342.2 2358.2L1343.1 2356.1L1344.0 2354.1L1344.9 2352.1L1345.8 2350.2L1346.7 2348.3L1347.5 2346.4L1348.4 2344.6L1349.3 2342.9L1350.2 2341.1L1351.1 2339.4L1352.0 2337.7L1352.9 2336.1L1353.8 2334.4L1354.7 2332.8L1355.6 2331.2L1356.5 2329.7L1357.4 2328.1L1358.3 2326.6L1359.2 2325.1L1360.1 2323.6L1361.0 2322.1L1361.9 2320.7L1362.7 2319.3L1363.6 2317.8L1364.5 2316.4L1365.4 2315.0L1366.3 2313.7L1367.2 2312.3L1368.1 2310.9L1369.0 2309.6L1369.9 2308.3L1374.1 2302.2L1378.3 2296.4L1382.5 2290.7L1386.7 2285.3L1390.9 2280.1L1395.1 2275.1L1399.3 2270.2L1403.5 2265.5L1407.7 2261.1L1411.9 2256.9L1416.1 2252.9L1420.3 2249.2L1424.5 2245.7L1428.7 2242.5L1433.0 2239.5L1437.2 2236.8L1441.4 2234.4L1445.6 2232.1L1449.8 2230.1L1454.0 2228.3L1458.2 2226.7L1462.4 2225.3L1466.6 2224.1L1470.8 2223.1L1475.0 2222.1L1479.2 2221.4L1483.4 2220.7L1487.6 2220.2L1491.8 2219.8L1496.0 2219.5L1500.2 2219.3L1504.4 2219.2L1508.6 2219.2L1512.8 2219.2L1517.0 2219.4L1521.2 2219.6L1525.4 2219.9L1529.6 2220.2L1533.8 2220.6L1538.0 2221.1L1542.2 2221.6L1546.4 2222.2L1550.6 2222.8L1554.9 2223.5L1559.1 2224.2L1563.3 2225.0L1567.5 2225.7L1571.7 2226.6L1575.9 2227.4L1580.1 2228.3L1584.3 2229.3L1588.5 2230.2L1592.7 2231.2L1596.9 2232.2L1601.1 2233.3L1605.3 2234.3L1609.5 2235.4L1613.7 2236.5L1617.9 2237.7L1622.1 2238.8L1626.3 2240.0L1630.5 2241.2L1634.7 2242.4L1638.9 2243.6L1643.1 2244.8L1647.3 2246.1L1651.5 2247.3L1655.7 2248.6L1659.9 2249.9L1664.1 2251.2L1668.3 2252.4L1672.5 2253.7L1676.8 2255.0L1681.0 2256.3L1685.2 2257.6L1689.4 2258.9L1693.6 2260.2L1697.8 2261.5L1702.0 2262.8L1706.2 2264.1L1710.4 2265.4L1714.6 2266.7L1718.8 2267.9L1723.0 2269.2L1727.2 2270.5L1731.4 2271.8L1735.6 2273.0L1739.8 2274.3L1744.0 2275.5L1748.2 2276.8L1752.4 2278.0L1756.6 2279.2L1760.8 2280.5L1765.0 2281.7L1769.2 2282.9L1773.4 2284.1L1777.6 2285.3L1781.8 2286.4L1786.0 2287.6L1790.2 2288.8L1794.4 2289.9L1798.7 2291.1L1802.9 2292.2L1807.1 2293.4L1811.3 2294.5L1815.5 2295.6L1819.7 2296.7L1823.9 2297.8L1828.1 2298.8" stroke="#ff0000" stroke-linecap="square"/>
</g>
<g clip-path="url(#clip11)">
<path d="M1436.95 2393.10 V2384.72 M1430.05 2393.10 H1443.85 M1430.05 2384.72 H1443.85" stroke="#0000ff" stroke-width="2.00" fill="none"/>
<circle cx="1436.95" cy="2389.11" r="6.10" fill="#0000ff"/>
<path d="M1828.08 2382.33 V2373.16 M1821.17 2382.33 H1834.98 M1821.17 2373.16 H1834.98" stroke="#0000ff" stroke-width="2.00" fill="none"/>
<circle cx="1828.08" cy="2377.55" r="6.10" fill="#0000ff"/>
<path d="M1436.95 2094.04 V2086.06 M1430.05 2094.04 H1443.85 M1430.05 2086.06 H1443.85" stroke="#ff0000" stroke-width="2.00" fill="none"/>
<circle cx="1436.95" cy="2090.05" r="6.10" fill="#ff0000"/>
<path d="M1828.08 2283.84 V2261.51 M1821.17 2283.84 H1834.98 M1821.17 2261.51 H1834.98" stroke="#ff0000" stroke-width="2.00" fill="none"/>
<circle cx="1828.08" cy="2273.47" r="6.10" fill="#ff0000"/>
</g>
<rect x="1321.00" y="1978.00" width="518.00" height="478.50" fill="none" stroke="#7d7d7d" stroke-width="1.90"/>
<path d="M1325.20 2456.50 v6.80 M1436.95 2456.50 v6.80 M1548.70 2456.50 v6.80 M1660.45 2456.50 v6.80 M1772.20 2456.50 v6.80 M1321.00 2456.50 h-6.80 M1321.00 2376.75 h-6.80 M1321.00 2297.00 h-6.80 M1321.00 2217.25 h-6.80 M1321.00 2137.50 h-6.80 M1321.00 2057.75 h-6.80 M1321.00 1978.00 h-6.80" stroke="#000" stroke-width="1.90" fill="none"/>
<text transform="translate(1325.20 2486.10) scale(1 1.035)" font-size="22.0" text-anchor="middle">0</text>
<text transform="translate(1436.95 2486.10) scale(1 1.035)" font-size="22.0" text-anchor="middle">10</text>
<text transform="translate(1548.70 2486.10) scale(1 1.035)" font-size="22.0" text-anchor="middle">20</text>
<text transform="translate(1660.45 2486.10) scale(1 1.035)" font-size="22.0" text-anchor="middle">30</text>
<text transform="translate(1772.20 2486.10) scale(1 1.035)" font-size="22.0" text-anchor="middle">40</text>
<text transform="translate(1308.00 2464.70) scale(1 1.035)" font-size="22.0" text-anchor="end">0</text>
<text transform="translate(1308.00 2384.95) scale(1 1.035)" font-size="22.0" text-anchor="end">2</text>
<text transform="translate(1308.00 2305.20) scale(1 1.035)" font-size="22.0" text-anchor="end">4</text>
<text transform="translate(1308.00 2225.45) scale(1 1.035)" font-size="22.0" text-anchor="end">6</text>
<text transform="translate(1308.00 2145.70) scale(1 1.035)" font-size="22.0" text-anchor="end">8</text>
<text transform="translate(1308.00 2065.95) scale(1 1.035)" font-size="22.0" text-anchor="end">10</text>
<text transform="translate(1308.00 1986.20) scale(1 1.035)" font-size="22.0" text-anchor="end">12</text>
<text transform="translate(1580.00 1971.40) scale(1 1.035)" font-size="25.0" text-anchor="middle">ERBB</text>
<text transform="translate(1579.40 2514.20) scale(1 1.035)" font-size="25.0" text-anchor="middle">Time, min</text>
<text transform="translate(1272.20 2217.25) rotate(-90) scale(1 1.035)" font-size="25.0" text-anchor="middle">Normalized pERBB</text>
<rect x="1332.20" y="1989.00" width="213.90" height="136.70" rx="4.5" ry="4.5" fill="#ffffff" fill-opacity="0.8" stroke="#cccccc" stroke-opacity="0.8" stroke-width="1.4"/>
<path d="M1340.80 2006.60 H1387.60" stroke="#0000ff" stroke-width="5.00" stroke-dasharray="19.5 7.0" fill="none"/>
<text transform="translate(1405.60 2015.50) scale(1 1.035)" font-size="22.2">TrkA, no inh</text>
<path d="M1340.80 2038.83 H1387.60" stroke="#ff0000" stroke-width="5.00" stroke-dasharray="19.5 7.0" fill="none"/>
<text transform="translate(1405.60 2047.73) scale(1 1.035)" font-size="22.2">TrkB, no inh</text>
<path d="M1342.10 2071.06 H1386.30" stroke="#0000ff" stroke-width="5.00" stroke-linecap="square" fill="none"/>
<text transform="translate(1405.60 2079.96) scale(1 1.035)" font-size="22.2">TrkA</text>
<path d="M1342.10 2103.29 H1386.30" stroke="#ff0000" stroke-width="5.00" stroke-linecap="square" fill="none"/>
<text transform="translate(1405.60 2112.19) scale(1 1.035)" font-size="22.2">TrkB</text>
</g>
</svg>
</body></html>
